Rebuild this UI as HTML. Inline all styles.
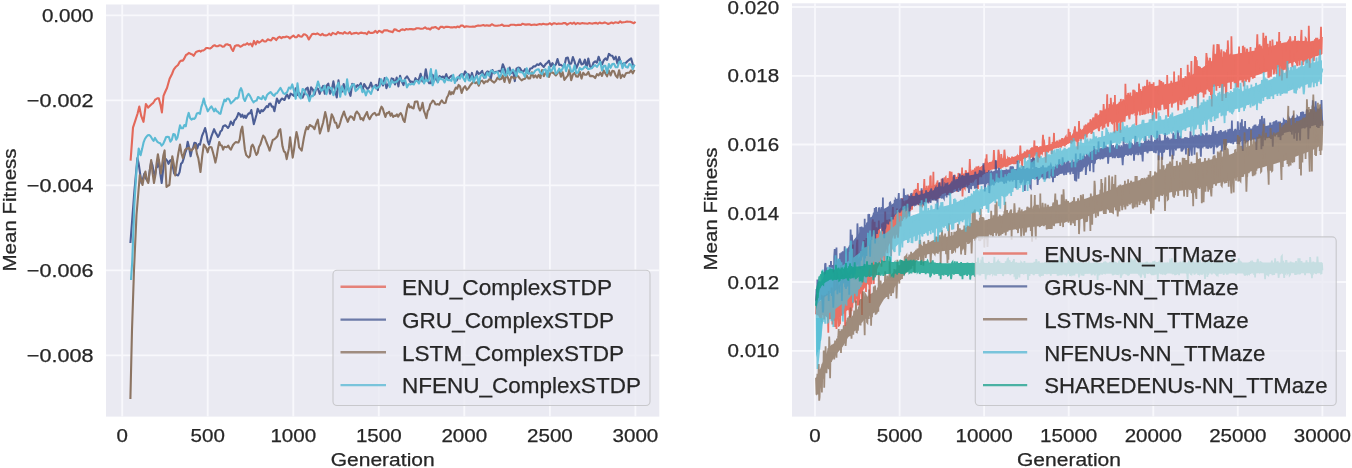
<!DOCTYPE html>
<html><head><meta charset="utf-8"><style>html,body{margin:0;padding:0;background:#fff;overflow:hidden}svg{display:block;will-change:transform} text{stroke:#262626;stroke-width:0.25px;paint-order:stroke}</style></head>
<body>
<svg width="1352" height="468" viewBox="0 0 1352 468" font-family='"Liberation Sans", sans-serif' fill="#262626">
<rect width="1352" height="468" fill="#fff"/>
<rect x="106.0" y="4.5" width="553.3" height="412.1" fill="#EAEAF2"/>
<line x1="122.2" y1="4.5" x2="122.2" y2="416.6" stroke="#F8F8FC" stroke-width="1.8"/>
<line x1="207.7" y1="4.5" x2="207.7" y2="416.6" stroke="#F8F8FC" stroke-width="1.8"/>
<line x1="293.3" y1="4.5" x2="293.3" y2="416.6" stroke="#F8F8FC" stroke-width="1.8"/>
<line x1="378.8" y1="4.5" x2="378.8" y2="416.6" stroke="#F8F8FC" stroke-width="1.8"/>
<line x1="464.3" y1="4.5" x2="464.3" y2="416.6" stroke="#F8F8FC" stroke-width="1.8"/>
<line x1="549.9" y1="4.5" x2="549.9" y2="416.6" stroke="#F8F8FC" stroke-width="1.8"/>
<line x1="635.4" y1="4.5" x2="635.4" y2="416.6" stroke="#F8F8FC" stroke-width="1.8"/>
<line x1="106.0" y1="15.3" x2="659.3" y2="15.3" stroke="#F8F8FC" stroke-width="1.8"/>
<line x1="106.0" y1="100.3" x2="659.3" y2="100.3" stroke="#F8F8FC" stroke-width="1.8"/>
<line x1="106.0" y1="185.4" x2="659.3" y2="185.4" stroke="#F8F8FC" stroke-width="1.8"/>
<line x1="106.0" y1="270.4" x2="659.3" y2="270.4" stroke="#F8F8FC" stroke-width="1.8"/>
<line x1="106.0" y1="355.4" x2="659.3" y2="355.4" stroke="#F8F8FC" stroke-width="1.8"/>
<rect x="792.0" y="3.3" width="554.0" height="413.3" fill="#EAEAF2"/>
<line x1="815.0" y1="3.3" x2="815.0" y2="416.6" stroke="#F8F8FC" stroke-width="1.8"/>
<line x1="899.6" y1="3.3" x2="899.6" y2="416.6" stroke="#F8F8FC" stroke-width="1.8"/>
<line x1="984.1" y1="3.3" x2="984.1" y2="416.6" stroke="#F8F8FC" stroke-width="1.8"/>
<line x1="1068.7" y1="3.3" x2="1068.7" y2="416.6" stroke="#F8F8FC" stroke-width="1.8"/>
<line x1="1153.3" y1="3.3" x2="1153.3" y2="416.6" stroke="#F8F8FC" stroke-width="1.8"/>
<line x1="1237.8" y1="3.3" x2="1237.8" y2="416.6" stroke="#F8F8FC" stroke-width="1.8"/>
<line x1="1322.4" y1="3.3" x2="1322.4" y2="416.6" stroke="#F8F8FC" stroke-width="1.8"/>
<line x1="792.0" y1="7.0" x2="1346.0" y2="7.0" stroke="#F8F8FC" stroke-width="1.8"/>
<line x1="792.0" y1="75.8" x2="1346.0" y2="75.8" stroke="#F8F8FC" stroke-width="1.8"/>
<line x1="792.0" y1="144.5" x2="1346.0" y2="144.5" stroke="#F8F8FC" stroke-width="1.8"/>
<line x1="792.0" y1="213.2" x2="1346.0" y2="213.2" stroke="#F8F8FC" stroke-width="1.8"/>
<line x1="792.0" y1="282.0" x2="1346.0" y2="282.0" stroke="#F8F8FC" stroke-width="1.8"/>
<line x1="792.0" y1="350.8" x2="1346.0" y2="350.8" stroke="#F8F8FC" stroke-width="1.8"/>
<text x="122.2" y="442.3" font-size="18.3" text-anchor="middle" textLength="11.4" lengthAdjust="spacingAndGlyphs">0</text>
<text x="207.7" y="442.3" font-size="18.3" text-anchor="middle" textLength="34.3" lengthAdjust="spacingAndGlyphs">500</text>
<text x="293.3" y="442.3" font-size="18.3" text-anchor="middle" textLength="45.8" lengthAdjust="spacingAndGlyphs">1000</text>
<text x="378.8" y="442.3" font-size="18.3" text-anchor="middle" textLength="45.8" lengthAdjust="spacingAndGlyphs">1500</text>
<text x="464.3" y="442.3" font-size="18.3" text-anchor="middle" textLength="45.8" lengthAdjust="spacingAndGlyphs">2000</text>
<text x="549.9" y="442.3" font-size="18.3" text-anchor="middle" textLength="45.8" lengthAdjust="spacingAndGlyphs">2500</text>
<text x="635.4" y="442.3" font-size="18.3" text-anchor="middle" textLength="45.8" lengthAdjust="spacingAndGlyphs">3000</text>
<text x="93.4" y="21.9" font-size="18.3" text-anchor="end" textLength="51.5" lengthAdjust="spacingAndGlyphs">0.000</text>
<text x="93.4" y="106.9" font-size="18.3" text-anchor="end" textLength="66.6" lengthAdjust="spacingAndGlyphs">−0.002</text>
<text x="93.4" y="192.0" font-size="18.3" text-anchor="end" textLength="66.6" lengthAdjust="spacingAndGlyphs">−0.004</text>
<text x="93.4" y="277.0" font-size="18.3" text-anchor="end" textLength="66.6" lengthAdjust="spacingAndGlyphs">−0.006</text>
<text x="93.4" y="362.0" font-size="18.3" text-anchor="end" textLength="66.6" lengthAdjust="spacingAndGlyphs">−0.008</text>
<text x="815.0" y="442.3" font-size="18.3" text-anchor="middle" textLength="11.4" lengthAdjust="spacingAndGlyphs">0</text>
<text x="899.6" y="442.3" font-size="18.3" text-anchor="middle" textLength="45.8" lengthAdjust="spacingAndGlyphs">5000</text>
<text x="984.1" y="442.3" font-size="18.3" text-anchor="middle" textLength="57.2" lengthAdjust="spacingAndGlyphs">10000</text>
<text x="1068.7" y="442.3" font-size="18.3" text-anchor="middle" textLength="57.2" lengthAdjust="spacingAndGlyphs">15000</text>
<text x="1153.3" y="442.3" font-size="18.3" text-anchor="middle" textLength="57.2" lengthAdjust="spacingAndGlyphs">20000</text>
<text x="1237.8" y="442.3" font-size="18.3" text-anchor="middle" textLength="57.2" lengthAdjust="spacingAndGlyphs">25000</text>
<text x="1322.4" y="442.3" font-size="18.3" text-anchor="middle" textLength="57.2" lengthAdjust="spacingAndGlyphs">30000</text>
<text x="779.1" y="13.6" font-size="18.3" text-anchor="end" textLength="51.5" lengthAdjust="spacingAndGlyphs">0.020</text>
<text x="779.1" y="82.4" font-size="18.3" text-anchor="end" textLength="51.5" lengthAdjust="spacingAndGlyphs">0.018</text>
<text x="779.1" y="151.1" font-size="18.3" text-anchor="end" textLength="51.5" lengthAdjust="spacingAndGlyphs">0.016</text>
<text x="779.1" y="219.8" font-size="18.3" text-anchor="end" textLength="51.5" lengthAdjust="spacingAndGlyphs">0.014</text>
<text x="779.1" y="288.6" font-size="18.3" text-anchor="end" textLength="51.5" lengthAdjust="spacingAndGlyphs">0.012</text>
<text x="779.1" y="357.4" font-size="18.3" text-anchor="end" textLength="51.5" lengthAdjust="spacingAndGlyphs">0.010</text>
<text x="382.7" y="466.3" font-size="18.3" text-anchor="middle" textLength="104.0" lengthAdjust="spacingAndGlyphs">Generation</text>
<text x="1069.0" y="466.3" font-size="18.3" text-anchor="middle" textLength="104.0" lengthAdjust="spacingAndGlyphs">Generation</text>
<text transform="translate(15.6,210) rotate(-90)" font-size="18.3" text-anchor="middle" textLength="123.0" lengthAdjust="spacingAndGlyphs">Mean Fitness</text>
<text transform="translate(717.2,209) rotate(-90)" font-size="18.3" text-anchor="middle" textLength="123.0" lengthAdjust="spacingAndGlyphs">Mean Fitness</text>
<polyline points="130.6,160.6 133.0,127.6 135.3,120.6 137.6,113.5 139.3,106.5 141.2,115.9 143.5,121.8 145.9,104.0 148.2,107.6 151.8,104.0 153.0,103.1 154.1,101.5 155.3,99.4 156.5,99.0 157.6,98.2 158.8,98.2 160.4,104.4 161.9,112.4 163.5,95.9 164.7,93.0 165.8,90.5 167.0,88.0 169.6,78.8 172.0,74.0 173.7,69.7 175.4,67.3 178.0,65.0 179.6,61.9 181.2,60.6 182.6,60.8 184.0,59.0 186.0,55.0 187.4,54.3 188.8,52.9 191.0,54.0 192.3,54.4 193.7,55.8 196.0,52.0 198.5,51.0 199.7,50.7 200.8,51.6 202.0,50.5 203.4,50.5 204.8,49.5 206.2,48.0 207.5,48.0 208.7,48.3 210.0,48.5 211.5,47.6 213.0,46.0 214.6,45.2 216.1,46.2 217.7,46.2 219.3,45.4 221.0,45.5 222.5,46.8 224.0,46.5 225.7,44.5 227.3,44.2 228.7,45.0 230.0,45.0 231.5,48.7 233.0,51.0 235.0,46.0 236.9,45.2 238.6,45.4 240.3,46.8 242.0,45.9 243.7,44.5 245.4,44.8 247.2,43.2 248.9,44.7 250.6,43.5 252.3,46.3 254.0,40.9 255.7,44.4 257.4,41.1 259.1,42.7 260.8,41.5 262.6,39.9 264.3,41.5 266.0,41.4 267.7,39.3 269.4,40.0 271.1,40.5 272.8,37.9 274.5,38.2 276.2,40.1 278.0,37.7 279.7,36.8 281.4,38.1 283.1,37.0 284.8,37.2 286.5,36.5 288.2,36.9 289.9,38.4 291.6,36.9 293.4,35.6 295.1,37.3 296.8,37.2 298.5,35.0 300.2,36.5 301.9,36.7 303.6,34.3 305.3,34.5 307.0,35.8 308.8,39.5 310.5,36.6 312.2,34.0 313.9,33.8 315.6,34.2 317.3,33.4 319.0,34.4 320.7,35.3 322.4,33.9 324.2,35.3 325.9,35.4 327.6,35.0 329.3,33.7 331.0,35.2 332.7,32.9 334.4,33.6 336.1,34.3 337.8,32.0 339.5,33.1 341.3,33.1 343.0,33.8 344.7,32.1 346.4,33.3 348.1,33.5 349.8,32.0 351.5,34.1 353.2,33.4 354.9,33.1 356.7,32.8 358.4,33.8 360.1,32.9 361.8,32.6 363.5,33.3 365.2,33.0 366.9,34.2 368.6,31.6 370.3,33.0 372.1,32.9 373.8,32.4 375.5,30.9 377.2,32.9 378.9,30.8 380.6,31.5 382.3,32.5 384.0,30.3 385.7,30.4 387.5,30.3 389.2,31.3 390.9,31.6 392.6,32.2 394.3,29.4 396.0,29.6 397.7,30.8 399.4,31.2 401.1,29.7 402.9,29.4 404.6,30.1 406.3,29.0 408.0,29.4 409.7,29.0 411.4,29.1 413.1,29.4 414.8,29.2 416.5,28.3 418.3,28.2 420.0,28.6 421.7,28.8 423.4,28.4 425.1,27.4 426.8,28.8 428.5,28.5 430.2,29.5 431.9,27.5 433.7,27.6 435.4,27.0 437.1,28.1 438.8,29.1 440.5,26.9 442.2,26.7 443.9,27.8 445.6,26.9 447.3,26.7 449.1,27.0 450.8,27.4 452.5,27.4 454.2,27.0 455.9,27.5 457.6,26.5 459.3,27.2 461.0,25.6 462.7,25.5 464.5,27.1 466.2,26.3 467.9,26.5 469.6,26.8 471.3,26.8 473.0,26.5 474.7,26.8 476.4,25.9 478.1,25.4 479.9,25.8 481.6,25.4 483.3,25.0 485.0,25.7 486.7,25.3 488.4,25.6 490.1,25.6 491.8,24.2 493.5,25.2 495.3,25.8 497.0,25.8 498.7,25.5 500.4,25.2 502.1,24.6 503.8,25.9 505.5,25.8 507.2,25.8 508.9,25.9 510.6,24.8 512.4,24.8 514.1,24.8 515.8,25.3 517.5,24.9 519.2,24.7 520.9,25.0 522.6,23.7 524.3,24.4 526.0,24.6 527.8,24.4 529.5,24.2 531.2,25.1 532.9,24.7 534.6,24.6 536.3,25.0 538.0,24.4 539.7,24.0 541.4,24.5 543.2,23.8 544.9,24.2 546.6,24.4 548.3,24.2 550.0,23.2 551.7,24.6 553.4,23.4 555.1,23.4 556.8,24.1 558.6,23.5 560.3,23.8 562.0,23.7 563.7,23.0 565.4,23.1 567.1,24.6 568.8,23.6 570.5,22.9 572.2,23.8 574.0,22.6 575.7,24.2 577.4,23.0 579.1,23.6 580.8,23.6 582.5,23.0 584.2,23.4 585.9,23.5 587.6,23.7 589.4,23.1 591.1,23.5 592.8,23.6 594.5,23.1 596.2,22.9 597.9,23.7 599.6,22.5 601.3,23.3 603.0,23.1 604.8,22.4 606.5,23.1 608.2,24.0 609.9,23.3 611.6,22.5 613.3,23.4 615.0,22.4 616.7,22.5 618.4,23.0 620.2,21.4 621.9,22.6 623.6,22.2 625.3,22.0 627.0,21.6 628.7,21.8 630.4,21.8 632.1,22.5 633.8,23.2 635.6,21.9" fill="none" stroke="#E3685A" stroke-width="2.1" stroke-linejoin="round" stroke-linecap="butt" stroke-opacity="1.0"/>
<polyline points="130.4,243.0 132.4,217.0 134.4,191.0 137.4,158.0 138.7,163.8 141.5,183.0 142.9,178.9 144.4,173.5 145.7,178.1 147.0,180.0 148.3,181.2 149.8,170.2 151.2,161.9 152.5,165.4 153.7,172.8 155.0,175.4 156.3,167.8 157.5,166.7 158.8,160.0 160.2,173.0 161.7,183.0 163.1,170.4 164.6,158.1 165.9,159.0 167.2,160.8 168.5,163.8 169.9,160.7 171.3,160.0 172.8,166.5 174.2,173.5 175.5,174.2 176.8,175.0 178.1,175.4 179.6,172.1 181.0,163.8 182.4,162.4 183.8,158.1 185.1,153.2 186.4,149.6 187.7,141.7 189.1,147.5 190.6,156.2 191.9,150.0 193.1,147.8 194.4,142.7 195.9,143.3 197.3,148.5 198.7,144.2 200.0,144.6 202.0,136.0 203.6,132.1 205.1,128.0 206.4,133.4 207.7,141.2 209.0,144.6 211.5,136.0 214.1,129.2 215.4,132.4 216.7,134.4 218.0,136.9 219.3,134.8 220.5,131.4 221.8,130.5 223.1,126.4 224.3,125.6 225.6,125.4 228.0,128.0 229.4,125.7 230.8,121.5 233.0,125.0 234.4,120.5 235.9,119.0 237.2,116.6 238.4,113.1 239.7,113.8 241.0,116.8 242.3,114.7 243.6,117.7 244.9,115.7 246.1,117.9 247.4,115.1 248.7,113.4 250.0,113.4 251.3,110.0 253.8,124.1 255.1,119.7 256.4,115.0 257.7,108.7 260.0,113.0 261.4,110.1 262.8,111.3 264.1,109.8 265.4,107.9 266.7,106.2 268.0,107.2 269.2,103.8 270.5,103.6 271.8,106.7 273.1,106.5 274.4,111.3 276.9,98.5 279.0,103.0 280.5,100.2 282.0,98.5 284.5,100.0 285.9,96.4 287.2,94.6 288.9,98.3 290.6,93.7 292.3,94.7 294.0,95.8 295.7,88.4 297.5,95.1 299.2,92.9 300.9,95.5 302.6,97.7 304.3,93.7 306.0,88.8 307.7,87.6 309.4,97.7 311.1,87.3 312.9,89.7 314.6,94.6 316.3,87.8 318.0,88.9 319.7,93.8 321.4,89.0 323.1,85.9 324.8,93.7 326.5,85.8 328.3,83.6 330.0,93.7 331.7,90.2 333.4,81.4 335.1,90.7 336.8,97.5 338.5,80.3 340.2,92.2 341.9,91.7 343.7,84.0 345.4,90.2 347.1,85.6 348.8,90.7 350.5,95.8 352.2,83.9 353.9,84.4 355.6,87.8 357.3,85.2 359.1,86.3 360.8,83.2 362.5,90.8 364.2,84.1 365.9,86.8 367.6,89.1 369.3,87.1 371.0,82.7 372.7,88.2 374.5,86.2 376.2,84.9 377.9,90.1 379.6,78.9 381.3,82.3 383.0,85.5 384.7,78.1 386.4,88.2 388.1,84.1 389.8,85.9 391.6,78.4 393.3,78.9 395.0,84.5 396.7,77.6 398.4,86.4 400.1,75.7 401.8,81.6 403.5,85.1 405.2,78.5 407.0,76.3 408.7,79.0 410.4,82.1 412.1,81.6 413.8,83.4 415.5,78.2 417.2,80.9 418.9,79.2 420.6,73.8 422.4,81.5 424.1,80.1 425.8,69.2 427.5,79.0 429.2,83.3 430.9,83.3 432.6,74.7 434.3,80.0 436.0,78.2 437.8,82.0 439.5,76.0 441.2,77.4 442.9,76.5 444.6,78.2 446.3,74.2 448.0,79.6 449.7,77.2 451.4,75.7 453.2,77.6 454.9,80.6 456.6,80.5 458.3,77.4 460.0,75.4 461.7,74.0 463.4,75.9 465.1,71.4 466.8,74.0 468.6,74.2 470.3,78.8 472.0,72.9 473.7,79.3 475.4,78.0 477.1,71.3 478.8,73.9 480.5,73.0 482.2,70.9 484.0,77.7 485.7,73.4 487.4,71.4 489.1,72.0 490.8,78.9 492.5,70.1 494.2,73.3 495.9,71.8 497.6,71.7 499.4,70.8 501.1,71.8 502.8,64.2 504.5,68.4 506.2,73.5 507.9,72.5 509.6,67.6 511.3,73.1 513.0,70.2 514.8,81.1 516.5,68.7 518.2,67.6 519.9,68.1 521.6,70.9 523.3,71.8 525.0,69.2 526.7,72.1 528.4,73.3 530.2,68.6 531.9,68.2 533.6,66.2 535.3,66.4 537.0,64.3 538.7,64.9 540.4,63.2 542.1,65.2 543.8,67.0 545.6,64.1 547.3,62.7 549.0,60.7 550.7,66.5 552.4,63.1 554.1,66.2 555.8,64.6 557.5,59.0 559.2,64.9 560.9,64.7 562.7,66.2 564.4,65.9 566.1,58.0 567.8,57.6 569.5,64.0 571.2,63.4 572.9,57.1 574.6,61.7 576.3,68.3 578.1,64.0 579.8,59.3 581.5,64.4 583.2,63.8 584.9,59.7 586.6,67.6 588.3,58.5 590.0,66.2 591.7,68.0 593.5,62.6 595.2,61.4 596.9,62.7 598.6,56.7 600.3,61.6 602.0,64.4 603.7,60.3 605.4,58.4 607.1,59.9 608.9,53.9 610.6,55.4 612.3,55.8 614.0,59.3 615.7,56.7 617.4,63.6 619.1,57.1 620.8,62.6 622.5,64.8 624.3,63.1 626.0,62.8 627.7,61.0 629.4,59.6 631.1,58.4 632.8,64.5 634.5,66.4" fill="none" stroke="#4C5E95" stroke-width="2.1" stroke-linejoin="round" stroke-linecap="butt" stroke-opacity="1.0"/>
<polyline points="130.4,399.0 132.0,330.0 134.0,270.0 136.5,215.0 139.8,175.0 142.5,185.0 143.9,177.2 145.4,171.5 146.9,180.2 148.3,183.0 149.8,170.4 151.2,160.0 152.6,173.2 154.0,183.0 155.3,175.6 156.6,163.1 157.9,154.2 159.4,163.5 160.8,173.5 162.1,165.0 163.3,155.7 164.6,150.4 166.5,186.9 167.9,185.8 169.4,185.0 170.9,169.0 172.3,156.2 173.8,164.3 175.2,175.4 176.8,163.2 178.4,153.0 180.0,144.6 181.4,153.2 182.9,158.1 185.0,150.0 186.3,148.8 187.7,148.5 189.0,147.7 190.2,150.3 191.5,150.4 192.8,149.1 194.1,147.4 195.4,144.6 196.9,153.8 198.3,158.1 200.5,172.0 202.2,156.2 203.8,144.6 205.1,146.4 206.4,148.4 207.7,152.3 209.0,147.7 210.2,147.0 211.5,147.2 212.8,151.7 214.1,156.8 215.4,162.6 216.7,156.4 217.9,148.6 219.2,142.0 220.5,145.2 221.8,145.5 223.1,149.7 224.4,146.7 225.6,147.0 226.9,147.2 228.2,145.6 229.5,148.1 230.8,149.7 233.0,145.0 234.4,143.3 235.9,142.0 237.2,142.5 238.4,142.5 239.7,139.5 241.0,130.4 242.3,126.7 244.9,149.7 246.2,155.0 247.4,156.2 248.7,157.4 250.0,156.1 251.3,146.6 252.6,144.6 253.9,147.3 255.1,151.5 256.4,154.9 257.7,153.0 259.0,146.9 260.3,144.6 261.8,139.8 263.2,135.6 264.8,137.5 266.4,142.0 268.0,146.0 269.6,150.6 271.2,145.3 272.8,139.9 274.4,139.2 276.0,137.8 277.4,136.2 278.9,130.5 280.3,129.2 282.5,146.3 283.9,151.3 285.3,152.4 286.7,159.1 288.9,148.4 290.1,137.2 292.7,157.7 294.0,149.8 295.2,140.3 296.5,132.0 297.8,137.5 299.1,147.4 301.7,150.6 303.9,137.8 305.4,130.9 306.8,126.9 308.1,129.2 309.7,125.0 311.3,126.0 312.9,126.8 314.5,129.2 316.1,123.8 317.8,119.6 319.9,133.5 321.5,128.1 323.1,122.8 325.2,112.1 326.8,119.1 328.4,131.3 330.0,124.0 331.7,114.2 333.3,117.4 334.9,122.8 336.2,122.9 337.5,127.9 338.8,126.9 340.1,123.1 341.5,118.0 344.0,111.5 345.3,115.9 346.5,118.6 347.8,121.8 349.1,118.4 350.4,116.3 351.7,116.7 354.0,120.0 355.4,113.9 356.8,111.5 358.1,113.1 359.3,114.7 360.6,119.2 361.9,118.2 363.2,120.3 364.5,116.7 367.0,112.0 368.3,117.0 369.6,119.2 371.3,115.9 373.0,113.8 374.7,112.8 376.2,115.3 377.7,114.4 379.0,114.7 380.2,110.0 381.5,106.7 382.8,108.6 384.1,113.2 385.4,116.9 386.7,113.1 387.9,113.1 389.2,111.8 390.5,115.8 391.8,113.4 393.1,116.9 394.4,115.7 395.6,116.0 396.9,114.4 398.2,116.7 399.5,114.3 400.8,113.1 402.1,115.7 403.3,120.0 404.6,122.0 405.9,114.8 407.2,107.7 408.5,104.1 409.8,107.4 411.0,106.5 412.3,108.0 413.6,108.4 414.9,101.8 416.2,101.5 417.5,101.6 418.7,107.6 420.0,110.5 421.3,107.9 422.6,102.8 423.9,110.9 425.1,113.9 426.4,118.2 427.7,111.1 429.0,109.2 430.3,104.1 431.6,102.6 432.8,100.5 434.1,101.5 435.4,104.3 436.6,104.5 437.9,104.1 439.2,104.7 440.5,102.2 441.8,100.3 443.1,102.3 444.3,103.1 445.6,102.8 446.9,97.5 448.2,95.5 449.5,91.3 450.8,94.4 452.0,92.2 453.3,93.8 454.6,90.1 455.9,87.5 457.2,88.7 458.6,84.9 460.0,86.2 461.7,93.0 463.4,88.1 465.1,86.2 466.8,89.9 468.5,88.1 470.3,85.3 472.0,83.3 473.7,81.6 475.4,83.2 477.1,82.2 478.8,85.7 480.5,81.3 482.2,80.6 483.9,83.3 485.7,81.2 487.4,81.8 489.1,79.3 490.8,79.7 492.5,81.4 494.2,82.6 495.9,80.8 497.6,77.6 499.3,79.4 501.1,78.9 502.8,75.7 504.5,82.0 506.2,74.6 507.9,77.7 509.6,82.8 511.3,76.7 513.0,77.5 514.7,78.7 516.5,75.4 518.2,76.5 519.9,78.6 521.6,80.4 523.3,79.2 525.0,78.7 526.7,75.4 528.4,78.4 530.1,78.4 531.9,72.2 533.6,77.5 535.3,75.4 537.0,77.6 538.7,74.8 540.4,78.0 542.1,70.0 543.8,76.3 545.5,73.1 547.3,71.2 549.0,76.9 550.7,72.1 552.4,72.5 554.1,73.5 555.8,75.5 557.5,73.3 559.2,70.0 560.9,76.8 562.6,72.3 564.4,79.9 566.1,77.6 567.8,75.6 569.5,69.5 571.2,80.2 572.9,74.6 574.6,72.9 576.3,76.5 578.0,76.7 579.8,71.7 581.5,78.6 583.2,72.7 584.9,74.8 586.6,74.6 588.3,72.0 590.0,76.1 591.7,75.9 593.4,76.2 595.2,78.1 596.9,74.1 598.6,75.4 600.3,72.7 602.0,75.9 603.7,70.4 605.4,73.5 607.1,76.3 608.8,70.6 610.6,75.5 612.3,70.8 614.0,71.2 615.7,75.6 617.4,77.6 619.1,70.2 620.8,78.1 622.5,74.8 624.2,76.9 626.0,73.2 627.7,72.8 629.4,72.6 631.1,70.4 632.8,73.3 634.5,69.9" fill="none" stroke="#8C7462" stroke-width="2.1" stroke-linejoin="round" stroke-linecap="butt" stroke-opacity="1.0"/>
<polyline points="131.0,280.0 132.2,262.0 134.4,204.0 136.5,170.0 138.7,148.5 140.6,155.2 142.1,149.1 143.5,142.7 144.9,139.0 146.3,136.9 147.8,135.3 149.2,135.0 150.6,136.3 152.1,138.8 153.6,140.8 155.0,137.9 156.3,140.2 157.5,142.0 158.8,142.7 160.2,143.3 161.7,145.6 163.1,144.1 164.6,140.8 166.1,137.0 167.5,136.9 168.9,137.1 170.4,141.7 171.9,139.6 173.3,134.0 174.8,134.4 176.2,139.8 177.5,137.4 178.7,131.8 180.0,125.4 181.4,128.3 182.9,128.3 184.4,125.0 185.8,126.3 187.2,118.1 188.7,112.9 190.1,118.0 191.5,119.6 192.8,118.6 194.1,119.0 195.4,117.7 196.9,113.4 198.3,112.9 200.0,113.8 201.3,107.1 202.5,103.6 203.8,98.5 205.1,104.1 206.4,107.2 207.7,111.3 210.0,108.0 211.4,106.4 212.8,108.7 214.1,111.4 215.4,108.6 216.7,111.3 218.0,111.8 219.2,113.4 220.5,113.8 221.8,108.2 223.1,104.0 224.4,99.7 225.7,101.2 226.9,98.7 228.2,98.5 229.5,100.0 230.8,103.4 232.1,102.3 234.5,100.0 235.8,98.1 237.2,98.5 238.5,97.0 239.7,90.9 241.0,88.2 242.3,91.5 243.6,98.6 244.9,101.0 247.0,96.0 248.5,93.8 250.0,95.9 252.0,100.0 253.6,102.3 255.1,101.0 256.6,100.6 258.0,97.0 260.3,98.5 261.6,99.2 263.0,96.0 265.4,99.7 267.1,94.9 268.8,93.3 270.5,92.0 273.0,95.0 274.3,95.8 275.6,93.6 276.9,93.3 279.0,90.0 280.5,87.9 282.0,90.8 283.5,93.4 285.0,94.0 287.2,92.0 288.9,87.5 290.6,88.6 292.3,84.4 294.0,91.1 295.7,98.7 297.5,83.3 299.2,96.3 300.9,98.5 302.6,89.0 304.3,90.1 306.0,94.2 307.7,95.1 309.4,101.2 311.1,95.7 312.9,96.2 314.6,90.9 316.3,88.1 318.0,81.6 319.7,87.1 321.4,90.8 323.1,89.5 324.8,85.6 326.5,94.1 328.3,87.1 330.0,87.9 331.7,88.1 333.4,95.3 335.1,90.3 336.8,86.6 338.5,82.8 340.2,96.8 341.9,86.3 343.7,90.5 345.4,94.6 347.1,79.4 348.8,91.6 350.5,87.9 352.2,84.8 353.9,84.2 355.6,91.1 357.3,89.5 359.1,87.2 360.8,85.6 362.5,92.2 364.2,90.1 365.9,95.3 367.6,90.5 369.3,91.5 371.0,94.0 372.7,88.7 374.5,86.2 376.2,88.6 377.9,87.4 379.6,86.5 381.3,79.3 383.0,83.9 384.7,83.3 386.4,77.5 388.1,79.8 389.8,87.1 391.6,80.4 393.3,82.8 395.0,82.2 396.7,81.7 398.4,79.9 400.1,78.0 401.8,81.4 403.5,81.0 405.2,79.9 407.0,87.4 408.7,84.0 410.4,84.5 412.1,83.8 413.8,84.5 415.5,81.1 417.2,80.7 418.9,83.5 420.6,79.6 422.4,77.0 424.1,83.4 425.8,79.4 427.5,81.3 429.2,78.9 430.9,69.1 432.6,85.3 434.3,80.3 436.0,70.3 437.8,82.5 439.5,77.6 441.2,79.1 442.9,79.3 444.6,82.5 446.3,77.8 448.0,80.2 449.7,80.0 451.4,80.8 453.2,74.7 454.9,83.0 456.6,77.9 458.3,77.0 460.0,78.7 461.7,74.2 463.4,78.3 465.1,81.3 466.8,73.7 468.6,80.2 470.3,80.7 472.0,76.3 473.7,82.0 475.4,77.3 477.1,76.0 478.8,83.7 480.5,76.1 482.2,74.2 484.0,76.8 485.7,77.7 487.4,72.7 489.1,75.7 490.8,70.6 492.5,71.0 494.2,73.2 495.9,72.6 497.6,71.9 499.4,77.5 501.1,74.6 502.8,69.1 504.5,75.3 506.2,75.6 507.9,68.6 509.6,75.1 511.3,71.4 513.0,69.6 514.8,72.2 516.5,76.0 518.2,68.6 519.9,72.2 521.6,72.0 523.3,73.6 525.0,76.7 526.7,68.2 528.4,73.5 530.2,73.2 531.9,73.4 533.6,73.1 535.3,70.6 537.0,69.6 538.7,69.2 540.4,73.0 542.1,74.2 543.8,69.9 545.6,69.3 547.3,76.6 549.0,66.8 550.7,71.6 552.4,69.4 554.1,65.3 555.8,73.7 557.5,72.3 559.2,68.7 560.9,71.5 562.7,68.4 564.4,63.8 566.1,71.3 567.8,64.9 569.5,65.6 571.2,71.6 572.9,71.4 574.6,65.4 576.3,73.0 578.1,72.5 579.8,67.9 581.5,69.6 583.2,68.6 584.9,66.5 586.6,66.9 588.3,69.3 590.0,68.6 591.7,68.3 593.5,66.2 595.2,65.1 596.9,66.9 598.6,64.5 600.3,61.9 602.0,70.4 603.7,65.8 605.4,65.8 607.1,72.9 608.9,64.0 610.6,67.8 612.3,64.0 614.0,63.7 615.7,67.3 617.4,67.3 619.1,62.1 620.8,61.1 622.5,68.2 624.3,63.2 626.0,67.1 627.7,67.6 629.4,63.9 631.1,65.0 632.8,69.2 634.5,64.7" fill="none" stroke="#5CBAD4" stroke-width="2.1" stroke-linejoin="round" stroke-linecap="butt" stroke-opacity="1.0"/>
<g opacity="0.75">
<polygon points="816.0,303.2 818.0,302.0 820.0,300.9 822.0,299.7 824.0,298.6 826.0,297.2 828.0,295.7 830.0,294.2 832.0,292.7 834.0,291.2 836.0,289.1 838.0,286.4 840.0,283.7 842.0,281.1 844.0,278.4 846.0,275.7 848.0,273.1 850.0,270.4 852.0,267.5 854.0,264.6 856.0,261.7 858.0,258.8 860.0,255.9 862.0,253.0 864.0,250.8 866.0,248.6 868.0,246.4 870.0,244.1 872.0,241.9 874.0,239.7 876.0,237.3 878.0,234.8 880.0,232.3 882.0,229.8 884.0,227.2 886.0,224.7 888.0,222.2 890.0,220.0 892.0,217.7 894.0,215.5 896.0,213.3 898.0,211.0 900.0,208.8 902.0,206.4 904.0,204.0 906.0,201.6 908.0,199.2 910.0,196.8 912.0,194.4 914.0,192.9 916.0,192.2 918.0,191.6 920.0,190.9 922.0,190.3 924.0,189.6 926.0,189.0 928.0,188.0 930.0,187.1 932.0,186.1 934.0,185.1 936.0,184.2 938.0,183.2 940.0,182.6 942.0,181.9 944.0,181.3 946.0,180.6 948.0,180.0 950.0,179.3 952.0,178.6 954.0,177.8 956.0,177.1 958.0,176.3 960.0,175.5 962.0,174.8 964.0,174.0 966.0,173.1 968.0,172.3 970.0,171.4 972.0,170.6 974.0,169.7 976.0,168.8 978.0,167.9 980.0,167.0 982.0,166.1 984.0,165.2 986.0,164.3 988.0,163.4 990.0,162.5 992.0,161.6 994.0,161.3 996.0,161.0 998.0,160.7 1000.0,160.4 1002.0,160.1 1004.0,159.8 1006.0,159.5 1008.0,159.2 1010.0,158.4 1012.0,157.6 1014.0,156.8 1016.0,156.0 1018.0,155.2 1020.0,154.4 1022.0,153.6 1024.0,152.7 1026.0,151.8 1028.0,150.9 1030.0,150.0 1032.0,149.1 1034.0,148.2 1036.0,147.7 1038.0,147.2 1040.0,146.7 1042.0,146.2 1044.0,145.7 1046.0,145.2 1048.0,144.8 1050.0,144.3 1052.0,143.8 1054.0,143.3 1056.0,142.8 1058.0,141.9 1060.0,140.9 1062.0,140.0 1064.0,139.1 1066.0,138.1 1068.0,137.2 1070.0,136.2 1072.0,135.2 1074.0,134.2 1076.0,133.1 1078.0,132.1 1080.0,131.1 1082.0,129.6 1084.0,127.7 1086.0,125.8 1088.0,123.8 1090.0,121.9 1092.0,119.9 1094.0,118.0 1096.0,116.6 1098.0,115.2 1100.0,113.8 1102.0,112.3 1104.0,110.9 1106.0,109.5 1108.0,108.3 1110.0,107.3 1112.0,106.3 1114.0,105.4 1116.0,104.4 1118.0,103.4 1120.0,102.4 1122.0,101.3 1124.0,100.2 1126.0,99.1 1128.0,98.0 1130.0,96.8 1132.0,95.7 1134.0,94.6 1136.0,93.5 1138.0,92.4 1140.0,91.5 1142.0,90.7 1144.0,89.8 1146.0,89.0 1148.0,88.1 1150.0,87.2 1152.0,86.6 1154.0,86.3 1156.0,86.0 1158.0,85.6 1160.0,85.3 1162.0,84.9 1164.0,84.6 1166.0,84.1 1168.0,83.7 1170.0,83.2 1172.0,82.8 1174.0,82.3 1176.0,81.8 1178.0,81.2 1180.0,80.3 1182.0,79.4 1184.0,78.6 1186.0,77.7 1188.0,76.9 1190.0,76.0 1192.0,74.7 1194.0,73.4 1196.0,72.2 1198.0,70.9 1200.0,69.6 1202.0,68.1 1204.0,66.6 1206.0,65.1 1208.0,63.7 1210.0,62.2 1212.0,60.7 1214.0,59.2 1216.0,58.6 1218.0,58.1 1220.0,57.5 1222.0,56.9 1224.0,56.3 1226.0,55.8 1228.0,55.2 1230.0,54.9 1232.0,54.6 1234.0,54.3 1236.0,53.9 1238.0,53.6 1240.0,53.3 1242.0,53.0 1244.0,52.6 1246.0,52.3 1248.0,51.9 1250.0,51.5 1252.0,51.1 1254.0,50.8 1256.0,50.4 1258.0,49.9 1260.0,49.4 1262.0,48.8 1264.0,48.3 1266.0,47.8 1268.0,47.3 1270.0,46.7 1272.0,46.1 1274.0,45.4 1276.0,44.8 1278.0,44.2 1280.0,43.5 1282.0,42.9 1284.0,42.5 1286.0,42.2 1288.0,42.0 1290.0,41.7 1292.0,41.4 1294.0,41.2 1296.0,40.9 1298.0,40.8 1300.0,40.9 1302.0,41.0 1304.0,41.1 1306.0,41.2 1308.0,41.3 1310.0,41.4 1312.0,41.1 1314.0,40.6 1316.0,40.0 1318.0,39.5 1320.0,38.9 1322.0,38.4 1322.0,54.6 1320.0,55.1 1318.0,55.7 1316.0,56.2 1314.0,56.8 1312.0,57.3 1310.0,57.9 1308.0,58.4 1306.0,58.9 1304.0,59.4 1302.0,59.9 1300.0,60.4 1298.0,60.9 1296.0,61.5 1294.0,62.1 1292.0,62.7 1290.0,63.3 1288.0,63.9 1286.0,64.5 1284.0,65.1 1282.0,65.8 1280.0,66.6 1278.0,67.4 1276.0,68.2 1274.0,69.0 1272.0,69.8 1270.0,70.6 1268.0,71.4 1266.0,72.1 1264.0,72.8 1262.0,73.5 1260.0,74.2 1258.0,74.9 1256.0,75.6 1254.0,76.2 1252.0,76.9 1250.0,77.5 1248.0,78.1 1246.0,78.7 1244.0,79.4 1242.0,80.0 1240.0,80.4 1238.0,80.8 1236.0,81.2 1234.0,81.6 1232.0,82.0 1230.0,82.4 1228.0,82.8 1226.0,83.4 1224.0,83.9 1222.0,84.5 1220.0,85.1 1218.0,85.7 1216.0,86.2 1214.0,86.8 1212.0,87.6 1210.0,88.4 1208.0,89.2 1206.0,90.0 1204.0,90.8 1202.0,91.6 1200.0,92.4 1198.0,93.3 1196.0,94.2 1194.0,95.2 1192.0,96.1 1190.0,97.0 1188.0,97.7 1186.0,98.4 1184.0,99.0 1182.0,99.7 1180.0,100.4 1178.0,101.1 1176.0,101.6 1174.0,102.1 1172.0,102.6 1170.0,103.0 1168.0,103.5 1166.0,103.9 1164.0,104.4 1162.0,104.8 1160.0,105.3 1158.0,105.7 1156.0,106.1 1154.0,106.6 1152.0,107.0 1150.0,107.5 1148.0,108.2 1146.0,108.9 1144.0,109.6 1142.0,110.2 1140.0,110.9 1138.0,111.6 1136.0,112.4 1134.0,113.2 1132.0,113.9 1130.0,114.7 1128.0,115.5 1126.0,116.3 1124.0,117.0 1122.0,117.8 1120.0,118.6 1118.0,119.3 1116.0,120.0 1114.0,120.7 1112.0,121.4 1110.0,122.1 1108.0,122.8 1106.0,123.7 1104.0,124.8 1102.0,125.8 1100.0,126.9 1098.0,127.9 1096.0,129.0 1094.0,130.0 1092.0,131.3 1090.0,132.6 1088.0,133.9 1086.0,135.2 1084.0,136.5 1082.0,137.8 1080.0,138.8 1078.0,139.6 1076.0,140.5 1074.0,141.3 1072.0,142.1 1070.0,143.0 1068.0,143.8 1066.0,144.5 1064.0,145.3 1062.0,146.0 1060.0,146.7 1058.0,147.5 1056.0,148.2 1054.0,148.8 1052.0,149.4 1050.0,150.1 1048.0,150.7 1046.0,151.3 1044.0,151.9 1042.0,152.5 1040.0,153.0 1038.0,153.6 1036.0,154.2 1034.0,154.8 1032.0,155.6 1030.0,156.4 1028.0,157.2 1026.0,158.0 1024.0,158.8 1022.0,159.6 1020.0,160.4 1018.0,161.3 1016.0,162.2 1014.0,163.1 1012.0,164.0 1010.0,164.9 1008.0,165.8 1006.0,166.2 1004.0,166.7 1002.0,167.2 1000.0,167.6 998.0,168.1 996.0,168.5 994.0,168.9 992.0,169.4 990.0,170.6 988.0,171.9 986.0,173.1 984.0,174.3 982.0,175.5 980.0,176.8 978.0,178.0 976.0,179.2 974.0,180.3 972.0,181.4 970.0,182.6 968.0,183.7 966.0,184.9 964.0,186.0 962.0,186.8 960.0,187.5 958.0,188.3 956.0,189.1 954.0,189.8 952.0,190.6 950.0,191.4 948.0,192.1 946.0,192.8 944.0,193.6 942.0,194.3 940.0,195.1 938.0,195.8 936.0,196.7 934.0,197.5 932.0,198.4 930.0,199.3 928.0,200.1 926.0,201.0 924.0,201.7 922.0,202.5 920.0,203.2 918.0,204.0 916.0,204.7 914.0,205.4 912.0,207.1 910.0,209.8 908.0,212.5 906.0,215.2 904.0,217.8 902.0,220.5 900.0,223.2 898.0,227.1 896.0,231.1 894.0,235.0 892.0,238.9 890.0,242.9 888.0,246.8 886.0,250.9 884.0,255.0 882.0,259.1 880.0,263.2 878.0,267.3 876.0,271.4 874.0,274.8 872.0,277.7 870.0,280.6 868.0,283.4 866.0,286.3 864.0,289.1 862.0,292.0 860.0,294.6 858.0,297.2 856.0,299.8 854.0,302.4 852.0,305.0 850.0,307.6 848.0,309.5 846.0,311.3 844.0,313.2 842.0,315.1 840.0,316.9 838.0,318.8 836.0,320.7 834.0,321.0 832.0,319.9 830.0,318.8 828.0,317.7 826.0,316.6 824.0,315.6 822.0,314.9 820.0,314.2 818.0,313.5 816.0,312.8" fill="#EC4634"/>
<polyline points="816.0,314.4 816.5,300.8 816.9,294.3 817.4,315.2 817.8,306.7 818.3,309.7 818.7,312.8 819.2,315.5 819.6,316.3 820.1,307.8 820.5,312.6 821.0,312.6 821.5,322.2 821.9,296.1 822.4,296.5 822.8,296.7 823.3,307.4 823.7,295.6 824.2,319.6 824.6,303.7 825.1,295.0 825.6,314.0 826.0,303.1 826.5,296.7 826.9,293.9 827.4,302.2 827.8,309.9 828.3,332.7 828.7,291.1 829.2,313.9 829.6,319.3 830.1,296.9 830.6,317.6 831.0,316.6 831.5,287.4 831.9,289.2 832.4,324.4 832.8,292.3 833.3,296.7 833.7,311.6 834.2,277.7 834.7,272.7 835.1,327.1 835.6,301.1 836.0,314.2 836.5,329.0 836.9,269.5 837.4,285.2 837.8,279.4 838.3,317.5 838.7,325.6 839.2,325.3 839.7,323.5 840.1,323.2 840.6,292.2 841.0,264.9 841.5,282.2 841.9,285.9 842.4,315.8 842.8,273.7 843.3,313.4 843.8,306.0 844.2,277.6 844.7,268.5 845.1,326.3 845.6,305.8 846.0,267.4 846.5,275.2 846.9,272.6 847.4,297.6 847.8,310.2 848.3,295.5 848.8,284.0 849.2,305.0 849.7,314.6 850.1,317.5 850.6,312.8 851.0,298.1 851.5,311.3 851.9,302.3 852.4,307.7 852.9,244.4 853.3,294.9 853.8,255.8 854.2,268.2 854.7,300.1 855.1,300.8 855.6,303.0 856.0,257.8 856.5,253.8 856.9,243.9 857.4,239.6 857.9,305.6 858.3,268.0 858.8,305.3 859.2,300.3 859.7,289.2 860.1,257.9 860.6,288.6 861.0,251.0 861.5,264.5 862.0,314.9 862.4,261.6 862.9,249.0 863.3,282.6 863.8,268.4 864.2,240.0 864.7,257.4 865.1,277.8 865.6,243.3 866.0,292.1 866.5,238.1 867.0,258.0 867.4,246.3 867.9,270.0 868.3,277.9 868.8,284.6 869.2,269.6 869.7,302.9 870.1,275.0 870.6,258.3 871.1,239.9 871.5,284.2 872.0,246.6 872.4,222.3 872.9,219.4 873.3,265.8 873.8,284.0 874.2,241.0 874.7,221.8 875.1,271.6 875.6,259.9 876.1,275.4 876.5,227.3 877.0,233.5 877.4,228.4 877.9,262.4 878.3,260.6 878.8,220.5 879.2,233.4 879.7,231.9 880.2,242.7 880.6,259.1 881.1,232.0 881.5,266.8 882.0,223.6 882.4,254.6 882.9,232.3 883.3,222.2 883.8,243.5 884.2,262.3 884.7,255.7 885.2,211.6 885.6,231.6 886.1,229.4 886.5,224.0 887.0,219.8 887.4,253.3 887.9,230.1 888.3,222.5 888.8,237.7 889.3,219.3 889.7,224.9 890.2,241.6 890.6,224.5 891.1,256.0 891.5,239.3 892.0,223.7 892.4,216.5 892.9,207.0 893.3,234.4 893.8,214.7 894.3,222.1 894.7,238.4 895.2,236.9 895.6,232.7 896.1,234.6 896.5,228.9 897.0,208.6 897.4,229.7 897.9,237.6 898.4,230.9 898.8,224.1 899.3,218.8 899.7,221.1 900.2,213.0 900.6,226.4 901.1,210.9 901.5,216.9 902.0,220.9 902.4,198.0 902.9,219.1 903.4,202.5 903.8,200.9 904.3,214.9 904.7,215.6 905.2,217.0 905.6,207.2 906.1,200.2 906.5,217.3 907.0,216.7 907.5,205.8 907.9,199.7 908.4,203.7 908.8,213.5 909.3,197.1 909.7,197.8 910.2,211.1 910.6,207.2 911.1,207.4 911.5,206.5 912.0,209.7 912.5,201.6 912.9,197.5 913.4,192.8 913.8,197.2 914.3,190.6 914.7,190.6 915.2,195.3 915.6,190.5 916.1,189.0 916.6,194.7 917.0,192.6 917.5,196.5 917.9,183.1 918.4,205.3 918.8,195.4 919.3,199.3 919.7,190.8 920.2,206.3 920.6,190.7 921.1,206.4 921.6,201.1 922.0,201.6 922.5,205.8 922.9,205.1 923.4,191.1 923.8,189.2 924.3,179.0 924.7,192.8 925.2,201.5 925.7,188.0 926.1,202.6 926.6,185.7 927.0,197.2 927.5,200.7 927.9,202.2 928.4,191.4 928.8,185.6 929.3,191.4 929.7,202.1 930.2,177.1 930.7,175.6 931.1,189.5 931.6,189.4 932.0,196.5 932.5,200.2 932.9,188.0 933.4,171.7 933.8,196.9 934.3,199.1 934.8,192.8 935.2,186.6 935.7,193.8 936.1,200.1 936.6,182.5 937.0,199.0 937.5,180.4 937.9,194.5 938.4,196.7 938.8,198.5 939.3,186.9 939.8,183.3 940.2,195.2 940.7,194.9 941.1,192.4 941.6,178.7 942.0,181.6 942.5,180.4 942.9,182.1 943.4,184.9 943.9,184.2 944.3,177.6 944.8,191.5 945.2,178.1 945.7,177.3 946.1,180.7 946.6,188.0 947.0,195.0 947.5,188.6 947.9,178.1 948.4,193.2 948.9,182.2 949.3,183.0 949.8,171.4 950.2,181.2 950.7,193.2 951.1,177.8 951.6,171.7 952.0,178.3 952.5,192.6 953.0,177.3 953.4,177.4 953.9,189.0 954.3,177.2 954.8,174.8 955.2,178.3 955.7,185.8 956.1,187.3 956.6,179.6 957.0,191.6 957.5,185.4 958.0,180.9 958.4,173.1 958.9,184.9 959.3,174.7 959.8,175.2 960.2,190.1 960.7,175.5 961.1,186.2 961.6,180.1 962.1,167.6 962.5,196.5 963.0,183.5 963.4,188.2 963.9,173.6 964.3,187.4 964.8,188.3 965.2,177.5 965.7,170.2 966.1,171.7 966.6,181.2 967.1,175.6 967.5,186.6 968.0,178.7 968.4,182.2 968.9,185.0 969.3,172.5 969.8,159.1 970.2,168.4 970.7,171.5 971.2,182.9 971.6,178.8 972.1,179.6 972.5,181.0 973.0,169.9 973.4,180.9 973.9,180.0 974.3,171.9 974.8,169.6 975.2,170.1 975.7,176.7 976.2,167.7 976.6,166.7 977.1,179.0 977.5,175.2 978.0,189.1 978.4,165.9 978.9,177.1 979.3,172.2 979.8,169.1 980.3,172.8 980.7,168.6 981.2,177.2 981.6,168.0 982.1,167.3 982.5,168.6 983.0,168.9 983.4,166.3 983.9,166.6 984.3,173.5 984.8,162.8 985.3,165.1 985.7,158.5 986.2,167.0 986.6,154.3 987.1,172.9 987.5,165.0 988.0,163.6 988.4,164.3 988.9,170.0 989.3,165.4 989.8,162.9 990.3,162.9 990.7,168.8 991.2,161.9 991.6,168.9 992.1,167.0 992.5,169.2 993.0,160.4 993.4,161.9 993.9,150.0 994.4,160.8 994.8,168.9 995.3,166.0 995.7,162.8 996.2,162.4 996.6,168.6 997.1,166.7 997.5,168.2 998.0,161.3 998.4,149.7 998.9,152.9 999.4,160.5 999.8,160.9 1000.3,163.4 1000.7,168.9 1001.2,154.1 1001.6,158.1 1002.1,158.8 1002.5,167.7 1003.0,161.8 1003.5,164.6 1003.9,158.1 1004.4,149.7 1004.8,154.1 1005.3,160.5 1005.7,167.1 1006.2,158.7 1006.6,161.2 1007.1,162.4 1007.5,166.6 1008.0,158.1 1008.5,158.8 1008.9,158.4 1009.4,158.1 1009.8,158.6 1010.3,162.8 1010.7,159.8 1011.2,163.9 1011.6,161.6 1012.1,156.7 1012.6,161.1 1013.0,163.5 1013.5,161.5 1013.9,164.1 1014.4,162.3 1014.8,157.6 1015.3,161.5 1015.7,164.0 1016.2,159.9 1016.6,157.0 1017.1,156.2 1017.6,160.3 1018.0,159.6 1018.5,159.9 1018.9,161.3 1019.4,161.9 1019.8,158.0 1020.3,145.6 1020.7,152.9 1021.2,160.9 1021.7,154.5 1022.1,167.6 1022.6,155.5 1023.0,158.6 1023.5,155.4 1023.9,154.9 1024.4,153.0 1024.8,151.4 1025.3,153.7 1025.7,157.1 1026.2,156.4 1026.7,156.2 1027.1,149.7 1027.6,152.1 1028.0,156.7 1028.5,152.5 1028.9,157.2 1029.4,149.8 1029.8,152.5 1030.3,157.6 1030.8,157.2 1031.2,148.0 1031.7,151.0 1032.1,147.4 1032.6,156.8 1033.0,155.0 1033.5,163.6 1033.9,149.2 1034.4,140.4 1034.8,155.6 1035.3,149.8 1035.8,153.7 1036.2,147.1 1036.7,147.4 1037.1,146.0 1037.6,162.3 1038.0,161.4 1038.5,147.8 1038.9,149.2 1039.4,158.3 1039.9,152.4 1040.3,146.3 1040.8,150.7 1041.2,154.2 1041.7,151.7 1042.1,152.5 1042.6,141.6 1043.0,134.7 1043.5,146.5 1043.9,139.6 1044.4,144.3 1044.9,148.4 1045.3,148.6 1045.8,162.7 1046.2,151.5 1046.7,150.9 1047.1,147.1 1047.6,151.5 1048.0,151.8 1048.5,151.1 1049.0,148.0 1049.4,136.8 1049.9,150.6 1050.3,145.4 1050.8,147.7 1051.2,144.7 1051.7,153.9 1052.1,148.8 1052.6,142.1 1053.0,144.6 1053.5,142.7 1054.0,132.9 1054.4,147.8 1054.9,144.2 1055.3,143.5 1055.8,146.3 1056.2,146.7 1056.7,143.1 1057.1,140.7 1057.6,146.2 1058.1,144.2 1058.5,147.7 1059.0,145.6 1059.4,139.8 1059.9,145.4 1060.3,139.6 1060.8,146.0 1061.2,147.4 1061.7,141.3 1062.1,138.2 1062.6,142.0 1063.1,145.4 1063.5,143.9 1064.0,142.8 1064.4,138.2 1064.9,146.4 1065.3,137.6 1065.8,136.8 1066.2,144.8 1066.7,142.8 1067.2,136.9 1067.6,143.4 1068.1,142.3 1068.5,128.7 1069.0,136.5 1069.4,142.2 1069.9,132.0 1070.3,138.4 1070.8,135.7 1071.2,143.4 1071.7,141.6 1072.2,135.8 1072.6,138.3 1073.1,133.7 1073.5,138.5 1074.0,132.3 1074.4,133.0 1074.9,126.3 1075.3,131.6 1075.8,138.7 1076.3,141.5 1076.7,131.7 1077.2,133.7 1077.6,149.5 1078.1,139.3 1078.5,141.0 1079.0,121.0 1079.4,133.9 1079.9,135.5 1080.3,128.8 1080.8,140.7 1081.3,136.6 1081.7,132.7 1082.2,137.9 1082.6,131.5 1083.1,139.2 1083.5,138.1 1084.0,129.7 1084.4,125.7 1084.9,129.1 1085.4,127.1 1085.8,124.5 1086.3,128.7 1086.7,137.5 1087.2,124.8 1087.6,127.4 1088.1,123.9 1088.5,122.9 1089.0,130.4 1089.4,125.4 1089.9,130.8 1090.4,119.3 1090.8,121.2 1091.3,133.9 1091.7,131.5 1092.2,133.1 1092.6,122.8 1093.1,117.5 1093.5,120.3 1094.0,117.7 1094.5,124.7 1094.9,120.7 1095.4,115.0 1095.8,113.6 1096.3,122.5 1096.7,113.6 1097.2,120.0 1097.6,126.5 1098.1,125.4 1098.5,128.9 1099.0,131.1 1099.5,126.5 1099.9,125.4 1100.4,110.4 1100.8,114.8 1101.3,115.1 1101.7,110.6 1102.2,112.8 1102.6,129.4 1103.1,119.5 1103.6,104.0 1104.0,110.9 1104.5,127.7 1104.9,109.5 1105.4,111.4 1105.8,110.5 1106.3,113.0 1106.7,112.6 1107.2,94.3 1107.6,125.0 1108.1,126.6 1108.6,119.3 1109.0,120.5 1109.5,104.0 1109.9,109.9 1110.4,119.7 1110.8,97.8 1111.3,107.6 1111.7,122.7 1112.2,123.1 1112.7,104.5 1113.1,123.2 1113.6,102.3 1114.0,107.0 1114.5,133.3 1114.9,95.1 1115.4,118.2 1115.8,107.6 1116.3,122.2 1116.7,119.1 1117.2,131.2 1117.7,114.7 1118.1,122.6 1118.6,118.4 1119.0,113.0 1119.5,101.8 1119.9,106.8 1120.4,132.7 1120.8,98.9 1121.3,107.3 1121.8,122.4 1122.2,110.9 1122.7,121.6 1123.1,99.2 1123.6,119.7 1124.0,117.9 1124.5,121.6 1124.9,117.3 1125.4,83.8 1125.8,96.3 1126.3,94.9 1126.8,101.9 1127.2,102.0 1127.7,104.3 1128.1,93.0 1128.6,95.3 1129.0,116.4 1129.5,119.3 1129.9,112.9 1130.4,92.5 1130.9,110.7 1131.3,97.3 1131.8,106.5 1132.2,108.7 1132.7,114.3 1133.1,90.6 1133.6,90.5 1134.0,97.3 1134.5,90.6 1134.9,91.7 1135.4,115.8 1135.9,96.7 1136.3,125.5 1136.8,91.9 1137.2,115.3 1137.7,108.8 1138.1,111.2 1138.6,106.2 1139.0,83.5 1139.5,94.5 1140.0,115.6 1140.4,89.1 1140.9,103.6 1141.3,110.1 1141.8,104.2 1142.2,114.9 1142.7,108.0 1143.1,86.6 1143.6,114.5 1144.0,100.9 1144.5,89.1 1145.0,85.9 1145.4,113.4 1145.9,113.2 1146.3,94.9 1146.8,88.5 1147.2,79.7 1147.7,102.5 1148.1,113.5 1148.6,85.3 1149.1,100.6 1149.5,81.8 1150.0,85.6 1150.4,113.1 1150.9,91.1 1151.3,85.6 1151.8,84.0 1152.2,104.5 1152.7,120.5 1153.1,110.7 1153.6,82.3 1154.1,97.9 1154.5,107.7 1155.0,90.5 1155.4,107.6 1155.9,106.3 1156.3,118.8 1156.8,86.3 1157.2,103.6 1157.7,108.3 1158.1,94.4 1158.6,110.5 1159.1,103.4 1159.5,79.8 1160.0,89.6 1160.4,110.2 1160.9,82.8 1161.3,81.1 1161.8,103.1 1162.2,88.3 1162.7,91.6 1163.2,82.4 1163.6,87.1 1164.1,105.6 1164.5,109.6 1165.0,88.8 1165.4,106.5 1165.9,84.1 1166.3,109.0 1166.8,105.2 1167.2,74.9 1167.7,103.2 1168.2,116.7 1168.6,85.1 1169.1,101.5 1169.5,103.8 1170.0,99.1 1170.4,84.5 1170.9,86.2 1171.3,80.7 1171.8,107.6 1172.3,101.3 1172.7,99.7 1173.2,95.7 1173.6,103.6 1174.1,71.4 1174.5,94.4 1175.0,88.8 1175.4,102.7 1175.9,99.3 1176.3,97.2 1176.8,84.4 1177.3,98.9 1177.7,98.2 1178.2,110.4 1178.6,75.3 1179.1,97.0 1179.5,86.4 1180.0,87.1 1180.4,104.8 1180.9,68.1 1181.4,105.0 1181.8,102.6 1182.3,98.4 1182.7,97.7 1183.2,78.0 1183.6,99.8 1184.1,98.2 1184.5,104.3 1185.0,97.0 1185.4,76.2 1185.9,78.7 1186.4,100.5 1186.8,94.1 1187.3,99.8 1187.7,64.8 1188.2,85.1 1188.6,83.8 1189.1,72.4 1189.5,84.7 1190.0,96.1 1190.5,87.1 1190.9,82.2 1191.4,60.9 1191.8,87.2 1192.3,95.9 1192.7,98.6 1193.2,83.0 1193.6,78.5 1194.1,93.1 1194.5,69.5 1195.0,56.0 1195.5,95.9 1195.9,57.0 1196.4,66.2 1196.8,60.4 1197.3,77.6 1197.7,108.3 1198.2,91.1 1198.6,66.0 1199.1,78.6 1199.6,89.8 1200.0,66.8 1200.5,82.0 1200.9,70.9 1201.4,68.2 1201.8,89.4 1202.3,92.5 1202.7,87.3 1203.2,75.7 1203.6,97.6 1204.1,71.4 1204.6,81.1 1205.0,92.7 1205.5,94.3 1205.9,66.6 1206.4,53.1 1206.8,57.4 1207.3,58.1 1207.7,62.8 1208.2,67.2 1208.7,90.8 1209.1,60.6 1209.6,92.0 1210.0,57.7 1210.5,69.8 1210.9,95.1 1211.4,70.5 1211.8,106.5 1212.3,62.7 1212.7,68.9 1213.2,52.8 1213.7,44.6 1214.1,85.7 1214.6,54.9 1215.0,53.9 1215.5,60.7 1215.9,65.8 1216.4,90.8 1216.8,57.4 1217.3,44.1 1217.8,52.8 1218.2,86.1 1218.7,44.3 1219.1,50.2 1219.6,87.9 1220.0,85.1 1220.5,61.2 1220.9,53.5 1221.4,49.4 1221.8,84.8 1222.3,101.0 1222.8,89.7 1223.2,81.7 1223.7,51.3 1224.1,56.2 1224.6,86.7 1225.0,52.2 1225.5,65.1 1225.9,98.0 1226.4,90.5 1226.9,49.5 1227.3,72.6 1227.8,40.4 1228.2,47.8 1228.7,72.7 1229.1,77.8 1229.6,57.2 1230.0,56.2 1230.5,53.9 1230.9,89.1 1231.4,36.3 1231.9,57.8 1232.3,69.9 1232.8,59.3 1233.2,65.7 1233.7,56.0 1234.1,75.2 1234.6,83.2 1235.0,77.0 1235.5,78.2 1236.0,81.7 1236.4,81.3 1236.9,87.8 1237.3,77.8 1237.8,85.6 1238.2,86.0 1238.7,63.6 1239.1,46.6 1239.6,75.6 1240.0,53.3 1240.5,72.9 1241.0,57.7 1241.4,57.1 1241.9,63.1 1242.3,82.6 1242.8,46.8 1243.2,46.7 1243.7,86.4 1244.1,54.5 1244.6,47.4 1245.1,58.5 1245.5,71.4 1246.0,81.7 1246.4,59.7 1246.9,48.7 1247.3,50.3 1247.8,79.7 1248.2,63.5 1248.7,76.8 1249.1,82.2 1249.6,79.3 1250.1,62.0 1250.5,47.0 1251.0,70.5 1251.4,54.4 1251.9,64.7 1252.3,69.7 1252.8,78.7 1253.2,70.6 1253.7,54.8 1254.2,52.4 1254.6,78.0 1255.1,57.8 1255.5,47.7 1256.0,59.3 1256.4,58.7 1256.9,45.1 1257.3,34.2 1257.8,49.5 1258.2,64.5 1258.7,45.7 1259.2,57.5 1259.6,44.3 1260.1,71.2 1260.5,47.3 1261.0,45.9 1261.4,51.2 1261.9,69.8 1262.3,69.8 1262.8,72.0 1263.3,32.8 1263.7,44.6 1264.2,47.5 1264.6,37.9 1265.1,69.2 1265.5,41.5 1266.0,35.8 1266.4,47.7 1266.9,68.3 1267.3,68.7 1267.8,43.7 1268.3,77.8 1268.7,73.4 1269.2,77.4 1269.6,63.5 1270.1,40.8 1270.5,74.0 1271.0,76.7 1271.4,52.5 1271.9,67.8 1272.4,39.5 1272.8,46.2 1273.3,51.2 1273.7,74.4 1274.2,71.8 1274.6,67.0 1275.1,46.1 1275.5,65.9 1276.0,51.0 1276.4,74.0 1276.9,41.5 1277.4,47.0 1277.8,60.8 1278.3,41.8 1278.7,52.0 1279.2,32.0 1279.6,76.5 1280.1,41.0 1280.5,45.1 1281.0,48.7 1281.5,61.8 1281.9,80.5 1282.4,67.9 1282.8,69.7 1283.3,69.4 1283.7,43.4 1284.2,45.5 1284.6,69.6 1285.1,60.4 1285.5,55.5 1286.0,51.6 1286.5,67.3 1286.9,78.1 1287.4,67.4 1287.8,41.3 1288.3,62.2 1288.7,40.8 1289.2,40.0 1289.6,50.6 1290.1,36.4 1290.6,40.7 1291.0,42.2 1291.5,55.6 1291.9,62.8 1292.4,67.2 1292.8,60.0 1293.3,40.6 1293.7,53.7 1294.2,48.4 1294.6,47.9 1295.1,36.1 1295.6,55.9 1296.0,63.2 1296.5,52.8 1296.9,64.1 1297.4,65.9 1297.8,56.2 1298.3,40.8 1298.7,55.6 1299.2,41.6 1299.7,65.5 1300.1,43.6 1300.6,60.0 1301.0,38.1 1301.5,29.9 1301.9,60.4 1302.4,44.0 1302.8,64.9 1303.3,43.4 1303.7,61.5 1304.2,58.1 1304.7,40.9 1305.1,60.8 1305.6,38.2 1306.0,38.7 1306.5,59.0 1306.9,63.2 1307.4,58.0 1307.8,46.4 1308.3,57.4 1308.8,25.8 1309.2,41.3 1309.7,67.8 1310.1,46.1 1310.6,46.8 1311.0,58.3 1311.5,56.2 1311.9,54.5 1312.4,53.9 1312.8,56.3 1313.3,57.7 1313.8,60.9 1314.2,54.4 1314.7,46.3 1315.1,39.1 1315.6,50.9 1316.0,37.9 1316.5,55.7 1316.9,51.7 1317.4,37.7 1317.9,54.5 1318.3,45.9 1318.8,44.7 1319.2,42.0 1319.7,55.1 1320.1,52.6 1320.6,40.1 1321.0,26.7 1321.5,54.1 1321.9,37.4 1322.4,36.9" fill="none" stroke="#EC4634" stroke-width="1.8" stroke-linejoin="miter"/>
</g>
<g opacity="0.75">
<polygon points="816.0,293.2 818.0,288.4 820.0,283.6 822.0,279.9 824.0,276.2 826.0,273.3 828.0,271.0 830.0,268.8 832.0,266.6 834.0,264.3 836.0,262.0 838.0,259.6 840.0,257.2 842.0,254.8 844.0,252.4 846.0,250.0 848.0,247.6 850.0,245.0 852.0,242.4 854.0,239.8 856.0,237.3 858.0,234.7 860.0,232.1 862.0,229.5 864.0,226.8 866.0,224.2 868.0,221.5 870.0,218.9 872.0,216.2 874.0,213.6 876.0,212.6 878.0,211.6 880.0,210.6 882.0,209.7 884.0,208.7 886.0,207.7 888.0,206.6 890.0,205.4 892.0,204.3 894.0,203.1 896.0,201.9 898.0,200.8 900.0,199.6 902.0,199.1 904.0,198.6 906.0,198.0 908.0,197.5 910.0,197.0 912.0,196.5 914.0,196.0 916.0,195.5 918.0,195.0 920.0,194.5 922.0,194.0 924.0,193.5 926.0,193.0 928.0,192.2 930.0,191.5 932.0,190.7 934.0,189.9 936.0,189.2 938.0,188.4 940.0,187.8 942.0,187.1 944.0,186.5 946.0,185.8 948.0,185.2 950.0,184.5 952.0,183.6 954.0,182.4 956.0,181.3 958.0,180.1 960.0,178.9 962.0,177.8 964.0,176.6 966.0,176.2 968.0,175.7 970.0,175.3 972.0,174.9 974.0,174.4 976.0,174.0 978.0,173.7 980.0,173.4 982.0,173.1 984.0,172.8 986.0,172.5 988.0,172.2 990.0,171.9 992.0,171.6 994.0,171.3 996.0,171.1 998.0,170.8 1000.0,170.6 1002.0,170.3 1004.0,170.1 1006.0,169.8 1008.0,169.6 1010.0,169.5 1012.0,169.4 1014.0,169.3 1016.0,169.2 1018.0,169.1 1020.0,169.1 1022.0,169.0 1024.0,168.9 1026.0,168.8 1028.0,168.7 1030.0,168.6 1032.0,168.5 1034.0,168.3 1036.0,168.2 1038.0,168.0 1040.0,167.9 1042.0,167.7 1044.0,167.6 1046.0,167.4 1048.0,167.3 1050.0,167.2 1052.0,167.0 1054.0,166.9 1056.0,166.5 1058.0,166.0 1060.0,165.5 1062.0,165.0 1064.0,164.4 1066.0,163.9 1068.0,163.4 1070.0,162.8 1072.0,162.3 1074.0,161.8 1076.0,161.3 1078.0,160.7 1080.0,160.2 1082.0,159.0 1084.0,157.8 1086.0,156.6 1088.0,155.4 1090.0,154.2 1092.0,153.0 1094.0,151.8 1096.0,150.6 1098.0,149.4 1100.0,148.2 1102.0,148.1 1104.0,148.0 1106.0,147.9 1108.0,147.7 1110.0,147.6 1112.0,147.5 1114.0,147.4 1116.0,147.3 1118.0,147.2 1120.0,147.1 1122.0,146.8 1124.0,146.5 1126.0,146.1 1128.0,145.7 1130.0,145.4 1132.0,145.0 1134.0,144.6 1136.0,144.3 1138.0,143.9 1140.0,143.5 1142.0,143.2 1144.0,142.9 1146.0,142.6 1148.0,142.3 1150.0,142.1 1152.0,141.8 1154.0,141.5 1156.0,141.3 1158.0,141.0 1160.0,140.7 1162.0,140.5 1164.0,140.2 1166.0,140.0 1168.0,139.8 1170.0,139.6 1172.0,139.4 1174.0,139.2 1176.0,139.1 1178.0,138.9 1180.0,138.7 1182.0,138.5 1184.0,138.3 1186.0,138.1 1188.0,137.9 1190.0,137.7 1192.0,137.5 1194.0,137.2 1196.0,137.0 1198.0,136.8 1200.0,136.6 1202.0,136.3 1204.0,135.9 1206.0,135.6 1208.0,135.3 1210.0,134.9 1212.0,134.6 1214.0,134.3 1216.0,133.9 1218.0,133.6 1220.0,133.3 1222.0,132.9 1224.0,132.6 1226.0,132.3 1228.0,131.9 1230.0,131.6 1232.0,131.3 1234.0,131.0 1236.0,130.7 1238.0,130.4 1240.0,130.1 1242.0,129.8 1244.0,129.6 1246.0,129.3 1248.0,129.0 1250.0,128.7 1252.0,128.4 1254.0,128.1 1256.0,127.8 1258.0,127.4 1260.0,127.0 1262.0,126.6 1264.0,126.3 1266.0,125.9 1268.0,125.5 1270.0,125.1 1272.0,124.7 1274.0,124.3 1276.0,123.9 1278.0,123.6 1280.0,123.2 1282.0,122.8 1284.0,122.2 1286.0,121.4 1288.0,120.7 1290.0,119.9 1292.0,119.1 1294.0,118.4 1296.0,117.6 1298.0,116.8 1300.0,116.0 1302.0,115.3 1304.0,114.5 1306.0,113.7 1308.0,113.0 1310.0,112.2 1312.0,111.4 1314.0,110.6 1316.0,109.8 1318.0,109.0 1320.0,108.2 1322.0,107.4 1322.0,123.6 1320.0,124.1 1318.0,124.5 1316.0,125.0 1314.0,125.5 1312.0,126.0 1310.0,126.5 1308.0,127.0 1306.0,127.5 1304.0,128.0 1302.0,128.5 1300.0,129.0 1298.0,129.5 1296.0,130.1 1294.0,130.6 1292.0,131.1 1290.0,131.6 1288.0,132.1 1286.0,132.6 1284.0,133.1 1282.0,133.6 1280.0,134.0 1278.0,134.5 1276.0,134.9 1274.0,135.3 1272.0,135.8 1270.0,136.2 1268.0,136.6 1266.0,137.1 1264.0,137.5 1262.0,137.9 1260.0,138.3 1258.0,138.8 1256.0,139.2 1254.0,139.4 1252.0,139.7 1250.0,139.9 1248.0,140.2 1246.0,140.4 1244.0,140.7 1242.0,140.9 1240.0,141.2 1238.0,141.4 1236.0,141.7 1234.0,141.9 1232.0,142.2 1230.0,142.4 1228.0,142.7 1226.0,143.1 1224.0,143.4 1222.0,143.7 1220.0,144.1 1218.0,144.4 1216.0,144.7 1214.0,145.1 1212.0,145.4 1210.0,145.7 1208.0,146.1 1206.0,146.4 1204.0,146.7 1202.0,147.1 1200.0,147.4 1198.0,147.5 1196.0,147.5 1194.0,147.6 1192.0,147.6 1190.0,147.7 1188.0,147.7 1186.0,147.8 1184.0,147.9 1182.0,148.1 1180.0,148.3 1178.0,148.5 1176.0,148.7 1174.0,148.8 1172.0,149.0 1170.0,149.2 1168.0,149.4 1166.0,149.6 1164.0,149.8 1162.0,150.0 1160.0,150.2 1158.0,150.4 1156.0,150.6 1154.0,150.8 1152.0,151.1 1150.0,151.3 1148.0,151.5 1146.0,151.7 1144.0,151.9 1142.0,152.2 1140.0,152.5 1138.0,152.9 1136.0,153.3 1134.0,153.6 1132.0,154.0 1130.0,154.4 1128.0,154.7 1126.0,155.1 1124.0,155.5 1122.0,155.8 1120.0,156.1 1118.0,156.3 1116.0,156.4 1114.0,156.6 1112.0,156.8 1110.0,156.9 1108.0,157.1 1106.0,157.3 1104.0,157.5 1102.0,157.6 1100.0,157.8 1098.0,159.0 1096.0,160.2 1094.0,161.4 1092.0,162.6 1090.0,163.8 1088.0,165.0 1086.0,166.2 1084.0,167.4 1082.0,168.6 1080.0,169.8 1078.0,170.2 1076.0,170.7 1074.0,171.1 1072.0,171.5 1070.0,172.0 1068.0,172.4 1066.0,172.8 1064.0,173.3 1062.0,173.7 1060.0,174.1 1058.0,174.6 1056.0,175.0 1054.0,175.4 1052.0,175.7 1050.0,176.0 1048.0,176.4 1046.0,176.7 1044.0,177.0 1042.0,177.4 1040.0,177.7 1038.0,178.1 1036.0,178.4 1034.0,178.7 1032.0,179.1 1030.0,179.4 1028.0,179.5 1026.0,179.6 1024.0,179.7 1022.0,179.8 1020.0,179.9 1018.0,179.9 1016.0,180.0 1014.0,180.1 1012.0,180.2 1010.0,180.3 1008.0,180.4 1006.0,180.7 1004.0,180.9 1002.0,181.2 1000.0,181.4 998.0,181.7 996.0,181.9 994.0,182.2 992.0,182.4 990.0,182.8 988.0,183.1 986.0,183.5 984.0,183.9 982.0,184.3 980.0,184.6 978.0,185.0 976.0,185.4 974.0,185.7 972.0,186.0 970.0,186.4 968.0,186.7 966.0,187.1 964.0,187.4 962.0,188.4 960.0,189.4 958.0,190.4 956.0,191.3 954.0,192.3 952.0,193.3 950.0,194.2 948.0,194.9 946.0,195.6 944.0,196.4 942.0,197.1 940.0,197.9 938.0,198.6 936.0,199.2 934.0,199.7 932.0,200.3 930.0,200.9 928.0,201.4 926.0,202.0 924.0,202.6 922.0,203.2 920.0,203.8 918.0,204.3 916.0,204.9 914.0,205.5 912.0,206.2 910.0,206.9 908.0,207.6 906.0,208.3 904.0,209.0 902.0,209.7 900.0,210.4 898.0,212.3 896.0,214.2 894.0,216.1 892.0,218.0 890.0,219.9 888.0,221.8 886.0,223.6 884.0,225.2 882.0,226.9 880.0,228.5 878.0,230.1 876.0,231.8 874.0,233.4 872.0,237.5 870.0,241.6 868.0,245.8 866.0,249.9 864.0,254.0 862.0,258.1 860.0,261.7 858.0,264.6 856.0,267.6 854.0,270.5 852.0,273.5 850.0,276.4 848.0,279.4 846.0,281.2 844.0,282.9 842.0,284.7 840.0,286.4 838.0,288.2 836.0,289.9 834.0,291.4 832.0,292.5 830.0,293.7 828.0,294.9 826.0,296.0 824.0,297.4 822.0,298.9 820.0,300.4 818.0,303.1 816.0,305.8" fill="#324890"/>
<polyline points="816.0,301.3 816.5,289.1 816.9,305.6 817.4,279.5 817.8,293.5 818.3,285.6 818.7,297.8 819.2,282.8 819.6,281.7 820.1,293.8 820.5,298.8 821.0,285.6 821.5,284.7 821.9,286.0 822.4,301.5 822.8,312.5 823.3,309.7 823.7,291.2 824.2,291.4 824.6,279.6 825.1,264.2 825.6,263.2 826.0,290.4 826.5,267.6 826.9,294.5 827.4,272.7 827.8,283.8 828.3,281.9 828.7,300.9 829.2,278.6 829.6,265.0 830.1,290.1 830.6,269.5 831.0,261.0 831.5,287.0 831.9,295.9 832.4,265.0 832.8,292.9 833.3,307.8 833.7,296.3 834.2,256.9 834.7,249.1 835.1,266.6 835.6,272.1 836.0,264.0 836.5,247.5 836.9,282.1 837.4,294.1 837.8,288.2 838.3,276.2 838.7,285.8 839.2,263.7 839.7,292.8 840.1,253.3 840.6,274.7 841.0,282.6 841.5,252.2 841.9,300.9 842.4,257.4 842.8,251.4 843.3,264.2 843.8,255.2 844.2,256.6 844.7,246.2 845.1,287.3 845.6,252.1 846.0,289.1 846.5,249.4 846.9,250.3 847.4,285.0 847.8,284.3 848.3,286.0 848.8,254.1 849.2,294.8 849.7,245.6 850.1,267.9 850.6,229.5 851.0,243.5 851.5,269.3 851.9,234.8 852.4,242.7 852.9,275.7 853.3,276.5 853.8,267.8 854.2,260.3 854.7,274.3 855.1,269.8 855.6,250.3 856.0,258.3 856.5,258.0 856.9,251.9 857.4,223.4 857.9,232.3 858.3,259.8 858.8,257.2 859.2,267.3 859.7,267.6 860.1,227.1 860.6,256.8 861.0,260.6 861.5,226.6 862.0,233.0 862.4,227.4 862.9,238.4 863.3,255.1 863.8,229.0 864.2,267.3 864.7,218.7 865.1,258.5 865.6,225.1 866.0,230.0 866.5,256.0 867.0,222.6 867.4,226.4 867.9,245.9 868.3,216.3 868.8,216.9 869.2,213.9 869.7,240.3 870.1,256.8 870.6,239.3 871.1,217.2 871.5,240.0 872.0,219.4 872.4,227.3 872.9,228.9 873.3,216.1 873.8,212.7 874.2,231.4 874.7,207.9 875.1,243.5 875.6,223.7 876.1,207.1 876.5,213.7 877.0,233.9 877.4,216.0 877.9,230.3 878.3,224.2 878.8,208.3 879.2,208.1 879.7,208.1 880.2,228.7 880.6,213.5 881.1,217.2 881.5,210.0 882.0,207.1 882.4,231.2 882.9,197.6 883.3,230.6 883.8,224.3 884.2,238.1 884.7,229.0 885.2,228.5 885.6,226.7 886.1,210.1 886.5,209.3 887.0,223.8 887.4,211.6 887.9,218.9 888.3,224.5 888.8,207.9 889.3,221.6 889.7,203.2 890.2,202.6 890.6,203.7 891.1,221.5 891.5,212.9 892.0,206.6 892.4,217.2 892.9,219.4 893.3,206.7 893.8,216.6 894.3,208.3 894.7,199.8 895.2,209.6 895.6,199.5 896.1,200.3 896.5,199.1 897.0,211.6 897.4,201.8 897.9,201.1 898.4,198.2 898.8,193.1 899.3,210.2 899.7,212.7 900.2,206.2 900.6,211.4 901.1,198.4 901.5,207.6 902.0,208.1 902.4,210.1 902.9,203.8 903.4,209.9 903.8,188.5 904.3,199.5 904.7,202.1 905.2,195.8 905.6,196.0 906.1,210.1 906.5,209.8 907.0,199.6 907.5,194.7 907.9,196.1 908.4,204.4 908.8,196.1 909.3,216.5 909.7,203.4 910.2,209.2 910.6,196.4 911.1,194.1 911.5,194.0 912.0,204.4 912.5,196.0 912.9,202.1 913.4,199.6 913.8,199.1 914.3,203.7 914.7,204.6 915.2,203.3 915.6,205.8 916.1,193.0 916.6,197.9 917.0,194.4 917.5,195.3 917.9,197.9 918.4,197.5 918.8,204.6 919.3,201.1 919.7,198.5 920.2,198.0 920.6,203.9 921.1,205.0 921.6,188.2 922.0,195.7 922.5,199.2 922.9,203.3 923.4,203.7 923.8,204.2 924.3,200.8 924.7,203.5 925.2,193.5 925.7,198.8 926.1,190.4 926.6,194.2 927.0,192.2 927.5,202.1 927.9,196.8 928.4,203.5 928.8,192.4 929.3,194.2 929.7,193.5 930.2,190.7 930.7,202.9 931.1,188.4 931.6,191.0 932.0,192.3 932.5,192.3 932.9,194.8 933.4,200.5 933.8,195.3 934.3,200.3 934.8,190.1 935.2,188.5 935.7,187.7 936.1,200.8 936.6,195.6 937.0,187.4 937.5,209.6 937.9,186.9 938.4,188.1 938.8,188.2 939.3,182.4 939.8,185.8 940.2,196.5 940.7,189.6 941.1,198.2 941.6,186.4 942.0,198.6 942.5,178.4 942.9,190.8 943.4,197.2 943.9,198.2 944.3,189.4 944.8,188.3 945.2,184.3 945.7,185.0 946.1,185.9 946.6,197.5 947.0,183.7 947.5,183.5 947.9,192.0 948.4,188.1 948.9,185.2 949.3,195.4 949.8,184.5 950.2,191.2 950.7,184.6 951.1,183.8 951.6,189.4 952.0,185.5 952.5,187.0 953.0,181.7 953.4,180.6 953.9,175.0 954.3,182.2 954.8,189.6 955.2,189.5 955.7,189.7 956.1,179.2 956.6,189.3 957.0,187.2 957.5,179.0 958.0,189.5 958.4,191.9 958.9,177.0 959.3,180.9 959.8,173.5 960.2,190.8 960.7,181.6 961.1,188.0 961.6,178.8 962.1,175.3 962.5,177.3 963.0,182.2 963.4,184.2 963.9,175.6 964.3,184.0 964.8,176.0 965.2,178.5 965.7,185.7 966.1,173.1 966.6,186.5 967.1,175.4 967.5,188.2 968.0,173.1 968.4,174.0 968.9,193.0 969.3,188.3 969.8,181.7 970.2,176.7 970.7,187.9 971.2,188.1 971.6,181.5 972.1,175.1 972.5,176.8 973.0,176.6 973.4,175.5 973.9,182.0 974.3,177.5 974.8,188.7 975.2,171.7 975.7,175.5 976.2,183.0 976.6,188.4 977.1,175.0 977.5,184.0 978.0,175.4 978.4,182.0 978.9,174.1 979.3,173.5 979.8,170.2 980.3,183.9 980.7,180.8 981.2,170.5 981.6,175.9 982.1,179.8 982.5,171.5 983.0,182.3 983.4,163.3 983.9,172.2 984.3,169.8 984.8,191.5 985.3,184.7 985.7,178.3 986.2,182.0 986.6,182.6 987.1,172.5 987.5,179.6 988.0,175.0 988.4,183.0 988.9,170.4 989.3,193.1 989.8,185.7 990.3,173.6 990.7,185.7 991.2,170.6 991.6,181.0 992.1,182.3 992.5,184.6 993.0,174.6 993.4,183.8 993.9,185.3 994.4,171.1 994.8,182.4 995.3,182.4 995.7,160.0 996.2,168.5 996.6,177.7 997.1,170.2 997.5,175.6 998.0,172.7 998.4,182.7 998.9,167.9 999.4,170.0 999.8,181.3 1000.3,177.3 1000.7,181.1 1001.2,178.2 1001.6,178.1 1002.1,170.4 1002.5,181.5 1003.0,180.5 1003.5,180.8 1003.9,182.5 1004.4,183.8 1004.8,174.7 1005.3,176.5 1005.7,181.5 1006.2,181.9 1006.6,170.9 1007.1,171.7 1007.5,175.3 1008.0,180.0 1008.5,178.6 1008.9,172.6 1009.4,179.4 1009.8,181.5 1010.3,168.2 1010.7,166.5 1011.2,168.5 1011.6,176.7 1012.1,166.4 1012.6,181.6 1013.0,166.5 1013.5,178.8 1013.9,172.4 1014.4,169.0 1014.8,180.0 1015.3,171.1 1015.7,173.5 1016.2,188.3 1016.6,169.0 1017.1,177.4 1017.6,160.8 1018.0,167.6 1018.5,175.6 1018.9,179.3 1019.4,172.9 1019.8,167.8 1020.3,182.9 1020.7,173.4 1021.2,182.3 1021.7,181.7 1022.1,180.7 1022.6,168.1 1023.0,177.3 1023.5,166.0 1023.9,171.2 1024.4,175.6 1024.8,191.0 1025.3,176.5 1025.7,182.7 1026.2,179.5 1026.7,168.1 1027.1,181.0 1027.6,167.7 1028.0,180.8 1028.5,175.4 1028.9,170.4 1029.4,178.3 1029.8,179.2 1030.3,187.4 1030.8,188.0 1031.2,158.9 1031.7,166.0 1032.1,165.9 1032.6,167.6 1033.0,157.5 1033.5,167.7 1033.9,158.0 1034.4,167.3 1034.8,173.7 1035.3,167.0 1035.8,178.6 1036.2,167.1 1036.7,171.6 1037.1,167.9 1037.6,185.0 1038.0,180.0 1038.5,177.1 1038.9,179.7 1039.4,169.1 1039.9,177.0 1040.3,173.2 1040.8,175.5 1041.2,166.7 1041.7,174.3 1042.1,169.3 1042.6,169.2 1043.0,165.4 1043.5,179.1 1043.9,178.0 1044.4,170.7 1044.9,167.8 1045.3,179.4 1045.8,168.0 1046.2,177.6 1046.7,177.2 1047.1,168.0 1047.6,178.2 1048.0,174.2 1048.5,165.8 1049.0,173.1 1049.4,178.3 1049.9,172.5 1050.3,166.2 1050.8,164.8 1051.2,166.3 1051.7,176.0 1052.1,177.4 1052.6,171.8 1053.0,182.3 1053.5,166.2 1054.0,173.7 1054.4,176.3 1054.9,177.7 1055.3,174.4 1055.8,172.3 1056.2,166.0 1056.7,166.7 1057.1,176.0 1057.6,168.8 1058.1,164.4 1058.5,175.2 1059.0,160.6 1059.4,159.4 1059.9,166.9 1060.3,167.0 1060.8,172.2 1061.2,168.2 1061.7,166.0 1062.1,166.2 1062.6,157.4 1063.1,163.9 1063.5,166.0 1064.0,175.1 1064.4,161.7 1064.9,168.1 1065.3,169.1 1065.8,171.2 1066.2,174.8 1066.7,163.0 1067.2,162.4 1067.6,170.7 1068.1,171.0 1068.5,160.7 1069.0,165.6 1069.4,170.2 1069.9,162.8 1070.3,174.5 1070.8,168.2 1071.2,167.8 1071.7,160.9 1072.2,171.1 1072.6,159.6 1073.1,173.0 1073.5,173.0 1074.0,163.0 1074.4,165.1 1074.9,180.7 1075.3,170.5 1075.8,153.5 1076.3,181.5 1076.7,164.1 1077.2,162.8 1077.6,161.1 1078.1,159.1 1078.5,178.7 1079.0,169.8 1079.4,161.9 1079.9,172.0 1080.3,153.4 1080.8,166.5 1081.3,166.6 1081.7,171.5 1082.2,167.9 1082.6,169.7 1083.1,155.8 1083.5,158.3 1084.0,156.3 1084.4,157.5 1084.9,166.7 1085.4,156.6 1085.8,175.0 1086.3,168.4 1086.7,153.7 1087.2,166.5 1087.6,155.3 1088.1,158.7 1088.5,156.1 1089.0,155.2 1089.4,159.5 1089.9,171.2 1090.4,151.5 1090.8,163.2 1091.3,155.3 1091.7,163.0 1092.2,150.7 1092.6,156.3 1093.1,161.6 1093.5,172.2 1094.0,146.1 1094.5,163.2 1094.9,162.8 1095.4,158.0 1095.8,149.3 1096.3,159.2 1096.7,155.7 1097.2,158.5 1097.6,157.0 1098.1,156.4 1098.5,141.4 1099.0,158.6 1099.5,149.8 1099.9,156.5 1100.4,158.4 1100.8,158.0 1101.3,157.0 1101.7,150.8 1102.2,148.0 1102.6,159.3 1103.1,148.1 1103.6,158.5 1104.0,141.7 1104.5,150.4 1104.9,150.1 1105.4,146.9 1105.8,146.7 1106.3,154.3 1106.7,151.4 1107.2,153.1 1107.6,146.7 1108.1,163.7 1108.6,155.7 1109.0,157.1 1109.5,147.5 1109.9,150.0 1110.4,155.6 1110.8,140.5 1111.3,147.2 1111.7,149.2 1112.2,150.8 1112.7,158.3 1113.1,145.1 1113.6,156.8 1114.0,154.2 1114.5,156.7 1114.9,158.1 1115.4,154.6 1115.8,146.8 1116.3,145.5 1116.7,144.7 1117.2,144.8 1117.7,157.8 1118.1,157.0 1118.6,157.0 1119.0,145.3 1119.5,155.7 1119.9,154.7 1120.4,157.6 1120.8,153.9 1121.3,145.3 1121.8,154.2 1122.2,157.7 1122.7,165.1 1123.1,157.3 1123.6,137.1 1124.0,156.5 1124.5,153.3 1124.9,144.2 1125.4,149.7 1125.8,154.5 1126.3,148.4 1126.8,143.7 1127.2,145.9 1127.7,154.8 1128.1,154.8 1128.6,151.2 1129.0,143.4 1129.5,154.4 1129.9,143.1 1130.4,143.9 1130.9,155.2 1131.3,154.3 1131.8,143.8 1132.2,144.1 1132.7,153.5 1133.1,146.9 1133.6,147.8 1134.0,160.7 1134.5,145.9 1134.9,144.9 1135.4,135.9 1135.9,154.6 1136.3,147.0 1136.8,150.6 1137.2,142.7 1137.7,142.7 1138.1,155.3 1138.6,148.9 1139.0,149.9 1139.5,149.9 1140.0,144.8 1140.4,154.8 1140.9,143.1 1141.3,144.1 1141.8,146.7 1142.2,154.7 1142.7,161.4 1143.1,150.5 1143.6,145.3 1144.0,150.8 1144.5,144.6 1145.0,140.9 1145.4,136.2 1145.9,141.4 1146.3,142.5 1146.8,142.2 1147.2,152.0 1147.7,153.3 1148.1,145.7 1148.6,139.6 1149.1,150.9 1149.5,144.1 1150.0,141.0 1150.4,148.3 1150.9,148.2 1151.3,135.1 1151.8,141.2 1152.2,142.6 1152.7,148.8 1153.1,142.5 1153.6,150.9 1154.1,152.5 1154.5,144.3 1155.0,139.8 1155.4,143.6 1155.9,153.3 1156.3,141.8 1156.8,139.0 1157.2,130.7 1157.7,149.9 1158.1,144.5 1158.6,160.1 1159.1,149.7 1159.5,134.6 1160.0,139.9 1160.4,151.2 1160.9,152.5 1161.3,142.9 1161.8,151.7 1162.2,159.6 1162.7,146.4 1163.2,150.4 1163.6,151.9 1164.1,151.6 1164.5,149.2 1165.0,133.1 1165.4,141.0 1165.9,145.0 1166.3,147.2 1166.8,137.9 1167.2,150.0 1167.7,138.0 1168.2,138.6 1168.6,138.7 1169.1,143.4 1169.5,141.4 1170.0,156.5 1170.4,151.4 1170.9,147.1 1171.3,138.5 1171.8,142.2 1172.3,139.2 1172.7,159.3 1173.2,132.8 1173.6,155.8 1174.1,137.4 1174.5,136.7 1175.0,149.0 1175.4,142.9 1175.9,150.4 1176.3,142.8 1176.8,140.5 1177.3,138.9 1177.7,130.3 1178.2,132.9 1178.6,145.4 1179.1,138.2 1179.5,142.6 1180.0,140.3 1180.4,135.9 1180.9,141.9 1181.4,150.7 1181.8,150.8 1182.3,150.6 1182.7,147.0 1183.2,148.9 1183.6,148.7 1184.1,142.6 1184.5,140.8 1185.0,137.3 1185.4,138.5 1185.9,154.4 1186.4,140.3 1186.8,137.4 1187.3,146.8 1187.7,146.5 1188.2,146.1 1188.6,144.9 1189.1,155.9 1189.5,149.6 1190.0,145.8 1190.5,131.3 1190.9,140.7 1191.4,150.5 1191.8,155.6 1192.3,140.1 1192.7,135.3 1193.2,140.1 1193.6,138.8 1194.1,138.3 1194.5,154.8 1195.0,135.0 1195.5,136.0 1195.9,136.0 1196.4,146.8 1196.8,137.8 1197.3,135.2 1197.7,148.1 1198.2,137.5 1198.6,148.5 1199.1,134.6 1199.6,146.4 1200.0,135.1 1200.5,150.2 1200.9,156.7 1201.4,134.8 1201.8,133.3 1202.3,146.3 1202.7,146.9 1203.2,144.8 1203.6,135.6 1204.1,136.1 1204.6,146.1 1205.0,136.0 1205.5,141.4 1205.9,133.3 1206.4,148.5 1206.8,132.7 1207.3,140.0 1207.7,146.9 1208.2,148.8 1208.7,139.0 1209.1,134.5 1209.6,147.2 1210.0,137.0 1210.5,148.2 1210.9,146.7 1211.4,146.9 1211.8,146.2 1212.3,132.5 1212.7,137.1 1213.2,126.1 1213.7,154.3 1214.1,146.9 1214.6,142.4 1215.0,133.5 1215.5,131.2 1215.9,135.0 1216.4,147.1 1216.8,134.8 1217.3,146.7 1217.8,146.3 1218.2,144.6 1218.7,131.4 1219.1,134.7 1219.6,145.5 1220.0,144.1 1220.5,131.0 1220.9,131.0 1221.4,132.6 1221.8,151.4 1222.3,145.2 1222.8,141.3 1223.2,131.8 1223.7,144.5 1224.1,131.4 1224.6,134.9 1225.0,149.9 1225.5,130.3 1225.9,145.7 1226.4,144.5 1226.9,138.4 1227.3,139.5 1227.8,135.5 1228.2,129.3 1228.7,142.5 1229.1,141.6 1229.6,133.1 1230.0,128.8 1230.5,134.0 1230.9,143.3 1231.4,140.6 1231.9,120.5 1232.3,138.2 1232.8,138.5 1233.2,144.3 1233.7,138.3 1234.1,140.7 1234.6,129.6 1235.0,132.1 1235.5,128.8 1236.0,138.4 1236.4,132.0 1236.9,130.1 1237.3,143.9 1237.8,121.2 1238.2,129.6 1238.7,134.4 1239.1,144.2 1239.6,130.4 1240.0,141.9 1240.5,122.6 1241.0,140.6 1241.4,131.9 1241.9,119.2 1242.3,144.0 1242.8,151.0 1243.2,126.5 1243.7,127.6 1244.1,134.5 1244.6,140.6 1245.1,121.0 1245.5,143.4 1246.0,128.7 1246.4,132.2 1246.9,142.1 1247.3,139.1 1247.8,138.1 1248.2,141.0 1248.7,138.2 1249.1,127.3 1249.6,129.0 1250.1,131.5 1250.5,137.2 1251.0,140.5 1251.4,130.5 1251.9,136.3 1252.3,129.1 1252.8,137.1 1253.2,126.2 1253.7,136.3 1254.2,125.9 1254.6,125.1 1255.1,137.7 1255.5,124.6 1256.0,129.4 1256.4,150.0 1256.9,131.8 1257.3,127.1 1257.8,126.1 1258.2,136.1 1258.7,138.2 1259.2,124.3 1259.6,131.2 1260.1,119.2 1260.5,136.8 1261.0,123.9 1261.4,149.3 1261.9,115.9 1262.3,128.8 1262.8,146.3 1263.3,126.8 1263.7,125.3 1264.2,118.4 1264.6,126.0 1265.1,140.2 1265.5,134.1 1266.0,135.0 1266.4,133.5 1266.9,138.1 1267.3,134.2 1267.8,137.7 1268.3,126.9 1268.7,128.2 1269.2,132.0 1269.6,137.9 1270.1,123.3 1270.5,123.3 1271.0,138.9 1271.4,134.7 1271.9,138.7 1272.4,135.5 1272.8,146.8 1273.3,121.9 1273.7,125.6 1274.2,121.3 1274.6,132.9 1275.1,136.5 1275.5,126.9 1276.0,121.2 1276.4,121.1 1276.9,123.1 1277.4,127.7 1277.8,124.5 1278.3,137.2 1278.7,121.6 1279.2,123.7 1279.6,137.0 1280.1,121.5 1280.5,140.1 1281.0,125.5 1281.5,135.6 1281.9,132.7 1282.4,130.3 1282.8,134.8 1283.3,130.1 1283.7,120.0 1284.2,120.8 1284.6,120.7 1285.1,124.4 1285.5,130.6 1286.0,121.0 1286.5,120.9 1286.9,129.1 1287.4,131.0 1287.8,129.4 1288.3,122.9 1288.7,123.3 1289.2,118.5 1289.6,119.4 1290.1,131.3 1290.6,119.5 1291.0,131.9 1291.5,118.1 1291.9,134.6 1292.4,117.1 1292.8,116.7 1293.3,115.9 1293.7,122.8 1294.2,138.8 1294.6,118.0 1295.1,133.2 1295.6,128.7 1296.0,122.5 1296.5,127.8 1296.9,140.8 1297.4,116.5 1297.8,117.0 1298.3,121.5 1298.7,132.7 1299.2,126.0 1299.7,130.6 1300.1,140.4 1300.6,118.9 1301.0,112.1 1301.5,119.7 1301.9,118.9 1302.4,111.5 1302.8,126.2 1303.3,111.8 1303.7,122.1 1304.2,114.4 1304.7,128.4 1305.1,115.4 1305.6,116.8 1306.0,126.7 1306.5,112.4 1306.9,109.4 1307.4,118.3 1307.8,110.1 1308.3,139.3 1308.8,123.7 1309.2,115.0 1309.7,114.1 1310.1,128.3 1310.6,120.0 1311.0,109.6 1311.5,123.3 1311.9,125.4 1312.4,112.0 1312.8,100.2 1313.3,108.2 1313.8,109.0 1314.2,106.8 1314.7,123.3 1315.1,121.5 1315.6,101.3 1316.0,107.0 1316.5,111.8 1316.9,127.0 1317.4,108.6 1317.9,127.7 1318.3,111.5 1318.8,127.9 1319.2,122.4 1319.7,123.3 1320.1,125.9 1320.6,107.1 1321.0,119.2 1321.5,100.0 1321.9,113.4 1322.4,125.7" fill="none" stroke="#324890" stroke-width="1.8" stroke-linejoin="miter"/>
</g>
<g opacity="0.75">
<polygon points="816.0,378.0 818.0,374.0 820.0,369.3 822.0,363.9 824.0,358.9 826.0,354.2 828.0,349.5 830.0,346.4 832.0,344.8 834.0,343.2 836.0,340.9 838.0,337.9 840.0,334.9 842.0,331.9 844.0,328.6 846.0,325.0 848.0,321.4 850.0,318.9 852.0,316.3 854.0,313.8 856.0,311.2 858.0,308.4 860.0,305.6 862.0,303.1 864.0,300.8 866.0,298.4 868.0,296.1 870.0,294.4 872.0,293.1 874.0,291.9 876.0,290.6 878.0,288.8 880.0,286.5 882.0,284.1 884.0,281.8 886.0,279.8 888.0,277.8 890.0,275.8 892.0,273.8 894.0,271.7 896.0,269.7 898.0,267.6 900.0,265.5 902.0,263.3 904.0,261.2 906.0,259.0 908.0,256.8 910.0,255.2 912.0,253.6 914.0,252.0 916.0,250.4 918.0,248.8 920.0,247.7 922.0,246.5 924.0,245.4 926.0,244.2 928.0,243.1 930.0,241.9 932.0,240.8 934.0,240.0 936.0,239.5 938.0,239.0 940.0,238.5 942.0,238.0 944.0,237.5 946.0,237.0 948.0,236.5 950.0,236.0 952.0,235.5 954.0,235.0 956.0,234.1 958.0,232.8 960.0,231.5 962.0,230.2 964.0,228.9 966.0,227.6 968.0,226.3 970.0,225.0 972.0,224.4 974.0,223.8 976.0,223.1 978.0,222.5 980.0,221.9 982.0,221.3 984.0,220.6 986.0,220.0 988.0,219.4 990.0,218.8 992.0,218.1 994.0,217.5 996.0,217.0 998.0,216.6 1000.0,216.1 1002.0,215.7 1004.0,215.3 1006.0,214.8 1008.0,214.4 1010.0,214.0 1012.0,213.5 1014.0,213.1 1016.0,212.7 1018.0,212.2 1020.0,211.8 1022.0,211.4 1024.0,211.1 1026.0,210.7 1028.0,210.4 1030.0,210.0 1032.0,209.7 1034.0,209.3 1036.0,208.9 1038.0,208.6 1040.0,208.2 1042.0,207.9 1044.0,207.5 1046.0,207.2 1048.0,206.8 1050.0,206.4 1052.0,206.0 1054.0,205.6 1056.0,205.2 1058.0,204.8 1060.0,204.4 1062.0,204.0 1064.0,203.6 1066.0,203.2 1068.0,202.8 1070.0,202.4 1072.0,202.0 1074.0,201.6 1076.0,201.2 1078.0,200.8 1080.0,200.4 1082.0,199.7 1084.0,199.1 1086.0,198.4 1088.0,197.8 1090.0,197.1 1092.0,196.4 1094.0,195.8 1096.0,195.1 1098.0,194.5 1100.0,193.8 1102.0,193.0 1104.0,192.3 1106.0,191.5 1108.0,190.7 1110.0,190.0 1112.0,189.2 1114.0,188.4 1116.0,187.6 1118.0,186.9 1120.0,186.1 1122.0,185.3 1124.0,184.6 1126.0,183.8 1128.0,183.3 1130.0,182.7 1132.0,182.2 1134.0,181.7 1136.0,181.2 1138.0,180.6 1140.0,180.1 1142.0,179.6 1144.0,179.0 1146.0,178.5 1148.0,178.0 1150.0,177.5 1152.0,176.6 1154.0,175.5 1156.0,174.4 1158.0,173.3 1160.0,172.2 1162.0,171.1 1164.0,169.9 1166.0,168.8 1168.0,167.7 1170.0,166.6 1172.0,166.3 1174.0,166.0 1176.0,165.8 1178.0,165.5 1180.0,165.2 1182.0,164.9 1184.0,164.6 1186.0,164.4 1188.0,164.1 1190.0,163.8 1192.0,163.5 1194.0,163.2 1196.0,163.0 1198.0,162.7 1200.0,162.4 1202.0,161.9 1204.0,161.4 1206.0,160.8 1208.0,160.3 1210.0,159.8 1212.0,159.3 1214.0,158.8 1216.0,158.2 1218.0,157.7 1220.0,157.2 1222.0,156.7 1224.0,156.2 1226.0,155.6 1228.0,155.1 1230.0,154.6 1232.0,153.7 1234.0,152.8 1236.0,151.9 1238.0,151.0 1240.0,150.1 1242.0,149.2 1244.0,148.2 1246.0,147.3 1248.0,146.4 1250.0,145.5 1252.0,144.6 1254.0,143.7 1256.0,142.8 1258.0,141.8 1260.0,140.8 1262.0,139.9 1264.0,138.9 1266.0,137.9 1268.0,136.9 1270.0,136.0 1272.0,135.0 1274.0,134.0 1276.0,133.0 1278.0,132.0 1280.0,131.1 1282.0,130.1 1284.0,129.0 1286.0,128.0 1288.0,126.8 1290.0,125.8 1292.0,124.7 1294.0,123.5 1296.0,122.5 1298.0,121.3 1300.0,120.2 1302.0,119.2 1304.0,118.0 1306.0,117.0 1308.0,115.8 1310.0,114.8 1312.0,113.7 1314.0,112.8 1316.0,111.8 1318.0,110.9 1320.0,109.9 1322.0,109.0 1322.0,145.0 1320.0,146.1 1318.0,147.1 1316.0,148.2 1314.0,149.2 1312.0,150.3 1310.0,151.2 1308.0,151.9 1306.0,152.7 1304.0,153.4 1302.0,154.2 1300.0,155.0 1298.0,155.7 1296.0,156.5 1294.0,157.2 1292.0,158.0 1290.0,158.8 1288.0,159.5 1286.0,160.3 1284.0,161.0 1282.0,161.7 1280.0,162.3 1278.0,162.8 1276.0,163.4 1274.0,164.0 1272.0,164.6 1270.0,165.2 1268.0,165.7 1266.0,166.3 1264.0,166.9 1262.0,167.5 1260.0,168.0 1258.0,168.6 1256.0,169.2 1254.0,170.1 1252.0,170.9 1250.0,171.8 1248.0,172.6 1246.0,173.5 1244.0,174.4 1242.0,175.2 1240.0,176.1 1238.0,177.0 1236.0,177.8 1234.0,178.7 1232.0,179.5 1230.0,180.4 1228.0,180.9 1226.0,181.4 1224.0,181.8 1222.0,182.3 1220.0,182.8 1218.0,183.3 1216.0,183.8 1214.0,184.2 1212.0,184.7 1210.0,185.2 1208.0,185.7 1206.0,186.2 1204.0,186.6 1202.0,187.1 1200.0,187.6 1198.0,187.9 1196.0,188.2 1194.0,188.6 1192.0,188.9 1190.0,189.2 1188.0,189.5 1186.0,189.8 1184.0,190.2 1182.0,190.5 1180.0,190.8 1178.0,191.1 1176.0,191.4 1174.0,191.8 1172.0,192.1 1170.0,192.4 1168.0,193.1 1166.0,193.7 1164.0,194.4 1162.0,195.1 1160.0,195.8 1158.0,196.4 1156.0,197.1 1154.0,197.8 1152.0,198.5 1150.0,199.0 1148.0,199.4 1146.0,199.9 1144.0,200.3 1142.0,200.7 1140.0,201.2 1138.0,201.6 1136.0,202.0 1134.0,202.5 1132.0,202.9 1130.0,203.3 1128.0,203.8 1126.0,204.2 1124.0,204.7 1122.0,205.3 1120.0,205.8 1118.0,206.4 1116.0,206.9 1114.0,207.4 1112.0,208.0 1110.0,208.5 1108.0,209.0 1106.0,209.6 1104.0,210.1 1102.0,210.7 1100.0,211.2 1098.0,212.0 1096.0,212.9 1094.0,213.7 1092.0,214.6 1090.0,215.4 1088.0,216.2 1086.0,217.1 1084.0,217.9 1082.0,218.8 1080.0,219.6 1078.0,219.9 1076.0,220.3 1074.0,220.6 1072.0,220.9 1070.0,221.2 1068.0,221.6 1066.0,221.9 1064.0,222.2 1062.0,222.5 1060.0,222.9 1058.0,223.2 1056.0,223.5 1054.0,223.9 1052.0,224.2 1050.0,224.5 1048.0,224.8 1046.0,225.1 1044.0,225.4 1042.0,225.7 1040.0,225.9 1038.0,226.2 1036.0,226.4 1034.0,226.7 1032.0,227.0 1030.0,227.2 1028.0,227.5 1026.0,227.7 1024.0,228.0 1022.0,228.3 1020.0,228.6 1018.0,228.9 1016.0,229.2 1014.0,229.6 1012.0,229.9 1010.0,230.3 1008.0,230.6 1006.0,230.9 1004.0,231.3 1002.0,231.6 1000.0,232.0 998.0,232.3 996.0,232.6 994.0,233.1 992.0,233.7 990.0,234.2 988.0,234.8 986.0,235.4 984.0,236.0 982.0,236.5 980.0,237.1 978.0,237.7 976.0,238.3 974.0,238.8 972.0,239.4 970.0,240.0 968.0,241.2 966.0,242.5 964.0,243.7 962.0,244.9 960.0,246.1 958.0,247.4 956.0,248.6 954.0,249.4 952.0,249.7 950.0,250.0 948.0,250.3 946.0,250.7 944.0,251.0 942.0,251.3 940.0,251.7 938.0,252.0 936.0,252.3 934.0,252.6 932.0,253.1 930.0,253.7 928.0,254.3 926.0,254.9 924.0,255.4 922.0,256.0 920.0,256.6 918.0,257.2 916.0,260.0 914.0,262.8 912.0,265.6 910.0,268.4 908.0,271.2 906.0,273.2 904.0,275.3 902.0,277.3 900.0,279.4 898.0,281.9 896.0,285.0 894.0,288.1 892.0,291.2 890.0,293.2 888.0,295.2 886.0,297.2 884.0,299.2 882.0,302.6 880.0,305.9 878.0,309.3 876.0,311.6 874.0,312.9 872.0,314.1 870.0,315.4 868.0,316.9 866.0,318.6 864.0,320.2 862.0,321.9 860.0,324.2 858.0,327.0 856.0,329.8 854.0,331.8 852.0,333.7 850.0,335.6 848.0,337.6 846.0,341.2 844.0,344.8 842.0,347.7 840.0,350.0 838.0,352.2 836.0,354.5 834.0,357.3 832.0,360.7 830.0,364.1 828.0,367.6 826.0,371.3 824.0,375.0 822.0,380.1 820.0,386.7 818.0,392.0 816.0,396.0" fill="#876D55"/>
<polyline points="816.0,377.7 816.5,394.7 816.9,389.2 817.4,373.8 817.8,394.4 818.3,384.1 818.7,364.0 819.2,400.7 819.6,396.9 820.1,379.8 820.5,370.0 821.0,370.1 821.5,382.0 821.9,392.4 822.4,363.7 822.8,375.2 823.3,378.7 823.7,350.5 824.2,387.8 824.6,371.9 825.1,368.1 825.6,346.3 826.0,359.3 826.5,373.2 826.9,355.2 827.4,358.4 827.8,366.0 828.3,348.2 828.7,369.2 829.2,336.5 829.6,345.3 830.1,378.3 830.6,345.7 831.0,361.9 831.5,359.7 831.9,344.8 832.4,356.0 832.8,345.8 833.3,354.7 833.7,355.0 834.2,359.5 834.7,352.5 835.1,340.6 835.6,350.8 836.0,349.3 836.5,357.8 836.9,340.4 837.4,341.0 837.8,340.8 838.3,336.2 838.7,329.1 839.2,347.7 839.7,336.9 840.1,331.1 840.6,342.9 841.0,353.0 841.5,329.3 841.9,334.8 842.4,329.3 842.8,343.8 843.3,331.9 843.8,325.3 844.2,327.9 844.7,339.3 845.1,336.0 845.6,346.0 846.0,341.2 846.5,323.4 846.9,321.9 847.4,319.7 847.8,317.7 848.3,324.2 848.8,326.8 849.2,316.2 849.7,336.3 850.1,317.0 850.6,307.5 851.0,320.2 851.5,338.7 851.9,332.3 852.4,331.8 852.9,325.5 853.3,334.7 853.8,317.0 854.2,310.5 854.7,330.3 855.1,328.6 855.6,320.1 856.0,300.6 856.5,332.1 856.9,332.3 857.4,321.5 857.9,330.6 858.3,322.9 858.8,306.5 859.2,324.6 859.7,304.7 860.1,300.4 860.6,325.4 861.0,299.0 861.5,322.2 862.0,319.9 862.4,305.9 862.9,291.2 863.3,297.9 863.8,297.6 864.2,317.7 864.7,335.3 865.1,294.1 865.6,294.9 866.0,300.8 866.5,295.6 867.0,322.3 867.4,322.8 867.9,303.3 868.3,303.2 868.8,319.0 869.2,289.6 869.7,300.6 870.1,294.3 870.6,300.2 871.1,325.7 871.5,308.2 872.0,317.2 872.4,296.9 872.9,307.6 873.3,309.3 873.8,286.6 874.2,300.9 874.7,311.9 875.1,285.4 875.6,314.8 876.1,291.3 876.5,313.4 877.0,311.9 877.4,291.2 877.9,287.6 878.3,311.7 878.8,272.2 879.2,294.4 879.7,289.5 880.2,301.9 880.6,280.5 881.1,286.6 881.5,291.5 882.0,299.1 882.4,286.8 882.9,285.8 883.3,293.4 883.8,294.7 884.2,284.9 884.7,287.9 885.2,271.3 885.6,282.1 886.1,295.0 886.5,296.8 887.0,291.7 887.4,275.7 887.9,279.7 888.3,299.1 888.8,289.6 889.3,283.5 889.7,261.3 890.2,278.6 890.6,281.0 891.1,295.9 891.5,278.9 892.0,283.4 892.4,290.2 892.9,293.1 893.3,291.6 893.8,285.1 894.3,269.8 894.7,269.9 895.2,285.4 895.6,274.8 896.1,275.6 896.5,298.5 897.0,286.3 897.4,259.7 897.9,276.2 898.4,265.3 898.8,278.1 899.3,283.6 899.7,265.2 900.2,279.6 900.6,278.5 901.1,262.7 901.5,260.1 902.0,279.1 902.4,260.9 902.9,269.8 903.4,263.2 903.8,275.1 904.3,272.4 904.7,257.1 905.2,256.7 905.6,266.0 906.1,256.2 906.5,255.5 907.0,265.4 907.5,258.9 907.9,269.3 908.4,257.4 908.8,270.4 909.3,254.5 909.7,256.2 910.2,269.5 910.6,265.3 911.1,251.7 911.5,268.6 912.0,254.1 912.5,265.9 912.9,262.5 913.4,253.7 913.8,258.8 914.3,271.5 914.7,271.5 915.2,251.3 915.6,261.7 916.1,249.7 916.6,257.4 917.0,258.5 917.5,248.5 917.9,259.2 918.4,259.0 918.8,254.0 919.3,248.6 919.7,240.9 920.2,240.8 920.6,246.1 921.1,264.9 921.6,248.5 922.0,247.0 922.5,248.0 922.9,251.9 923.4,265.8 923.8,242.7 924.3,242.5 924.7,244.5 925.2,244.8 925.7,257.9 926.1,254.4 926.6,245.2 927.0,244.0 927.5,251.9 927.9,250.1 928.4,240.1 928.8,253.9 929.3,242.5 929.7,249.0 930.2,251.4 930.7,263.4 931.1,252.8 931.6,253.1 932.0,251.8 932.5,244.2 932.9,250.1 933.4,250.0 933.8,252.9 934.3,253.1 934.8,254.0 935.2,251.6 935.7,239.7 936.1,236.5 936.6,253.2 937.0,239.7 937.5,236.9 937.9,253.8 938.4,239.7 938.8,249.8 939.3,236.3 939.8,236.0 940.2,241.1 940.7,263.7 941.1,236.9 941.6,241.2 942.0,230.2 942.5,239.3 942.9,236.8 943.4,243.7 943.9,249.9 944.3,235.6 944.8,240.5 945.2,233.6 945.7,249.5 946.1,254.2 946.6,250.7 947.0,250.8 947.5,263.0 947.9,246.0 948.4,259.7 948.9,223.3 949.3,249.7 949.8,238.8 950.2,244.5 950.7,236.2 951.1,247.9 951.6,232.1 952.0,253.7 952.5,245.7 953.0,252.9 953.4,243.3 953.9,239.1 954.3,231.8 954.8,249.7 955.2,250.4 955.7,235.8 956.1,232.3 956.6,231.8 957.0,234.6 957.5,248.2 958.0,223.9 958.4,237.3 958.9,230.5 959.3,240.2 959.8,228.4 960.2,231.0 960.7,244.8 961.1,254.5 961.6,233.3 962.1,229.8 962.5,245.5 963.0,248.3 963.4,247.6 963.9,241.4 964.3,225.5 964.8,247.2 965.2,255.0 965.7,245.7 966.1,229.5 966.6,227.9 967.1,241.8 967.5,225.3 968.0,244.1 968.4,227.1 968.9,241.6 969.3,242.1 969.8,240.7 970.2,232.2 970.7,223.1 971.2,237.7 971.6,253.5 972.1,238.5 972.5,213.4 973.0,212.9 973.4,233.2 973.9,234.0 974.3,223.0 974.8,209.6 975.2,239.5 975.7,239.2 976.2,221.3 976.6,219.7 977.1,224.4 977.5,221.9 978.0,220.8 978.4,233.2 978.9,239.8 979.3,240.0 979.8,217.7 980.3,240.9 980.7,208.8 981.2,236.3 981.6,236.7 982.1,239.2 982.5,217.1 983.0,232.7 983.4,217.5 983.9,221.9 984.3,247.6 984.8,230.4 985.3,238.3 985.7,235.4 986.2,235.5 986.6,239.4 987.1,235.1 987.5,246.9 988.0,235.1 988.4,229.4 988.9,219.1 989.3,234.2 989.8,219.7 990.3,232.7 990.7,235.3 991.2,210.8 991.6,222.9 992.1,225.0 992.5,234.5 993.0,236.4 993.4,215.2 993.9,229.1 994.4,217.7 994.8,232.4 995.3,204.6 995.7,213.1 996.2,235.7 996.6,201.6 997.1,227.8 997.5,218.6 998.0,233.4 998.4,230.7 998.9,236.1 999.4,218.4 999.8,214.7 1000.3,231.0 1000.7,235.4 1001.2,230.8 1001.6,229.8 1002.1,228.0 1002.5,233.9 1003.0,222.7 1003.5,214.4 1003.9,232.7 1004.4,211.2 1004.8,214.6 1005.3,201.7 1005.7,235.4 1006.2,227.2 1006.6,211.9 1007.1,209.9 1007.5,231.6 1008.0,228.2 1008.5,212.8 1008.9,225.5 1009.4,220.2 1009.8,213.4 1010.3,211.3 1010.7,211.2 1011.2,209.4 1011.6,239.8 1012.1,213.3 1012.6,220.5 1013.0,213.8 1013.5,215.5 1013.9,215.6 1014.4,203.3 1014.8,209.9 1015.3,224.8 1015.7,216.2 1016.2,214.8 1016.6,218.5 1017.1,230.0 1017.6,221.8 1018.0,233.1 1018.5,210.3 1018.9,222.4 1019.4,207.5 1019.8,214.1 1020.3,213.4 1020.7,223.0 1021.2,237.7 1021.7,209.4 1022.1,216.6 1022.6,225.3 1023.0,217.0 1023.5,230.6 1023.9,235.8 1024.4,227.2 1024.8,231.6 1025.3,210.3 1025.7,232.2 1026.2,230.6 1026.7,222.1 1027.1,207.9 1027.6,206.8 1028.0,226.1 1028.5,207.4 1028.9,224.0 1029.4,210.0 1029.8,207.7 1030.3,214.1 1030.8,231.0 1031.2,194.6 1031.7,230.6 1032.1,241.7 1032.6,209.7 1033.0,210.7 1033.5,207.6 1033.9,206.8 1034.4,210.1 1034.8,195.0 1035.3,226.6 1035.8,239.5 1036.2,206.6 1036.7,204.9 1037.1,211.8 1037.6,225.0 1038.0,204.7 1038.5,224.5 1038.9,213.0 1039.4,225.3 1039.9,226.9 1040.3,193.6 1040.8,226.0 1041.2,222.8 1041.7,210.3 1042.1,211.8 1042.6,202.9 1043.0,208.7 1043.5,207.6 1043.9,226.2 1044.4,210.7 1044.9,218.2 1045.3,203.6 1045.8,206.3 1046.2,219.9 1046.7,229.4 1047.1,220.3 1047.6,221.8 1048.0,204.7 1048.5,229.1 1049.0,208.8 1049.4,223.4 1049.9,222.6 1050.3,228.8 1050.8,226.3 1051.2,219.4 1051.7,228.9 1052.1,224.2 1052.6,223.8 1053.0,204.4 1053.5,202.6 1054.0,226.1 1054.4,219.9 1054.9,200.5 1055.3,193.6 1055.8,211.7 1056.2,204.7 1056.7,199.9 1057.1,201.5 1057.6,221.7 1058.1,206.1 1058.5,210.5 1059.0,210.6 1059.4,205.6 1059.9,208.5 1060.3,226.0 1060.8,211.7 1061.2,215.3 1061.7,194.6 1062.1,216.0 1062.6,211.0 1063.1,227.1 1063.5,189.3 1064.0,199.8 1064.4,222.6 1064.9,214.8 1065.3,201.3 1065.8,206.1 1066.2,199.3 1066.7,218.7 1067.2,203.4 1067.6,207.5 1068.1,200.9 1068.5,222.7 1069.0,213.0 1069.4,209.3 1069.9,203.3 1070.3,210.8 1070.8,225.2 1071.2,221.0 1071.7,202.4 1072.2,208.0 1072.6,200.9 1073.1,223.3 1073.5,221.3 1074.0,197.2 1074.4,201.8 1074.9,225.9 1075.3,205.1 1075.8,216.7 1076.3,202.5 1076.7,220.0 1077.2,202.0 1077.6,204.2 1078.1,198.4 1078.5,204.3 1079.0,234.1 1079.4,225.1 1079.9,201.9 1080.3,219.3 1080.8,195.0 1081.3,198.5 1081.7,196.6 1082.2,200.3 1082.6,218.3 1083.1,194.2 1083.5,216.3 1084.0,220.6 1084.4,231.4 1084.9,207.3 1085.4,222.2 1085.8,206.5 1086.3,209.8 1086.7,221.6 1087.2,220.2 1087.6,211.7 1088.1,206.7 1088.5,214.0 1089.0,206.8 1089.4,214.2 1089.9,209.8 1090.4,231.1 1090.8,193.5 1091.3,200.3 1091.7,211.4 1092.2,224.8 1092.6,201.6 1093.1,212.5 1093.5,195.8 1094.0,201.5 1094.5,180.8 1094.9,185.4 1095.4,209.3 1095.8,217.8 1096.3,206.5 1096.7,204.7 1097.2,209.9 1097.6,209.2 1098.1,216.2 1098.5,206.9 1099.0,197.8 1099.5,204.7 1099.9,205.0 1100.4,189.9 1100.8,211.2 1101.3,179.1 1101.7,193.8 1102.2,183.1 1102.6,198.9 1103.1,202.5 1103.6,212.1 1104.0,213.8 1104.5,207.5 1104.9,186.8 1105.4,177.3 1105.8,213.9 1106.3,199.9 1106.7,192.5 1107.2,195.8 1107.6,203.0 1108.1,202.6 1108.6,210.2 1109.0,175.4 1109.5,184.8 1109.9,212.8 1110.4,190.5 1110.8,209.5 1111.3,212.6 1111.7,195.4 1112.2,176.5 1112.7,212.5 1113.1,212.8 1113.6,193.3 1114.0,183.9 1114.5,203.0 1114.9,188.1 1115.4,174.9 1115.8,210.2 1116.3,209.0 1116.7,195.2 1117.2,206.0 1117.7,216.4 1118.1,209.4 1118.6,185.6 1119.0,207.3 1119.5,211.4 1119.9,190.1 1120.4,184.6 1120.8,205.3 1121.3,203.4 1121.8,203.6 1122.2,210.2 1122.7,200.0 1123.1,203.3 1123.6,201.6 1124.0,193.4 1124.5,207.1 1124.9,180.7 1125.4,209.4 1125.8,191.7 1126.3,190.1 1126.8,202.8 1127.2,204.7 1127.7,206.1 1128.1,179.3 1128.6,194.1 1129.0,195.0 1129.5,202.3 1129.9,204.4 1130.4,200.1 1130.9,182.0 1131.3,180.9 1131.8,191.4 1132.2,200.2 1132.7,207.3 1133.1,208.6 1133.6,186.8 1134.0,181.9 1134.5,203.2 1134.9,207.3 1135.4,176.0 1135.9,204.4 1136.3,202.1 1136.8,176.1 1137.2,207.3 1137.7,187.3 1138.1,199.2 1138.6,200.5 1139.0,189.4 1139.5,205.0 1140.0,187.3 1140.4,202.7 1140.9,186.7 1141.3,178.9 1141.8,199.1 1142.2,178.1 1142.7,180.8 1143.1,203.6 1143.6,201.2 1144.0,187.9 1144.5,177.8 1145.0,205.3 1145.4,183.4 1145.9,196.6 1146.3,195.8 1146.8,201.8 1147.2,177.2 1147.7,199.2 1148.1,193.3 1148.6,174.7 1149.1,198.3 1149.5,175.7 1150.0,201.6 1150.4,171.1 1150.9,213.7 1151.3,198.6 1151.8,194.8 1152.2,208.2 1152.7,203.7 1153.1,175.4 1153.6,210.2 1154.1,192.2 1154.5,198.6 1155.0,171.4 1155.4,199.3 1155.9,195.8 1156.3,172.6 1156.8,195.8 1157.2,177.1 1157.7,196.7 1158.1,171.1 1158.6,155.4 1159.1,201.5 1159.5,182.9 1160.0,190.0 1160.4,169.3 1160.9,189.9 1161.3,191.2 1161.8,156.7 1162.2,196.0 1162.7,177.6 1163.2,174.2 1163.6,165.2 1164.1,193.7 1164.5,189.9 1165.0,211.0 1165.4,196.0 1165.9,195.7 1166.3,168.6 1166.8,168.3 1167.2,164.2 1167.7,199.6 1168.2,199.1 1168.6,163.5 1169.1,167.0 1169.5,186.4 1170.0,161.5 1170.4,165.2 1170.9,170.2 1171.3,165.3 1171.8,177.4 1172.3,154.7 1172.7,187.2 1173.2,196.8 1173.6,178.7 1174.1,197.8 1174.5,189.4 1175.0,195.1 1175.4,185.0 1175.9,177.3 1176.3,190.1 1176.8,160.9 1177.3,169.9 1177.7,186.7 1178.2,195.9 1178.6,168.6 1179.1,169.7 1179.5,169.3 1180.0,162.4 1180.4,165.9 1180.9,184.8 1181.4,173.5 1181.8,173.9 1182.3,166.7 1182.7,157.8 1183.2,190.0 1183.6,184.1 1184.1,196.5 1184.5,158.0 1185.0,171.0 1185.4,169.6 1185.9,180.9 1186.4,160.0 1186.8,186.0 1187.3,196.9 1187.7,189.4 1188.2,148.2 1188.6,177.7 1189.1,188.8 1189.5,180.1 1190.0,190.1 1190.5,166.2 1190.9,180.8 1191.4,161.8 1191.8,193.2 1192.3,170.3 1192.7,186.8 1193.2,206.2 1193.6,167.4 1194.1,165.5 1194.5,192.6 1195.0,179.9 1195.5,187.6 1195.9,194.5 1196.4,198.9 1196.8,152.4 1197.3,162.4 1197.7,168.4 1198.2,160.6 1198.6,159.1 1199.1,171.2 1199.6,188.9 1200.0,158.2 1200.5,166.2 1200.9,181.6 1201.4,169.1 1201.8,203.3 1202.3,187.0 1202.7,194.2 1203.2,178.8 1203.6,202.3 1204.1,185.3 1204.6,163.6 1205.0,158.0 1205.5,191.7 1205.9,183.5 1206.4,185.8 1206.8,174.2 1207.3,185.2 1207.7,181.8 1208.2,191.8 1208.7,158.2 1209.1,169.4 1209.6,179.5 1210.0,189.7 1210.5,165.1 1210.9,192.0 1211.4,196.5 1211.8,184.3 1212.3,188.1 1212.7,168.7 1213.2,157.8 1213.7,155.9 1214.1,165.7 1214.6,155.4 1215.0,158.0 1215.5,180.2 1215.9,185.6 1216.4,181.6 1216.8,179.8 1217.3,179.6 1217.8,151.6 1218.2,162.1 1218.7,161.8 1219.1,168.6 1219.6,152.5 1220.0,156.8 1220.5,151.5 1220.9,150.5 1221.4,185.3 1221.8,185.9 1222.3,180.9 1222.8,176.1 1223.2,160.7 1223.7,152.9 1224.1,139.0 1224.6,183.6 1225.0,149.2 1225.5,148.8 1225.9,139.0 1226.4,182.9 1226.9,161.2 1227.3,149.1 1227.8,149.5 1228.2,157.3 1228.7,186.7 1229.1,155.0 1229.6,168.4 1230.0,156.7 1230.5,175.6 1230.9,185.4 1231.4,193.5 1231.9,154.9 1232.3,176.6 1232.8,157.7 1233.2,179.3 1233.7,192.5 1234.1,159.2 1234.6,167.7 1235.0,150.3 1235.5,150.1 1236.0,180.8 1236.4,160.2 1236.9,160.9 1237.3,167.0 1237.8,134.9 1238.2,181.4 1238.7,152.7 1239.1,168.3 1239.6,136.4 1240.0,180.5 1240.5,181.2 1241.0,168.2 1241.4,145.9 1241.9,154.5 1242.3,177.1 1242.8,150.9 1243.2,176.6 1243.7,162.8 1244.1,145.3 1244.6,132.4 1245.1,155.5 1245.5,140.0 1246.0,175.4 1246.4,191.8 1246.9,177.0 1247.3,176.1 1247.8,140.5 1248.2,166.2 1248.7,173.0 1249.1,170.6 1249.6,162.7 1250.1,148.7 1250.5,168.6 1251.0,130.1 1251.4,152.0 1251.9,169.1 1252.3,168.3 1252.8,176.3 1253.2,146.1 1253.7,138.3 1254.2,143.7 1254.6,175.5 1255.1,165.8 1255.5,174.3 1256.0,141.5 1256.4,170.6 1256.9,153.9 1257.3,136.8 1257.8,151.1 1258.2,157.7 1258.7,166.2 1259.2,134.2 1259.6,147.8 1260.1,161.8 1260.5,135.5 1261.0,171.8 1261.4,171.3 1261.9,135.9 1262.3,145.7 1262.8,132.3 1263.3,131.3 1263.7,123.9 1264.2,157.0 1264.6,165.6 1265.1,140.6 1265.5,148.6 1266.0,132.8 1266.4,142.8 1266.9,160.4 1267.3,136.9 1267.8,168.4 1268.3,173.2 1268.7,184.8 1269.2,138.4 1269.6,155.6 1270.1,170.8 1270.5,128.1 1271.0,134.4 1271.4,169.6 1271.9,171.1 1272.4,170.4 1272.8,135.7 1273.3,163.5 1273.7,132.4 1274.2,142.8 1274.6,142.3 1275.1,160.3 1275.5,161.7 1276.0,142.5 1276.4,154.9 1276.9,160.3 1277.4,139.0 1277.8,155.0 1278.3,159.7 1278.7,155.8 1279.2,160.8 1279.6,149.9 1280.1,123.0 1280.5,137.0 1281.0,167.5 1281.5,180.0 1281.9,130.9 1282.4,126.8 1282.8,167.0 1283.3,127.7 1283.7,125.1 1284.2,154.8 1284.6,125.3 1285.1,124.6 1285.5,135.2 1286.0,152.9 1286.5,128.5 1286.9,123.2 1287.4,163.9 1287.8,118.1 1288.3,105.9 1288.7,166.6 1289.2,133.4 1289.6,118.4 1290.1,133.8 1290.6,165.5 1291.0,151.0 1291.5,133.8 1291.9,161.3 1292.4,161.7 1292.8,117.2 1293.3,162.0 1293.7,110.4 1294.2,162.3 1294.6,146.7 1295.1,125.9 1295.6,129.5 1296.0,149.3 1296.5,137.8 1296.9,121.1 1297.4,128.9 1297.8,152.2 1298.3,140.9 1298.7,150.4 1299.2,124.6 1299.7,169.0 1300.1,161.8 1300.6,143.6 1301.0,175.5 1301.5,123.3 1301.9,126.2 1302.4,162.6 1302.8,136.8 1303.3,117.6 1303.7,145.3 1304.2,152.4 1304.7,122.7 1305.1,141.5 1305.6,159.0 1306.0,130.7 1306.5,129.3 1306.9,99.2 1307.4,111.5 1307.8,116.0 1308.3,111.3 1308.8,106.9 1309.2,154.8 1309.7,171.8 1310.1,151.7 1310.6,108.9 1311.0,118.6 1311.5,122.9 1311.9,171.6 1312.4,105.5 1312.8,114.4 1313.3,94.6 1313.8,109.8 1314.2,113.6 1314.7,110.2 1315.1,154.9 1315.6,149.0 1316.0,156.0 1316.5,147.0 1316.9,142.0 1317.4,109.6 1317.9,102.7 1318.3,134.2 1318.8,116.1 1319.2,105.2 1319.7,151.1 1320.1,104.2 1320.6,155.0 1321.0,121.9 1321.5,150.5 1321.9,141.2 1322.4,120.6" fill="none" stroke="#876D55" stroke-width="1.8" stroke-linejoin="miter"/>
</g>
<g opacity="0.75">
<polygon points="816.0,314.4 818.0,305.2 820.0,294.6 822.0,287.5 824.0,282.0 826.0,279.1 828.0,277.2 830.0,275.4 832.0,273.6 834.0,271.7 836.0,270.1 838.0,268.7 840.0,267.3 842.0,265.8 844.0,264.4 846.0,263.0 848.0,261.6 850.0,260.1 852.0,258.6 854.0,257.1 856.0,255.6 858.0,254.1 860.0,252.6 862.0,250.9 864.0,249.1 866.0,247.3 868.0,245.4 870.0,243.6 872.0,241.8 874.0,240.0 876.0,238.8 878.0,237.7 880.0,236.5 882.0,235.3 884.0,234.2 886.0,233.0 888.0,231.5 890.0,229.8 892.0,228.1 894.0,226.4 896.0,224.6 898.0,222.9 900.0,221.2 902.0,220.3 904.0,219.4 906.0,218.4 908.0,217.5 910.0,216.6 912.0,215.7 914.0,214.9 916.0,214.2 918.0,213.6 920.0,212.9 922.0,212.3 924.0,211.6 926.0,211.0 928.0,210.5 930.0,209.9 932.0,209.4 934.0,208.9 936.0,208.3 938.0,207.8 940.0,207.3 942.0,206.8 944.0,206.3 946.0,205.8 948.0,205.3 950.0,204.8 952.0,204.2 954.0,203.3 956.0,202.4 958.0,201.6 960.0,200.7 962.0,199.9 964.0,199.0 966.0,198.0 968.0,197.0 970.0,196.0 972.0,194.9 974.0,193.9 976.0,192.9 978.0,191.9 980.0,190.9 982.0,189.9 984.0,189.0 986.0,188.0 988.0,187.0 990.0,186.0 992.0,184.8 994.0,183.6 996.0,182.4 998.0,181.2 1000.0,180.0 1002.0,178.8 1004.0,177.6 1006.0,176.4 1008.0,175.2 1010.0,174.3 1012.0,173.4 1014.0,172.4 1016.0,171.5 1018.0,170.6 1020.0,169.7 1022.0,168.6 1024.0,167.3 1026.0,166.0 1028.0,164.7 1030.0,163.4 1032.0,162.1 1034.0,160.8 1036.0,160.1 1038.0,159.4 1040.0,158.7 1042.0,158.0 1044.0,157.3 1046.0,156.6 1048.0,155.8 1050.0,154.9 1052.0,154.1 1054.0,153.2 1056.0,152.4 1058.0,151.8 1060.0,151.1 1062.0,150.5 1064.0,149.8 1066.0,149.2 1068.0,148.5 1070.0,147.9 1072.0,147.4 1074.0,146.9 1076.0,146.4 1078.0,145.9 1080.0,145.4 1082.0,144.7 1084.0,143.8 1086.0,142.9 1088.0,142.0 1090.0,141.0 1092.0,140.1 1094.0,139.2 1096.0,138.6 1098.0,138.0 1100.0,137.4 1102.0,136.7 1104.0,136.1 1106.0,135.5 1108.0,134.8 1110.0,134.0 1112.0,133.3 1114.0,132.5 1116.0,131.7 1118.0,131.0 1120.0,130.2 1122.0,129.5 1124.0,128.9 1126.0,128.3 1128.0,127.8 1130.0,127.2 1132.0,126.6 1134.0,126.0 1136.0,125.4 1138.0,124.9 1140.0,124.3 1142.0,123.7 1144.0,123.2 1146.0,122.9 1148.0,122.5 1150.0,122.1 1152.0,121.8 1154.0,121.4 1156.0,121.0 1158.0,120.7 1160.0,120.3 1162.0,120.0 1164.0,119.6 1166.0,118.9 1168.0,118.2 1170.0,117.5 1172.0,116.9 1174.0,116.2 1176.0,115.5 1178.0,114.8 1180.0,114.1 1182.0,113.4 1184.0,112.7 1186.0,111.9 1188.0,111.0 1190.0,110.0 1192.0,109.0 1194.0,108.1 1196.0,107.1 1198.0,106.2 1200.0,105.2 1202.0,104.1 1204.0,103.0 1206.0,101.9 1208.0,100.8 1210.0,99.7 1212.0,98.6 1214.0,97.5 1216.0,96.4 1218.0,95.3 1220.0,94.2 1222.0,93.9 1224.0,93.7 1226.0,93.4 1228.0,93.2 1230.0,92.9 1232.0,92.7 1234.0,92.4 1236.0,92.2 1238.0,91.9 1240.0,91.7 1242.0,91.4 1244.0,90.6 1246.0,89.8 1248.0,88.9 1250.0,88.1 1252.0,87.3 1254.0,86.5 1256.0,85.7 1258.0,84.9 1260.0,84.0 1262.0,83.2 1264.0,82.4 1266.0,81.6 1268.0,80.7 1270.0,79.8 1272.0,78.9 1274.0,78.1 1276.0,77.2 1278.0,76.3 1280.0,75.5 1282.0,74.6 1284.0,73.7 1286.0,72.8 1288.0,72.0 1290.0,71.3 1292.0,70.5 1294.0,69.7 1296.0,69.0 1298.0,68.2 1300.0,67.4 1302.0,66.7 1304.0,65.9 1306.0,65.1 1308.0,64.4 1310.0,63.6 1312.0,63.0 1314.0,62.5 1316.0,61.9 1318.0,61.3 1320.0,60.8 1322.0,60.2 1322.0,78.8 1320.0,79.6 1318.0,80.3 1316.0,81.1 1314.0,81.9 1312.0,82.6 1310.0,83.4 1308.0,84.1 1306.0,84.8 1304.0,85.5 1302.0,86.3 1300.0,87.0 1298.0,87.7 1296.0,88.4 1294.0,89.1 1292.0,89.8 1290.0,90.5 1288.0,91.2 1286.0,91.8 1284.0,92.3 1282.0,92.8 1280.0,93.3 1278.0,93.8 1276.0,94.3 1274.0,94.8 1272.0,95.3 1270.0,95.8 1268.0,96.3 1266.0,96.8 1264.0,97.5 1262.0,98.4 1260.0,99.3 1258.0,100.2 1256.0,101.1 1254.0,102.1 1252.0,103.0 1250.0,103.9 1248.0,104.8 1246.0,105.8 1244.0,106.7 1242.0,107.6 1240.0,108.1 1238.0,108.5 1236.0,109.0 1234.0,109.5 1232.0,110.0 1230.0,110.4 1228.0,110.9 1226.0,111.4 1224.0,111.9 1222.0,112.3 1220.0,112.8 1218.0,113.9 1216.0,115.0 1214.0,116.1 1212.0,117.2 1210.0,118.3 1208.0,119.4 1206.0,120.5 1204.0,121.6 1202.0,122.7 1200.0,123.8 1198.0,124.4 1196.0,125.1 1194.0,125.7 1192.0,126.4 1190.0,127.0 1188.0,127.6 1186.0,128.3 1184.0,128.8 1182.0,129.3 1180.0,129.7 1178.0,130.2 1176.0,130.7 1174.0,131.1 1172.0,131.6 1170.0,132.0 1168.0,132.5 1166.0,132.9 1164.0,133.4 1162.0,133.7 1160.0,134.0 1158.0,134.3 1156.0,134.6 1154.0,134.9 1152.0,135.2 1150.0,135.5 1148.0,135.8 1146.0,136.1 1144.0,136.4 1142.0,136.8 1140.0,137.2 1138.0,137.6 1136.0,138.1 1134.0,138.5 1132.0,138.9 1130.0,139.3 1128.0,139.7 1126.0,140.2 1124.0,140.6 1122.0,141.0 1120.0,141.5 1118.0,142.0 1116.0,142.5 1114.0,143.0 1112.0,143.5 1110.0,144.0 1108.0,144.5 1106.0,145.1 1104.0,145.7 1102.0,146.3 1100.0,147.0 1098.0,147.6 1096.0,148.2 1094.0,148.8 1092.0,150.2 1090.0,151.6 1088.0,153.0 1086.0,154.3 1084.0,155.7 1082.0,157.1 1080.0,158.1 1078.0,158.6 1076.0,159.1 1074.0,159.6 1072.0,160.1 1070.0,160.6 1068.0,161.2 1066.0,161.9 1064.0,162.6 1062.0,163.4 1060.0,164.1 1058.0,164.9 1056.0,165.6 1054.0,167.0 1052.0,168.4 1050.0,169.7 1048.0,171.1 1046.0,172.3 1044.0,173.3 1042.0,174.3 1040.0,175.2 1038.0,176.2 1036.0,177.2 1034.0,178.2 1032.0,179.2 1030.0,180.2 1028.0,181.2 1026.0,182.3 1024.0,183.3 1022.0,184.3 1020.0,185.3 1018.0,186.2 1016.0,187.1 1014.0,188.0 1012.0,189.0 1010.0,189.9 1008.0,190.8 1006.0,192.3 1004.0,193.7 1002.0,195.2 1000.0,196.7 998.0,198.1 996.0,199.6 994.0,201.1 992.0,202.5 990.0,204.0 988.0,204.7 986.0,205.4 984.0,206.1 982.0,206.8 980.0,207.5 978.0,208.2 976.0,209.5 974.0,211.2 972.0,213.0 970.0,214.7 968.0,216.5 966.0,218.2 964.0,220.0 962.0,220.7 960.0,221.4 958.0,222.0 956.0,222.7 954.0,223.4 952.0,224.1 950.0,224.7 948.0,225.3 946.0,225.9 944.0,226.4 942.0,227.0 940.0,227.6 938.0,228.2 936.0,228.8 934.0,229.5 932.0,230.1 930.0,230.7 928.0,231.4 926.0,232.0 924.0,232.7 922.0,233.5 920.0,234.2 918.0,235.0 916.0,235.7 914.0,236.4 912.0,237.3 910.0,238.2 908.0,239.1 906.0,240.0 904.0,241.0 902.0,241.9 900.0,242.8 898.0,244.6 896.0,246.4 894.0,248.2 892.0,250.1 890.0,251.9 888.0,253.7 886.0,255.1 884.0,256.1 882.0,257.1 880.0,258.0 878.0,259.0 876.0,260.0 874.0,261.0 872.0,264.6 870.0,268.1 868.0,271.7 866.0,275.3 864.0,278.8 862.0,282.4 860.0,285.4 858.0,287.7 856.0,290.0 854.0,292.4 852.0,294.7 850.0,297.1 848.0,299.4 846.0,300.9 844.0,302.4 842.0,303.9 840.0,305.4 838.0,306.9 836.0,308.4 834.0,309.9 832.0,311.2 830.0,312.6 828.0,314.0 826.0,315.3 824.0,318.0 822.0,324.1 820.0,332.4 818.0,350.8 816.0,357.6" fill="#52BDD5"/>
<polyline points="816.0,305.3 816.5,300.2 816.9,347.8 817.4,352.0 817.8,326.4 818.3,292.7 818.7,294.1 819.2,349.5 819.6,280.9 820.1,340.9 820.5,337.3 821.0,328.9 821.5,274.2 821.9,323.4 822.4,311.2 822.8,269.6 823.3,278.0 823.7,275.0 824.2,321.9 824.6,289.3 825.1,323.8 825.6,274.1 826.0,288.3 826.5,317.2 826.9,270.0 827.4,323.7 827.8,266.7 828.3,322.8 828.7,269.2 829.2,269.4 829.6,267.4 830.1,280.7 830.6,267.2 831.0,303.7 831.5,321.2 831.9,267.7 832.4,307.0 832.8,283.4 833.3,327.0 833.7,275.7 834.2,318.6 834.7,285.0 835.1,264.6 835.6,255.3 836.0,307.5 836.5,264.8 836.9,271.5 837.4,267.2 837.8,258.5 838.3,292.9 838.7,280.9 839.2,258.9 839.7,260.6 840.1,261.6 840.6,277.6 841.0,268.5 841.5,262.2 841.9,302.5 842.4,289.1 842.8,321.6 843.3,306.4 843.8,307.0 844.2,302.4 844.7,277.1 845.1,304.2 845.6,289.3 846.0,247.7 846.5,305.7 846.9,272.3 847.4,294.5 847.8,261.8 848.3,264.8 848.8,263.8 849.2,293.5 849.7,252.6 850.1,252.5 850.6,243.5 851.0,240.7 851.5,283.0 851.9,293.2 852.4,248.7 852.9,302.8 853.3,285.5 853.8,293.3 854.2,259.9 854.7,288.6 855.1,293.8 855.6,291.1 856.0,274.5 856.5,296.2 856.9,295.0 857.4,290.2 857.9,289.2 858.3,283.9 858.8,275.8 859.2,289.0 859.7,267.7 860.1,257.1 860.6,287.0 861.0,251.1 861.5,285.0 862.0,262.2 862.4,248.1 862.9,244.0 863.3,241.3 863.8,268.7 864.2,248.3 864.7,282.3 865.1,247.6 865.6,249.4 866.0,283.0 866.5,274.7 867.0,255.3 867.4,276.3 867.9,232.7 868.3,267.7 868.8,261.2 869.2,262.0 869.7,239.0 870.1,230.6 870.6,242.8 871.1,276.9 871.5,252.9 872.0,238.8 872.4,236.7 872.9,249.8 873.3,239.0 873.8,230.3 874.2,242.7 874.7,239.0 875.1,264.6 875.6,238.5 876.1,264.3 876.5,258.3 877.0,257.7 877.4,239.8 877.9,263.4 878.3,246.1 878.8,249.7 879.2,261.4 879.7,241.0 880.2,233.0 880.6,255.4 881.1,230.5 881.5,261.7 882.0,261.0 882.4,258.7 882.9,244.2 883.3,233.9 883.8,250.4 884.2,235.6 884.7,256.0 885.2,249.2 885.6,261.4 886.1,258.9 886.5,257.7 887.0,257.9 887.4,253.7 887.9,248.3 888.3,253.6 888.8,257.5 889.3,239.4 889.7,233.3 890.2,246.6 890.6,234.6 891.1,262.7 891.5,217.0 892.0,235.1 892.4,246.6 892.9,229.1 893.3,229.5 893.8,249.0 894.3,248.2 894.7,252.1 895.2,234.0 895.6,231.8 896.1,225.0 896.5,239.8 897.0,231.1 897.4,209.9 897.9,219.4 898.4,231.5 898.8,223.5 899.3,255.7 899.7,243.5 900.2,252.2 900.6,216.1 901.1,241.2 901.5,243.4 902.0,236.8 902.4,247.5 902.9,215.5 903.4,206.5 903.8,216.7 904.3,230.1 904.7,205.8 905.2,220.1 905.6,238.4 906.1,238.7 906.5,235.1 907.0,215.2 907.5,203.7 907.9,243.1 908.4,218.5 908.8,242.3 909.3,211.6 909.7,229.2 910.2,222.8 910.6,228.0 911.1,220.1 911.5,243.0 912.0,223.1 912.5,243.2 912.9,231.2 913.4,222.7 913.8,215.3 914.3,230.9 914.7,220.9 915.2,230.8 915.6,241.1 916.1,219.2 916.6,240.6 917.0,238.4 917.5,224.7 917.9,215.4 918.4,230.3 918.8,224.2 919.3,226.0 919.7,243.9 920.2,203.2 920.6,210.0 921.1,227.8 921.6,200.2 922.0,235.1 922.5,236.4 922.9,210.4 923.4,215.0 923.8,214.4 924.3,234.1 924.7,202.1 925.2,232.6 925.7,216.6 926.1,198.4 926.6,231.6 927.0,232.5 927.5,234.1 927.9,235.4 928.4,207.9 928.8,230.3 929.3,215.0 929.7,229.2 930.2,224.5 930.7,234.3 931.1,205.6 931.6,207.0 932.0,215.3 932.5,212.6 932.9,232.8 933.4,222.4 933.8,211.6 934.3,215.7 934.8,242.1 935.2,223.6 935.7,205.0 936.1,205.3 936.6,221.9 937.0,214.9 937.5,202.5 937.9,241.8 938.4,233.0 938.8,223.0 939.3,221.9 939.8,232.4 940.2,205.5 940.7,229.0 941.1,202.2 941.6,232.2 942.0,218.2 942.5,202.0 942.9,212.8 943.4,209.3 943.9,227.8 944.3,211.4 944.8,215.1 945.2,226.0 945.7,208.2 946.1,221.9 946.6,220.9 947.0,228.6 947.5,210.4 947.9,231.1 948.4,221.9 948.9,211.7 949.3,210.6 949.8,212.1 950.2,192.9 950.7,204.5 951.1,206.3 951.6,206.0 952.0,229.7 952.5,216.8 953.0,228.0 953.4,229.2 953.9,198.9 954.3,221.2 954.8,198.4 955.2,217.6 955.7,199.7 956.1,214.4 956.6,221.9 957.0,220.0 957.5,205.0 958.0,207.8 958.4,202.3 958.9,219.8 959.3,224.4 959.8,202.1 960.2,214.9 960.7,199.8 961.1,204.1 961.6,219.5 962.1,205.5 962.5,222.2 963.0,215.5 963.4,216.9 963.9,219.1 964.3,217.2 964.8,218.8 965.2,197.5 965.7,231.7 966.1,201.2 966.6,215.5 967.1,221.8 967.5,226.1 968.0,204.0 968.4,196.2 968.9,203.9 969.3,213.3 969.8,226.5 970.2,212.6 970.7,200.7 971.2,206.8 971.6,193.5 972.1,213.2 972.5,209.7 973.0,209.2 973.4,212.7 973.9,191.1 974.3,209.5 974.8,205.8 975.2,212.8 975.7,192.6 976.2,189.3 976.6,211.5 977.1,188.8 977.5,202.0 978.0,190.3 978.4,212.0 978.9,210.5 979.3,206.2 979.8,214.8 980.3,189.2 980.7,202.3 981.2,195.0 981.6,186.0 982.1,209.1 982.5,189.5 983.0,196.6 983.4,190.5 983.9,194.6 984.3,195.2 984.8,200.9 985.3,187.1 985.7,192.9 986.2,196.2 986.6,208.9 987.1,199.5 987.5,190.0 988.0,185.3 988.4,212.8 988.9,193.2 989.3,197.8 989.8,202.8 990.3,185.8 990.7,172.9 991.2,176.3 991.6,200.4 992.1,182.6 992.5,183.1 993.0,179.6 993.4,183.5 993.9,193.2 994.4,181.6 994.8,188.2 995.3,203.0 995.7,196.7 996.2,180.7 996.6,173.5 997.1,197.8 997.5,198.9 998.0,177.5 998.4,184.4 998.9,206.2 999.4,190.3 999.8,178.3 1000.3,208.7 1000.7,191.6 1001.2,169.2 1001.6,183.5 1002.1,194.9 1002.5,195.7 1003.0,177.2 1003.5,197.3 1003.9,183.2 1004.4,204.9 1004.8,187.7 1005.3,174.3 1005.7,196.6 1006.2,190.5 1006.6,187.9 1007.1,195.6 1007.5,194.2 1008.0,173.9 1008.5,193.8 1008.9,172.8 1009.4,178.0 1009.8,172.9 1010.3,193.2 1010.7,173.9 1011.2,196.1 1011.6,169.2 1012.1,177.0 1012.6,192.0 1013.0,174.2 1013.5,168.6 1013.9,170.4 1014.4,175.3 1014.8,169.5 1015.3,171.2 1015.7,171.8 1016.2,170.3 1016.6,180.2 1017.1,189.8 1017.6,168.7 1018.0,189.5 1018.5,159.9 1018.9,175.1 1019.4,170.0 1019.8,188.1 1020.3,167.0 1020.7,184.7 1021.2,165.3 1021.7,173.1 1022.1,185.3 1022.6,166.1 1023.0,192.1 1023.5,171.1 1023.9,173.8 1024.4,185.2 1024.8,157.5 1025.3,164.5 1025.7,162.3 1026.2,184.8 1026.7,161.2 1027.1,172.4 1027.6,191.1 1028.0,159.9 1028.5,174.8 1028.9,184.0 1029.4,153.9 1029.8,184.8 1030.3,162.1 1030.8,179.0 1031.2,163.7 1031.7,175.4 1032.1,165.1 1032.6,172.5 1033.0,176.0 1033.5,165.1 1033.9,160.5 1034.4,170.4 1034.8,180.0 1035.3,162.9 1035.8,163.0 1036.2,155.5 1036.7,152.3 1037.1,176.2 1037.6,156.7 1038.0,158.6 1038.5,158.5 1038.9,178.4 1039.4,178.3 1039.9,172.3 1040.3,178.8 1040.8,156.2 1041.2,160.0 1041.7,171.9 1042.1,172.1 1042.6,159.6 1043.0,167.3 1043.5,168.6 1043.9,162.0 1044.4,181.7 1044.9,180.7 1045.3,173.6 1045.8,166.1 1046.2,169.4 1046.7,151.9 1047.1,155.6 1047.6,170.4 1048.0,165.1 1048.5,161.4 1049.0,154.3 1049.4,178.3 1049.9,168.6 1050.3,157.5 1050.8,155.2 1051.2,167.1 1051.7,150.5 1052.1,152.5 1052.6,168.2 1053.0,176.4 1053.5,150.8 1054.0,169.4 1054.4,149.5 1054.9,156.7 1055.3,162.6 1055.8,163.9 1056.2,162.2 1056.7,148.9 1057.1,168.2 1057.6,156.6 1058.1,148.8 1058.5,151.5 1059.0,155.5 1059.4,153.5 1059.9,162.3 1060.3,147.9 1060.8,161.5 1061.2,163.5 1061.7,160.4 1062.1,164.5 1062.6,164.2 1063.1,153.9 1063.5,149.3 1064.0,157.9 1064.4,148.7 1064.9,148.7 1065.3,151.1 1065.8,158.9 1066.2,162.1 1066.7,157.1 1067.2,151.8 1067.6,149.1 1068.1,157.9 1068.5,150.3 1069.0,147.8 1069.4,155.7 1069.9,149.8 1070.3,147.4 1070.8,160.8 1071.2,140.3 1071.7,167.5 1072.2,141.0 1072.6,156.5 1073.1,156.7 1073.5,138.1 1074.0,153.5 1074.4,140.3 1074.9,147.1 1075.3,167.3 1075.8,154.3 1076.3,150.1 1076.7,162.3 1077.2,158.1 1077.6,161.0 1078.1,150.4 1078.5,142.3 1079.0,158.8 1079.4,154.9 1079.9,159.9 1080.3,148.8 1080.8,139.0 1081.3,160.1 1081.7,150.1 1082.2,155.6 1082.6,142.9 1083.1,158.7 1083.5,150.7 1084.0,151.0 1084.4,143.1 1084.9,145.8 1085.4,134.4 1085.8,141.5 1086.3,150.0 1086.7,154.2 1087.2,140.6 1087.6,140.0 1088.1,142.9 1088.5,154.2 1089.0,155.1 1089.4,152.8 1089.9,143.3 1090.4,138.6 1090.8,144.9 1091.3,140.8 1091.7,141.3 1092.2,160.0 1092.6,138.8 1093.1,149.9 1093.5,132.1 1094.0,136.5 1094.5,137.5 1094.9,137.8 1095.4,143.7 1095.8,154.3 1096.3,136.2 1096.7,142.2 1097.2,145.7 1097.6,140.7 1098.1,141.7 1098.5,152.3 1099.0,137.3 1099.5,147.9 1099.9,137.2 1100.4,143.0 1100.8,146.0 1101.3,143.7 1101.7,146.9 1102.2,131.1 1102.6,148.8 1103.1,145.5 1103.6,148.2 1104.0,142.0 1104.5,143.7 1104.9,136.5 1105.4,147.8 1105.8,141.5 1106.3,127.7 1106.7,142.0 1107.2,129.7 1107.6,134.2 1108.1,132.1 1108.6,136.8 1109.0,137.5 1109.5,143.8 1109.9,152.4 1110.4,132.4 1110.8,136.7 1111.3,144.4 1111.7,132.7 1112.2,135.5 1112.7,134.8 1113.1,142.0 1113.6,131.5 1114.0,140.4 1114.5,132.0 1114.9,141.5 1115.4,139.7 1115.8,130.6 1116.3,138.5 1116.7,148.8 1117.2,145.3 1117.7,141.8 1118.1,140.6 1118.6,139.9 1119.0,123.3 1119.5,144.6 1119.9,131.7 1120.4,143.0 1120.8,136.1 1121.3,136.5 1121.8,139.4 1122.2,132.4 1122.7,122.1 1123.1,129.1 1123.6,141.6 1124.0,131.2 1124.5,140.3 1124.9,126.3 1125.4,140.4 1125.8,143.1 1126.3,138.3 1126.8,128.8 1127.2,125.2 1127.7,141.8 1128.1,143.0 1128.6,130.2 1129.0,137.9 1129.5,148.5 1129.9,130.3 1130.4,147.6 1130.9,141.6 1131.3,137.7 1131.8,127.1 1132.2,126.2 1132.7,127.8 1133.1,138.2 1133.6,125.3 1134.0,124.9 1134.5,129.6 1134.9,139.4 1135.4,140.8 1135.9,138.4 1136.3,135.6 1136.8,141.6 1137.2,138.1 1137.7,128.0 1138.1,131.6 1138.6,125.1 1139.0,126.1 1139.5,146.5 1140.0,138.3 1140.4,140.8 1140.9,128.2 1141.3,139.5 1141.8,132.1 1142.2,122.7 1142.7,120.0 1143.1,138.1 1143.6,119.7 1144.0,140.0 1144.5,139.9 1145.0,136.1 1145.4,137.4 1145.9,124.0 1146.3,135.5 1146.8,132.4 1147.2,123.9 1147.7,131.9 1148.1,136.0 1148.6,123.5 1149.1,138.5 1149.5,119.6 1150.0,121.2 1150.4,122.9 1150.9,133.3 1151.3,119.0 1151.8,134.3 1152.2,133.4 1152.7,115.0 1153.1,118.4 1153.6,137.3 1154.1,112.2 1154.5,125.3 1155.0,137.2 1155.4,138.6 1155.9,138.5 1156.3,124.8 1156.8,122.0 1157.2,138.0 1157.7,125.9 1158.1,134.9 1158.6,112.4 1159.1,123.0 1159.5,123.6 1160.0,116.3 1160.4,118.0 1160.9,122.9 1161.3,123.4 1161.8,131.8 1162.2,119.7 1162.7,128.7 1163.2,130.3 1163.6,134.3 1164.1,128.6 1164.5,135.0 1165.0,127.8 1165.4,122.5 1165.9,116.3 1166.3,115.3 1166.8,135.2 1167.2,131.6 1167.7,134.2 1168.2,132.1 1168.6,131.8 1169.1,132.5 1169.5,129.9 1170.0,115.8 1170.4,123.0 1170.9,114.4 1171.3,131.9 1171.8,133.4 1172.3,112.5 1172.7,125.5 1173.2,125.4 1173.6,120.9 1174.1,129.6 1174.5,131.7 1175.0,125.1 1175.4,138.9 1175.9,131.7 1176.3,132.7 1176.8,126.3 1177.3,117.0 1177.7,119.2 1178.2,115.9 1178.6,132.4 1179.1,130.8 1179.5,129.9 1180.0,132.5 1180.4,126.8 1180.9,137.7 1181.4,128.2 1181.8,129.8 1182.3,118.7 1182.7,130.1 1183.2,116.7 1183.6,126.4 1184.1,109.3 1184.5,129.2 1185.0,123.7 1185.4,131.0 1185.9,126.0 1186.4,108.1 1186.8,116.3 1187.3,107.2 1187.7,115.0 1188.2,110.2 1188.6,112.0 1189.1,115.3 1189.5,118.1 1190.0,113.0 1190.5,111.2 1190.9,131.3 1191.4,111.2 1191.8,106.3 1192.3,107.5 1192.7,120.5 1193.2,127.3 1193.6,135.5 1194.1,121.6 1194.5,128.6 1195.0,107.3 1195.5,129.4 1195.9,127.5 1196.4,125.0 1196.8,109.8 1197.3,108.7 1197.7,123.8 1198.2,93.9 1198.6,124.4 1199.1,117.4 1199.6,129.0 1200.0,123.9 1200.5,106.0 1200.9,135.8 1201.4,102.6 1201.8,112.7 1202.3,102.4 1202.7,123.9 1203.2,123.8 1203.6,99.4 1204.1,109.9 1204.6,117.8 1205.0,101.5 1205.5,108.2 1205.9,124.6 1206.4,122.1 1206.8,130.6 1207.3,99.8 1207.7,119.6 1208.2,104.4 1208.7,113.0 1209.1,103.3 1209.6,96.1 1210.0,117.6 1210.5,121.5 1210.9,109.9 1211.4,122.1 1211.8,99.2 1212.3,115.1 1212.7,94.6 1213.2,115.3 1213.7,103.1 1214.1,84.4 1214.6,120.9 1215.0,94.9 1215.5,109.6 1215.9,118.8 1216.4,100.6 1216.8,118.3 1217.3,103.1 1217.8,118.2 1218.2,93.0 1218.7,99.3 1219.1,102.3 1219.6,91.9 1220.0,105.2 1220.5,106.1 1220.9,96.7 1221.4,116.3 1221.8,90.3 1222.3,84.1 1222.8,94.3 1223.2,115.5 1223.7,108.7 1224.1,112.9 1224.6,123.1 1225.0,99.3 1225.5,114.1 1225.9,115.4 1226.4,92.3 1226.9,97.8 1227.3,94.7 1227.8,92.2 1228.2,96.0 1228.7,96.5 1229.1,104.2 1229.6,111.7 1230.0,111.7 1230.5,92.2 1230.9,91.1 1231.4,111.9 1231.9,113.2 1232.3,113.4 1232.8,91.9 1233.2,111.4 1233.7,110.6 1234.1,88.3 1234.6,97.3 1235.0,106.5 1235.5,83.0 1236.0,94.6 1236.4,88.9 1236.9,106.5 1237.3,91.7 1237.8,87.5 1238.2,108.2 1238.7,89.0 1239.1,111.9 1239.6,106.9 1240.0,104.6 1240.5,82.9 1241.0,90.4 1241.4,91.1 1241.9,107.3 1242.3,95.7 1242.8,107.0 1243.2,95.8 1243.7,98.5 1244.1,111.1 1244.6,81.0 1245.1,108.4 1245.5,91.5 1246.0,88.9 1246.4,101.5 1246.9,102.5 1247.3,85.2 1247.8,91.5 1248.2,105.0 1248.7,100.8 1249.1,99.2 1249.6,100.0 1250.1,90.5 1250.5,107.6 1251.0,100.7 1251.4,84.4 1251.9,102.6 1252.3,89.4 1252.8,106.3 1253.2,97.9 1253.7,97.0 1254.2,105.1 1254.6,99.9 1255.1,103.1 1255.5,102.2 1256.0,82.9 1256.4,85.5 1256.9,110.1 1257.3,100.1 1257.8,91.3 1258.2,97.0 1258.7,94.7 1259.2,103.2 1259.6,96.2 1260.1,90.2 1260.5,102.8 1261.0,102.8 1261.4,89.9 1261.9,80.0 1262.3,92.3 1262.8,79.9 1263.3,101.0 1263.7,72.0 1264.2,82.3 1264.6,79.2 1265.1,80.5 1265.5,87.2 1266.0,79.5 1266.4,80.0 1266.9,79.9 1267.3,99.1 1267.8,98.0 1268.3,80.5 1268.7,95.5 1269.2,81.0 1269.6,99.0 1270.1,85.1 1270.5,96.4 1271.0,94.0 1271.4,96.2 1271.9,92.8 1272.4,95.9 1272.8,79.9 1273.3,99.0 1273.7,77.3 1274.2,88.5 1274.6,76.8 1275.1,93.2 1275.5,79.1 1276.0,93.7 1276.4,91.9 1276.9,74.1 1277.4,95.9 1277.8,65.0 1278.3,73.4 1278.7,92.5 1279.2,86.0 1279.6,77.5 1280.1,89.5 1280.5,95.7 1281.0,91.0 1281.5,70.0 1281.9,70.4 1282.4,94.0 1282.8,70.5 1283.3,93.1 1283.7,82.9 1284.2,83.3 1284.6,72.8 1285.1,93.4 1285.5,90.0 1286.0,75.4 1286.5,71.3 1286.9,93.4 1287.4,61.0 1287.8,85.2 1288.3,67.4 1288.7,84.3 1289.2,70.4 1289.6,73.7 1290.1,88.2 1290.6,86.8 1291.0,67.1 1291.5,73.6 1291.9,85.1 1292.4,78.8 1292.8,82.5 1293.3,65.9 1293.7,67.1 1294.2,92.0 1294.6,93.0 1295.1,65.3 1295.6,69.6 1296.0,93.6 1296.5,83.8 1296.9,90.2 1297.4,69.4 1297.8,80.0 1298.3,82.1 1298.7,67.2 1299.2,87.2 1299.7,88.3 1300.1,83.0 1300.6,66.4 1301.0,80.1 1301.5,82.1 1301.9,61.2 1302.4,86.5 1302.8,83.3 1303.3,88.6 1303.7,94.3 1304.2,91.1 1304.7,78.2 1305.1,79.7 1305.6,59.9 1306.0,80.5 1306.5,79.3 1306.9,60.3 1307.4,65.2 1307.8,59.0 1308.3,74.8 1308.8,87.6 1309.2,60.5 1309.7,68.8 1310.1,70.3 1310.6,87.4 1311.0,83.1 1311.5,67.0 1311.9,74.7 1312.4,59.8 1312.8,59.2 1313.3,79.7 1313.8,87.2 1314.2,65.4 1314.7,68.9 1315.1,83.2 1315.6,77.8 1316.0,67.9 1316.5,57.5 1316.9,86.2 1317.4,74.9 1317.9,73.3 1318.3,68.3 1318.8,81.7 1319.2,56.2 1319.7,77.1 1320.1,49.4 1320.6,73.4 1321.0,84.2 1321.5,67.9 1321.9,72.5 1322.4,68.7" fill="none" stroke="#52BDD5" stroke-width="1.8" stroke-linejoin="miter"/>
</g>
<polygon points="816,318 823.5,318 818,369 816.6,369" fill="#52BDD5" fill-opacity="0.75"/>
<g opacity="0.82">
<polygon points="816.0,288.6 818.0,280.8 820.0,274.6 822.0,272.9 824.0,272.0 826.0,271.1 828.0,270.1 830.0,269.6 832.0,269.5 834.0,269.5 836.0,269.4 838.0,269.3 840.0,269.2 842.0,269.1 844.0,268.7 846.0,268.4 848.0,268.0 850.0,267.7 852.0,267.3 854.0,266.9 856.0,266.6 858.0,266.4 860.0,266.2 862.0,266.0 864.0,265.8 866.0,265.5 868.0,265.3 870.0,265.0 872.0,264.7 874.0,264.4 876.0,264.1 878.0,263.8 880.0,263.5 882.0,263.2 884.0,262.9 886.0,262.6 888.0,262.4 890.0,262.2 892.0,262.0 894.0,261.9 896.0,261.7 898.0,261.5 900.0,261.3 902.0,261.2 904.0,261.0 906.0,260.8 908.0,260.6 910.0,260.5 912.0,260.7 914.0,260.9 916.0,261.0 918.0,261.2 920.0,261.4 922.0,261.6 924.0,261.8 926.0,262.0 928.0,262.2 930.0,262.4 932.0,262.6 934.0,262.8 936.0,262.9 938.0,263.1 940.0,263.3 942.0,263.3 944.0,263.3 946.0,263.3 948.0,263.2 950.0,263.2 952.0,263.2 954.0,263.2 956.0,263.1 958.0,263.1 960.0,263.1 962.0,263.1 964.0,263.0 966.0,263.0 968.0,263.0 970.0,263.0 972.0,262.9 974.0,262.9 976.0,262.9 978.0,262.9 980.0,262.9 982.0,262.9 984.0,262.9 986.0,262.9 988.0,262.9 990.0,262.9 992.0,262.9 994.0,262.9 996.0,262.9 998.0,262.9 1000.0,262.9 1002.0,262.9 1004.0,262.9 1006.0,262.8 1008.0,262.8 1010.0,262.8 1012.0,262.8 1014.0,262.8 1016.0,262.8 1018.0,262.8 1020.0,262.8 1022.0,262.8 1024.0,262.8 1026.0,262.8 1028.0,262.8 1030.0,262.8 1032.0,262.8 1034.0,262.8 1036.0,262.8 1038.0,262.8 1040.0,262.8 1042.0,262.8 1044.0,262.8 1046.0,262.8 1048.0,262.8 1050.0,262.8 1052.0,262.8 1054.0,262.8 1056.0,262.8 1058.0,262.8 1060.0,262.8 1062.0,262.8 1064.0,262.8 1066.0,262.7 1068.0,262.7 1070.0,262.7 1072.0,262.7 1074.0,262.7 1076.0,262.7 1078.0,262.7 1080.0,262.7 1082.0,262.7 1084.0,262.7 1086.0,262.7 1088.0,262.7 1090.0,262.7 1092.0,262.7 1094.0,262.7 1096.0,262.7 1098.0,262.7 1100.0,262.7 1102.0,262.7 1104.0,262.7 1106.0,262.7 1108.0,262.7 1110.0,262.7 1112.0,262.7 1114.0,262.7 1116.0,262.7 1118.0,262.7 1120.0,262.7 1122.0,262.7 1124.0,262.7 1126.0,262.6 1128.0,262.6 1130.0,262.6 1132.0,262.6 1134.0,262.6 1136.0,262.6 1138.0,262.6 1140.0,262.6 1142.0,262.6 1144.0,262.6 1146.0,262.6 1148.0,262.6 1150.0,262.6 1152.0,262.6 1154.0,262.6 1156.0,262.6 1158.0,262.6 1160.0,262.6 1162.0,262.6 1164.0,262.6 1166.0,262.6 1168.0,262.6 1170.0,262.6 1172.0,262.6 1174.0,262.6 1176.0,262.6 1178.0,262.6 1180.0,262.6 1182.0,262.6 1184.0,262.6 1186.0,262.6 1188.0,262.5 1190.0,262.5 1192.0,262.5 1194.0,262.5 1196.0,262.5 1198.0,262.5 1200.0,262.5 1202.0,262.5 1204.0,262.5 1206.0,262.5 1208.0,262.5 1210.0,262.5 1212.0,262.5 1214.0,262.5 1216.0,262.5 1218.0,262.5 1220.0,262.5 1222.0,262.5 1224.0,262.5 1226.0,262.5 1228.0,262.5 1230.0,262.5 1232.0,262.5 1234.0,262.5 1236.0,262.5 1238.0,262.5 1240.0,262.5 1242.0,262.5 1244.0,262.5 1246.0,262.5 1248.0,262.4 1250.0,262.4 1252.0,262.4 1254.0,262.4 1256.0,262.4 1258.0,262.4 1260.0,262.4 1262.0,262.4 1264.0,262.4 1266.0,262.4 1268.0,262.4 1270.0,262.4 1272.0,262.4 1274.0,262.4 1276.0,262.4 1278.0,262.4 1280.0,262.4 1282.0,262.4 1284.0,262.4 1286.0,262.4 1288.0,262.4 1290.0,262.4 1292.0,262.4 1294.0,262.4 1296.0,262.4 1298.0,262.4 1300.0,262.4 1302.0,262.4 1304.0,262.4 1306.0,262.4 1308.0,262.3 1310.0,262.3 1312.0,262.3 1314.0,262.3 1316.0,262.3 1318.0,262.3 1320.0,262.3 1322.0,262.3 1322.0,273.2 1320.0,273.2 1318.0,273.2 1316.0,273.2 1314.0,273.2 1312.0,273.2 1310.0,273.2 1308.0,273.2 1306.0,273.2 1304.0,273.2 1302.0,273.2 1300.0,273.2 1298.0,273.2 1296.0,273.2 1294.0,273.2 1292.0,273.3 1290.0,273.3 1288.0,273.3 1286.0,273.3 1284.0,273.3 1282.0,273.3 1280.0,273.3 1278.0,273.3 1276.0,273.3 1274.0,273.3 1272.0,273.3 1270.0,273.3 1268.0,273.3 1266.0,273.3 1264.0,273.3 1262.0,273.3 1260.0,273.3 1258.0,273.3 1256.0,273.4 1254.0,273.4 1252.0,273.4 1250.0,273.4 1248.0,273.4 1246.0,273.4 1244.0,273.4 1242.0,273.4 1240.0,273.4 1238.0,273.4 1236.0,273.4 1234.0,273.4 1232.0,273.4 1230.0,273.4 1228.0,273.4 1226.0,273.4 1224.0,273.4 1222.0,273.4 1220.0,273.4 1218.0,273.5 1216.0,273.5 1214.0,273.5 1212.0,273.5 1210.0,273.5 1208.0,273.5 1206.0,273.5 1204.0,273.5 1202.0,273.5 1200.0,273.5 1198.0,273.5 1196.0,273.5 1194.0,273.5 1192.0,273.5 1190.0,273.5 1188.0,273.5 1186.0,273.5 1184.0,273.5 1182.0,273.5 1180.0,273.6 1178.0,273.6 1176.0,273.6 1174.0,273.6 1172.0,273.6 1170.0,273.6 1168.0,273.6 1166.0,273.6 1164.0,273.6 1162.0,273.6 1160.0,273.6 1158.0,273.6 1156.0,273.6 1154.0,273.6 1152.0,273.6 1150.0,273.6 1148.0,273.6 1146.0,273.6 1144.0,273.6 1142.0,273.7 1140.0,273.7 1138.0,273.7 1136.0,273.7 1134.0,273.7 1132.0,273.7 1130.0,273.7 1128.0,273.7 1126.0,273.7 1124.0,273.7 1122.0,273.7 1120.0,273.7 1118.0,273.7 1116.0,273.7 1114.0,273.7 1112.0,273.7 1110.0,273.7 1108.0,273.7 1106.0,273.8 1104.0,273.8 1102.0,273.8 1100.0,273.8 1098.0,273.8 1096.0,273.8 1094.0,273.8 1092.0,273.8 1090.0,273.8 1088.0,273.8 1086.0,273.8 1084.0,273.8 1082.0,273.8 1080.0,273.8 1078.0,273.8 1076.0,273.8 1074.0,273.8 1072.0,273.8 1070.0,273.8 1068.0,273.9 1066.0,273.9 1064.0,273.9 1062.0,273.9 1060.0,273.9 1058.0,273.9 1056.0,273.9 1054.0,273.9 1052.0,273.9 1050.0,273.9 1048.0,273.9 1046.0,273.9 1044.0,273.9 1042.0,273.9 1040.0,273.9 1038.0,273.9 1036.0,273.9 1034.0,273.9 1032.0,273.9 1030.0,274.0 1028.0,274.0 1026.0,274.0 1024.0,274.0 1022.0,274.0 1020.0,274.0 1018.0,274.0 1016.0,274.0 1014.0,274.0 1012.0,274.0 1010.0,274.0 1008.0,274.0 1006.0,274.0 1004.0,274.0 1002.0,274.0 1000.0,274.0 998.0,274.0 996.0,274.0 994.0,274.0 992.0,274.1 990.0,274.1 988.0,274.1 986.0,274.1 984.0,274.1 982.0,274.1 980.0,274.1 978.0,274.1 976.0,274.1 974.0,274.1 972.0,274.1 970.0,274.1 968.0,274.1 966.0,274.1 964.0,274.1 962.0,274.1 960.0,274.1 958.0,274.1 956.0,274.1 954.0,274.1 952.0,274.1 950.0,274.2 948.0,274.2 946.0,274.2 944.0,274.2 942.0,274.2 940.0,274.2 938.0,274.0 936.0,273.9 934.0,273.7 932.0,273.6 930.0,273.5 928.0,273.3 926.0,273.2 924.0,273.0 922.0,272.9 920.0,272.7 918.0,272.6 916.0,272.5 914.0,272.3 912.0,272.2 910.0,272.0 908.0,272.2 906.0,272.4 904.0,272.5 902.0,272.7 900.0,272.9 898.0,273.1 896.0,273.2 894.0,273.4 892.0,273.6 890.0,273.8 888.0,273.9 886.0,274.1 884.0,274.4 882.0,274.6 880.0,274.8 878.0,275.0 876.0,275.3 874.0,275.5 872.0,275.7 870.0,275.9 868.0,276.2 866.0,276.3 864.0,276.5 862.0,276.7 860.0,276.8 858.0,277.0 856.0,277.2 854.0,277.4 852.0,277.6 850.0,277.9 848.0,278.1 846.0,278.4 844.0,278.6 842.0,278.9 840.0,279.0 838.0,279.2 836.0,279.3 834.0,279.5 832.0,279.6 830.0,279.8 828.0,280.6 826.0,282.1 824.0,283.5 822.0,285.0 820.0,287.9 818.0,298.2 816.0,310.4" fill="#12A38C"/>
<polyline points="816.0,305.9 816.5,299.1 816.9,293.4 817.4,288.9 817.8,298.2 818.3,285.2 818.7,287.1 819.2,276.5 819.6,277.4 820.1,277.2 820.5,285.9 821.0,284.9 821.5,279.9 821.9,272.1 822.4,270.8 822.8,284.2 823.3,284.6 823.7,278.2 824.2,274.3 824.6,273.4 825.1,273.4 825.6,279.1 826.0,276.7 826.5,270.1 826.9,280.3 827.4,280.3 827.8,280.1 828.3,277.6 828.7,269.7 829.2,279.3 829.6,275.8 830.1,268.8 830.6,271.3 831.0,273.6 831.5,272.5 831.9,269.0 832.4,278.1 832.8,280.5 833.3,274.8 833.7,279.5 834.2,271.4 834.7,272.8 835.1,279.7 835.6,272.2 836.0,264.8 836.5,279.9 836.9,275.2 837.4,268.6 837.8,273.0 838.3,268.8 838.7,267.8 839.2,280.6 839.7,280.3 840.1,277.3 840.6,271.2 841.0,270.9 841.5,267.6 841.9,271.4 842.4,270.1 842.8,272.9 843.3,277.5 843.8,276.6 844.2,279.0 844.7,267.2 845.1,272.9 845.6,266.9 846.0,263.0 846.5,273.5 846.9,274.9 847.4,276.1 847.8,279.6 848.3,279.8 848.8,266.3 849.2,276.0 849.7,268.2 850.1,263.4 850.6,278.8 851.0,267.2 851.5,266.2 851.9,276.3 852.4,278.1 852.9,275.4 853.3,269.8 853.8,277.1 854.2,270.8 854.7,262.4 855.1,270.7 855.6,278.4 856.0,278.3 856.5,270.9 856.9,277.8 857.4,275.0 857.9,273.8 858.3,274.5 858.8,274.7 859.2,272.9 859.7,281.4 860.1,275.8 860.6,280.8 861.0,270.3 861.5,268.2 862.0,278.4 862.4,282.3 862.9,278.1 863.3,271.2 863.8,274.9 864.2,266.2 864.7,264.0 865.1,272.2 865.6,266.1 866.0,277.1 866.5,272.5 867.0,261.3 867.4,276.8 867.9,270.0 868.3,268.7 868.8,264.8 869.2,269.4 869.7,276.9 870.1,266.7 870.6,269.0 871.1,274.8 871.5,265.7 872.0,262.8 872.4,271.1 872.9,268.6 873.3,280.3 873.8,276.9 874.2,271.8 874.7,275.5 875.1,277.2 875.6,262.2 876.1,263.5 876.5,274.4 877.0,264.1 877.4,273.4 877.9,263.4 878.3,266.7 878.8,274.5 879.2,262.4 879.7,266.2 880.2,272.6 880.6,275.6 881.1,271.2 881.5,266.2 882.0,261.2 882.4,261.5 882.9,271.7 883.3,275.8 883.8,271.8 884.2,261.9 884.7,262.0 885.2,261.8 885.6,272.7 886.1,271.8 886.5,263.4 887.0,261.7 887.4,256.0 887.9,269.9 888.3,261.0 888.8,272.0 889.3,263.9 889.7,256.6 890.2,261.9 890.6,271.5 891.1,268.8 891.5,275.1 892.0,274.3 892.4,266.2 892.9,272.3 893.3,277.5 893.8,274.1 894.3,263.8 894.7,263.0 895.2,268.3 895.6,273.4 896.1,265.4 896.5,266.0 897.0,274.5 897.4,272.2 897.9,268.7 898.4,266.2 898.8,270.0 899.3,264.1 899.7,271.5 900.2,259.8 900.6,260.9 901.1,274.0 901.5,260.1 902.0,269.1 902.4,266.1 902.9,273.9 903.4,260.8 903.8,271.5 904.3,273.3 904.7,272.0 905.2,264.7 905.6,272.3 906.1,258.9 906.5,265.4 907.0,262.4 907.5,265.9 907.9,263.9 908.4,262.4 908.8,262.3 909.3,272.9 909.7,272.6 910.2,261.4 910.6,261.0 911.1,263.9 911.5,273.4 912.0,260.6 912.5,268.9 912.9,261.7 913.4,268.8 913.8,259.8 914.3,270.6 914.7,270.6 915.2,273.0 915.6,264.6 916.1,271.4 916.6,260.3 917.0,265.0 917.5,271.8 917.9,271.1 918.4,262.2 918.8,271.5 919.3,261.5 919.7,274.0 920.2,272.0 920.6,264.6 921.1,261.5 921.6,261.1 922.0,264.6 922.5,272.6 922.9,263.8 923.4,266.6 923.8,263.8 924.3,261.4 924.7,264.5 925.2,261.1 925.7,274.1 926.1,264.1 926.6,271.6 927.0,261.7 927.5,260.6 927.9,261.5 928.4,270.7 928.8,273.2 929.3,267.4 929.7,268.9 930.2,277.3 930.7,273.7 931.1,274.1 931.6,266.2 932.0,263.2 932.5,261.1 932.9,261.1 933.4,269.0 933.8,267.4 934.3,274.7 934.8,262.6 935.2,267.1 935.7,263.9 936.1,272.4 936.6,267.0 937.0,270.8 937.5,272.3 937.9,269.5 938.4,267.5 938.8,271.6 939.3,275.6 939.8,265.5 940.2,262.7 940.7,279.3 941.1,270.2 941.6,266.3 942.0,275.0 942.5,267.0 942.9,270.9 943.4,275.5 943.9,274.2 944.3,268.5 944.8,266.0 945.2,268.3 945.7,272.6 946.1,274.8 946.6,268.4 947.0,271.9 947.5,270.7 947.9,275.6 948.4,275.3 948.9,272.5 949.3,272.8 949.8,265.0 950.2,272.7 950.7,275.2 951.1,279.1 951.6,275.5 952.0,262.9 952.5,262.2 953.0,272.1 953.4,270.8 953.9,274.6 954.3,264.7 954.8,261.4 955.2,266.0 955.7,266.7 956.1,263.8 956.6,273.2 957.0,261.5 957.5,265.2 958.0,272.8 958.4,266.1 958.9,266.8 959.3,270.6 959.8,275.3 960.2,273.3 960.7,276.0 961.1,262.1 961.6,275.6 962.1,271.9 962.5,279.1 963.0,265.1 963.4,264.7 963.9,266.2 964.3,275.1 964.8,266.0 965.2,265.0 965.7,274.6 966.1,264.3 966.6,265.7 967.1,276.0 967.5,262.6 968.0,272.1 968.4,264.2 968.9,268.7 969.3,275.0 969.8,263.7 970.2,279.6 970.7,273.7 971.2,275.7 971.6,271.3 972.1,274.6 972.5,262.8 973.0,275.2 973.4,272.9 973.9,266.1 974.3,267.1 974.8,275.9 975.2,276.1 975.7,267.2 976.2,262.1 976.6,267.7 977.1,274.4 977.5,269.3 978.0,257.7 978.4,261.2 978.9,268.9 979.3,275.4 979.8,269.6 980.3,275.4 980.7,269.0 981.2,261.7 981.6,262.3 982.1,264.1 982.5,256.9 983.0,264.9 983.4,262.2 983.9,272.1 984.3,267.7 984.8,264.8 985.3,271.3 985.7,279.5 986.2,267.3 986.6,275.4 987.1,271.7 987.5,264.7 988.0,268.0 988.4,274.7 988.9,261.9 989.3,273.4 989.8,275.1 990.3,266.0 990.7,265.7 991.2,265.1 991.6,265.4 992.1,265.4 992.5,265.0 993.0,273.8 993.4,273.1 993.9,264.4 994.4,256.9 994.8,275.5 995.3,262.9 995.7,265.0 996.2,275.7 996.6,261.9 997.1,273.9 997.5,262.0 998.0,261.1 998.4,263.1 998.9,262.7 999.4,261.4 999.8,272.4 1000.3,266.5 1000.7,267.7 1001.2,262.9 1001.6,273.7 1002.1,270.2 1002.5,272.4 1003.0,276.0 1003.5,274.5 1003.9,272.1 1004.4,271.6 1004.8,263.1 1005.3,272.4 1005.7,261.2 1006.2,274.2 1006.6,265.4 1007.1,261.9 1007.5,259.1 1008.0,258.6 1008.5,261.3 1008.9,274.0 1009.4,261.0 1009.8,261.1 1010.3,275.1 1010.7,273.1 1011.2,262.1 1011.6,270.4 1012.1,265.7 1012.6,270.3 1013.0,260.9 1013.5,264.9 1013.9,259.0 1014.4,275.1 1014.8,274.6 1015.3,275.1 1015.7,279.4 1016.2,262.4 1016.6,275.6 1017.1,279.0 1017.6,264.1 1018.0,271.3 1018.5,267.7 1018.9,273.4 1019.4,277.4 1019.8,267.0 1020.3,269.7 1020.7,270.8 1021.2,262.5 1021.7,263.2 1022.1,267.5 1022.6,270.9 1023.0,265.3 1023.5,273.3 1023.9,274.3 1024.4,261.0 1024.8,270.7 1025.3,273.9 1025.7,270.2 1026.2,267.0 1026.7,273.9 1027.1,267.2 1027.6,271.1 1028.0,279.9 1028.5,271.9 1028.9,265.3 1029.4,275.8 1029.8,273.7 1030.3,269.7 1030.8,267.3 1031.2,273.4 1031.7,264.4 1032.1,264.3 1032.6,270.2 1033.0,274.5 1033.5,269.6 1033.9,275.3 1034.4,261.8 1034.8,272.5 1035.3,263.8 1035.8,271.7 1036.2,259.1 1036.7,261.9 1037.1,267.7 1037.6,266.6 1038.0,269.5 1038.5,263.5 1038.9,261.3 1039.4,275.3 1039.9,275.7 1040.3,270.4 1040.8,270.0 1041.2,275.8 1041.7,274.0 1042.1,269.2 1042.6,262.8 1043.0,275.6 1043.5,263.8 1043.9,271.9 1044.4,264.0 1044.9,271.7 1045.3,262.0 1045.8,272.9 1046.2,263.3 1046.7,274.3 1047.1,271.3 1047.6,263.2 1048.0,273.0 1048.5,273.1 1049.0,263.2 1049.4,262.5 1049.9,262.1 1050.3,266.2 1050.8,275.6 1051.2,267.0 1051.7,264.2 1052.1,263.9 1052.6,262.0 1053.0,265.1 1053.5,270.1 1054.0,264.1 1054.4,262.3 1054.9,263.5 1055.3,268.3 1055.8,262.3 1056.2,263.4 1056.7,262.5 1057.1,267.2 1057.6,275.6 1058.1,262.3 1058.5,275.6 1059.0,260.9 1059.4,266.3 1059.9,256.6 1060.3,275.1 1060.8,273.5 1061.2,273.9 1061.7,275.2 1062.1,262.4 1062.6,258.8 1063.1,269.6 1063.5,274.4 1064.0,264.4 1064.4,273.2 1064.9,266.7 1065.3,275.1 1065.8,263.1 1066.2,272.7 1066.7,274.3 1067.2,273.0 1067.6,272.8 1068.1,263.6 1068.5,261.2 1069.0,261.7 1069.4,265.5 1069.9,274.9 1070.3,274.7 1070.8,275.1 1071.2,272.6 1071.7,273.4 1072.2,262.2 1072.6,261.2 1073.1,275.3 1073.5,273.4 1074.0,266.2 1074.4,275.5 1074.9,262.4 1075.3,266.2 1075.8,270.3 1076.3,264.7 1076.7,270.9 1077.2,263.5 1077.6,264.6 1078.1,263.9 1078.5,270.6 1079.0,277.5 1079.4,267.2 1079.9,263.7 1080.3,265.0 1080.8,261.7 1081.3,274.7 1081.7,274.6 1082.2,264.9 1082.6,272.6 1083.1,274.1 1083.5,275.7 1084.0,272.3 1084.4,264.7 1084.9,264.7 1085.4,273.7 1085.8,261.5 1086.3,271.7 1086.7,267.1 1087.2,266.6 1087.6,273.8 1088.1,262.7 1088.5,269.7 1089.0,261.2 1089.4,271.2 1089.9,265.5 1090.4,269.9 1090.8,266.6 1091.3,271.7 1091.7,275.3 1092.2,268.6 1092.6,274.3 1093.1,272.1 1093.5,270.0 1094.0,264.3 1094.5,272.9 1094.9,275.4 1095.4,261.3 1095.8,261.5 1096.3,268.8 1096.7,265.5 1097.2,269.6 1097.6,280.0 1098.1,264.4 1098.5,271.0 1099.0,271.5 1099.5,275.3 1099.9,265.5 1100.4,274.1 1100.8,271.1 1101.3,272.6 1101.7,265.1 1102.2,274.7 1102.6,268.5 1103.1,270.9 1103.6,270.3 1104.0,261.9 1104.5,273.1 1104.9,273.3 1105.4,261.2 1105.8,272.0 1106.3,262.4 1106.7,264.7 1107.2,264.5 1107.6,267.2 1108.1,272.6 1108.6,269.7 1109.0,264.2 1109.5,264.5 1109.9,262.0 1110.4,265.4 1110.8,266.0 1111.3,262.2 1111.7,267.7 1112.2,266.7 1112.7,275.3 1113.1,272.5 1113.6,275.0 1114.0,261.6 1114.5,262.3 1114.9,272.4 1115.4,274.3 1115.8,262.0 1116.3,269.9 1116.7,274.6 1117.2,273.2 1117.7,273.6 1118.1,266.6 1118.6,274.6 1119.0,261.6 1119.5,261.0 1119.9,269.1 1120.4,268.4 1120.8,278.0 1121.3,271.1 1121.8,274.5 1122.2,273.5 1122.7,263.0 1123.1,274.1 1123.6,265.3 1124.0,262.9 1124.5,264.6 1124.9,269.3 1125.4,273.8 1125.8,267.5 1126.3,274.5 1126.8,272.5 1127.2,263.1 1127.7,262.7 1128.1,275.6 1128.6,271.6 1129.0,275.1 1129.5,266.7 1129.9,267.3 1130.4,257.7 1130.9,273.2 1131.3,270.1 1131.8,258.7 1132.2,268.8 1132.7,269.1 1133.1,270.0 1133.6,261.2 1134.0,260.8 1134.5,267.5 1134.9,263.7 1135.4,258.1 1135.9,272.3 1136.3,271.3 1136.8,270.5 1137.2,272.6 1137.7,268.8 1138.1,272.8 1138.6,273.6 1139.0,269.0 1139.5,261.3 1140.0,265.8 1140.4,274.4 1140.9,277.7 1141.3,275.2 1141.8,264.0 1142.2,272.8 1142.7,264.5 1143.1,272.2 1143.6,274.5 1144.0,273.0 1144.5,274.9 1145.0,278.0 1145.4,268.6 1145.9,270.5 1146.3,261.7 1146.8,263.4 1147.2,263.1 1147.7,273.9 1148.1,272.2 1148.6,263.5 1149.1,270.4 1149.5,266.6 1150.0,263.2 1150.4,266.5 1150.9,274.2 1151.3,265.4 1151.8,275.1 1152.2,265.2 1152.7,270.9 1153.1,261.4 1153.6,275.3 1154.1,262.0 1154.5,261.8 1155.0,274.8 1155.4,261.8 1155.9,266.2 1156.3,262.6 1156.8,274.4 1157.2,262.0 1157.7,279.5 1158.1,272.4 1158.6,262.8 1159.1,262.1 1159.5,269.2 1160.0,262.0 1160.4,271.6 1160.9,274.1 1161.3,270.6 1161.8,268.3 1162.2,269.5 1162.7,274.7 1163.2,271.8 1163.6,266.4 1164.1,273.3 1164.5,267.0 1165.0,274.8 1165.4,270.4 1165.9,273.5 1166.3,273.1 1166.8,267.7 1167.2,272.6 1167.7,264.9 1168.2,265.9 1168.6,270.9 1169.1,270.7 1169.5,267.8 1170.0,261.4 1170.4,262.2 1170.9,273.2 1171.3,261.4 1171.8,258.2 1172.3,270.8 1172.7,274.3 1173.2,266.0 1173.6,272.4 1174.1,273.9 1174.5,265.5 1175.0,275.1 1175.4,261.0 1175.9,275.0 1176.3,267.1 1176.8,272.9 1177.3,274.0 1177.7,263.4 1178.2,270.0 1178.6,271.2 1179.1,275.2 1179.5,262.5 1180.0,269.7 1180.4,261.6 1180.9,272.1 1181.4,269.8 1181.8,265.2 1182.3,263.6 1182.7,267.3 1183.2,260.7 1183.6,270.2 1184.1,271.5 1184.5,268.4 1185.0,271.9 1185.4,268.8 1185.9,272.0 1186.4,272.8 1186.8,267.1 1187.3,275.1 1187.7,279.5 1188.2,264.0 1188.6,263.0 1189.1,260.7 1189.5,273.3 1190.0,262.1 1190.5,263.5 1190.9,274.2 1191.4,274.4 1191.8,264.3 1192.3,270.5 1192.7,257.7 1193.2,265.6 1193.6,266.1 1194.1,262.6 1194.5,274.6 1195.0,266.0 1195.5,272.7 1195.9,272.2 1196.4,265.3 1196.8,257.4 1197.3,264.3 1197.7,264.3 1198.2,274.9 1198.6,272.5 1199.1,273.3 1199.6,260.9 1200.0,260.9 1200.5,273.1 1200.9,273.6 1201.4,272.8 1201.8,263.7 1202.3,274.7 1202.7,267.2 1203.2,264.9 1203.6,261.3 1204.1,272.7 1204.6,273.3 1205.0,279.0 1205.5,262.0 1205.9,273.2 1206.4,261.2 1206.8,261.1 1207.3,277.0 1207.7,272.3 1208.2,275.0 1208.7,262.8 1209.1,260.8 1209.6,271.3 1210.0,271.1 1210.5,262.9 1210.9,263.6 1211.4,265.2 1211.8,274.4 1212.3,262.6 1212.7,264.9 1213.2,269.3 1213.7,266.0 1214.1,271.1 1214.6,263.3 1215.0,273.4 1215.5,268.7 1215.9,274.0 1216.4,274.6 1216.8,260.9 1217.3,273.4 1217.8,274.4 1218.2,271.3 1218.7,274.0 1219.1,261.3 1219.6,261.2 1220.0,270.1 1220.5,260.7 1220.9,273.6 1221.4,264.3 1221.8,271.2 1222.3,264.8 1222.8,271.9 1223.2,265.5 1223.7,274.9 1224.1,269.5 1224.6,271.1 1225.0,262.5 1225.5,270.5 1225.9,263.2 1226.4,266.9 1226.9,274.7 1227.3,261.0 1227.8,274.5 1228.2,264.3 1228.7,266.0 1229.1,270.7 1229.6,265.1 1230.0,260.9 1230.5,270.3 1230.9,261.7 1231.4,264.7 1231.9,256.3 1232.3,272.6 1232.8,268.2 1233.2,271.5 1233.7,267.3 1234.1,270.3 1234.6,273.3 1235.0,269.6 1235.5,265.1 1236.0,274.9 1236.4,273.5 1236.9,270.6 1237.3,266.4 1237.8,272.9 1238.2,266.6 1238.7,258.4 1239.1,268.2 1239.6,261.4 1240.0,261.5 1240.5,270.0 1241.0,261.6 1241.4,263.3 1241.9,271.2 1242.3,267.4 1242.8,270.1 1243.2,265.4 1243.7,270.3 1244.1,273.6 1244.6,274.8 1245.1,274.8 1245.5,270.7 1246.0,270.4 1246.4,275.1 1246.9,264.2 1247.3,271.5 1247.8,273.5 1248.2,272.5 1248.7,273.6 1249.1,273.9 1249.6,262.1 1250.1,273.9 1250.5,262.4 1251.0,261.8 1251.4,262.8 1251.9,270.1 1252.3,265.6 1252.8,262.6 1253.2,263.4 1253.7,262.1 1254.2,274.9 1254.6,266.4 1255.1,277.5 1255.5,265.4 1256.0,262.6 1256.4,272.4 1256.9,262.5 1257.3,262.0 1257.8,258.8 1258.2,263.2 1258.7,269.4 1259.2,270.9 1259.6,268.8 1260.1,263.2 1260.5,261.3 1261.0,264.8 1261.4,262.1 1261.9,265.6 1262.3,272.2 1262.8,266.0 1263.3,271.1 1263.7,265.6 1264.2,265.8 1264.6,272.0 1265.1,279.1 1265.5,265.8 1266.0,275.2 1266.4,272.2 1266.9,263.3 1267.3,268.1 1267.8,274.8 1268.3,275.2 1268.7,271.2 1269.2,274.3 1269.6,266.1 1270.1,271.4 1270.5,264.3 1271.0,273.9 1271.4,264.1 1271.9,260.6 1272.4,275.1 1272.8,264.2 1273.3,271.8 1273.7,263.1 1274.2,275.0 1274.6,267.2 1275.1,258.2 1275.5,264.2 1276.0,265.1 1276.4,262.9 1276.9,262.6 1277.4,267.7 1277.8,261.4 1278.3,273.3 1278.7,277.8 1279.2,266.3 1279.6,267.0 1280.1,274.2 1280.5,266.5 1281.0,266.7 1281.5,256.6 1281.9,256.1 1282.4,273.8 1282.8,262.2 1283.3,261.9 1283.7,271.9 1284.2,277.9 1284.6,269.0 1285.1,274.6 1285.5,271.6 1286.0,260.9 1286.5,260.9 1286.9,265.4 1287.4,273.3 1287.8,272.6 1288.3,272.1 1288.7,272.6 1289.2,269.3 1289.6,275.2 1290.1,274.5 1290.6,261.5 1291.0,269.3 1291.5,271.7 1291.9,267.4 1292.4,262.6 1292.8,269.7 1293.3,268.0 1293.7,271.8 1294.2,268.9 1294.6,267.6 1295.1,274.1 1295.6,274.1 1296.0,261.0 1296.5,273.4 1296.9,274.4 1297.4,270.2 1297.8,273.6 1298.3,258.4 1298.7,264.2 1299.2,274.5 1299.7,258.2 1300.1,274.2 1300.6,268.4 1301.0,269.1 1301.5,261.1 1301.9,269.3 1302.4,265.1 1302.8,265.7 1303.3,266.8 1303.7,267.1 1304.2,269.7 1304.7,272.8 1305.1,275.1 1305.6,266.1 1306.0,264.7 1306.5,260.4 1306.9,272.3 1307.4,263.8 1307.8,264.6 1308.3,271.3 1308.8,266.5 1309.2,264.6 1309.7,272.9 1310.1,257.0 1310.6,262.2 1311.0,274.2 1311.5,263.2 1311.9,278.2 1312.4,271.9 1312.8,274.6 1313.3,261.6 1313.8,272.6 1314.2,262.7 1314.7,273.3 1315.1,264.6 1315.6,267.9 1316.0,274.0 1316.5,271.9 1316.9,266.6 1317.4,256.6 1317.9,263.0 1318.3,268.4 1318.8,270.7 1319.2,266.3 1319.7,264.9 1320.1,269.9 1320.6,264.1 1321.0,273.5 1321.5,273.3 1321.9,262.7 1322.4,270.3" fill="none" stroke="#12A38C" stroke-width="1.8" stroke-linejoin="miter"/>
</g>
<rect x="333" y="270.3" width="317" height="135.2" rx="4" ry="4" fill="#EAEAF2" fill-opacity="0.8" stroke="#C4C4C8" stroke-opacity="0.9" stroke-width="1.1"/>
<line x1="340.5" y1="286.8" x2="386" y2="286.8" stroke="#E3685A" stroke-width="2.4" stroke-opacity="0.8"/>
<text x="402.0" y="295.1" font-size="22.4" text-anchor="start" textLength="210.0" lengthAdjust="spacingAndGlyphs">ENU_ComplexSTDP</text>
<line x1="340.5" y1="319.6" x2="386" y2="319.6" stroke="#4C5E95" stroke-width="2.4" stroke-opacity="0.8"/>
<text x="402.0" y="327.9" font-size="22.4" text-anchor="start" textLength="212.0" lengthAdjust="spacingAndGlyphs">GRU_ComplexSTDP</text>
<line x1="340.5" y1="352.3" x2="386" y2="352.3" stroke="#8C7462" stroke-width="2.4" stroke-opacity="0.8"/>
<text x="402.0" y="360.6" font-size="22.4" text-anchor="start" textLength="222.1" lengthAdjust="spacingAndGlyphs">LSTM_ComplexSTDP</text>
<line x1="340.5" y1="385.1" x2="386" y2="385.1" stroke="#5CBAD4" stroke-width="2.4" stroke-opacity="0.8"/>
<text x="402.0" y="393.4" font-size="22.4" text-anchor="start" textLength="238.9" lengthAdjust="spacingAndGlyphs">NFENU_ComplexSTDP</text>
<rect x="975.3" y="236.9" width="360.9000000000001" height="168.6" rx="4" ry="4" fill="#EAEAF2" fill-opacity="0.8" stroke="#C4C4C8" stroke-opacity="0.9" stroke-width="1.1"/>
<line x1="983" y1="253.5" x2="1027.2" y2="253.5" stroke="#E3685A" stroke-width="2.4" stroke-opacity="0.8"/>
<text x="1044.2" y="261.8" font-size="22.4" text-anchor="start" textLength="192.5" lengthAdjust="spacingAndGlyphs">ENUs-NN_TTMaze</text>
<line x1="983" y1="286.4" x2="1027.2" y2="286.4" stroke="#4C5E95" stroke-width="2.4" stroke-opacity="0.8"/>
<text x="1044.2" y="294.7" font-size="22.4" text-anchor="start" textLength="194.4" lengthAdjust="spacingAndGlyphs">GRUs-NN_TTMaze</text>
<line x1="983" y1="319.3" x2="1027.2" y2="319.3" stroke="#8C7462" stroke-width="2.4" stroke-opacity="0.8"/>
<text x="1044.2" y="327.6" font-size="22.4" text-anchor="start" textLength="204.5" lengthAdjust="spacingAndGlyphs">LSTMs-NN_TTMaze</text>
<line x1="983" y1="352.2" x2="1027.2" y2="352.2" stroke="#5CBAD4" stroke-width="2.4" stroke-opacity="0.8"/>
<text x="1044.2" y="360.5" font-size="22.4" text-anchor="start" textLength="221.3" lengthAdjust="spacingAndGlyphs">NFENUs-NN_TTMaze</text>
<line x1="983" y1="385.1" x2="1027.2" y2="385.1" stroke="#22A28E" stroke-width="2.4" stroke-opacity="0.8"/>
<text x="1044.2" y="393.4" font-size="22.4" text-anchor="start" textLength="283.3" lengthAdjust="spacingAndGlyphs">SHAREDENUs-NN_TTMaze</text>
</svg>
</body></html>
